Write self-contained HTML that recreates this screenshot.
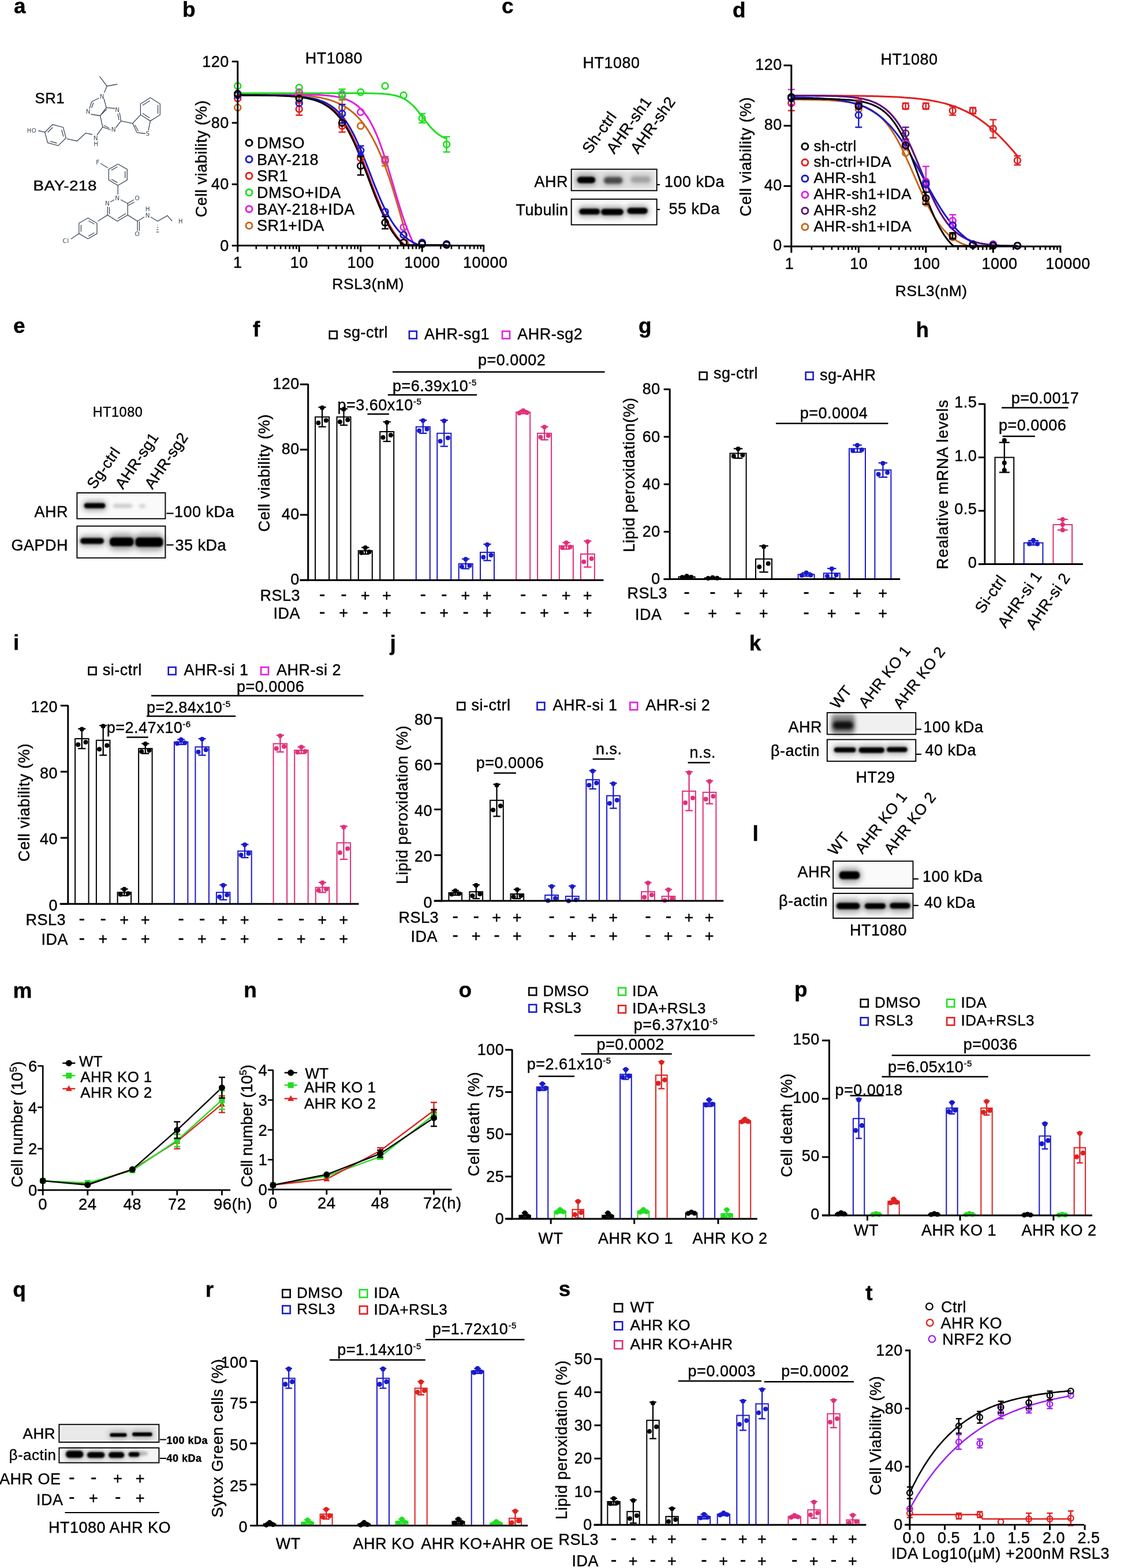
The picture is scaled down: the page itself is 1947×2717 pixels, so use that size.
<!DOCTYPE html><html><head><meta charset="utf-8"><title>Figure</title><style>html,body{margin:0;padding:0;background:#fff;width:1947px;height:2717px;overflow:hidden}svg{display:block;font-family:"Liberation Sans",Arial,sans-serif}svg text{stroke:#000;stroke-width:0.4px;letter-spacing:0.5px}svg text.at{stroke:none}</style></head><body><svg width="1947" height="2717" viewBox="0 0 1947 2717" font-family="Liberation Sans, Arial, sans-serif"><defs><filter id="b1" x="-50%" y="-80%" width="200%" height="260%"><feGaussianBlur stdDeviation="0.5"/></filter><filter id="b2" x="-50%" y="-80%" width="200%" height="260%"><feGaussianBlur stdDeviation="1"/></filter><filter id="b3" x="-50%" y="-80%" width="200%" height="260%"><feGaussianBlur stdDeviation="1.5"/></filter><filter id="b4" x="-50%" y="-80%" width="200%" height="260%"><feGaussianBlur stdDeviation="2"/></filter><filter id="b5" x="-50%" y="-80%" width="200%" height="260%"><feGaussianBlur stdDeviation="2.5"/></filter><filter id="b6" x="-50%" y="-80%" width="200%" height="260%"><feGaussianBlur stdDeviation="3"/></filter><filter id="b7" x="-50%" y="-80%" width="200%" height="260%"><feGaussianBlur stdDeviation="3.5"/></filter><filter id="b8" x="-50%" y="-80%" width="200%" height="260%"><feGaussianBlur stdDeviation="4"/></filter><filter id="b9" x="-50%" y="-80%" width="200%" height="260%"><feGaussianBlur stdDeviation="4.5"/></filter><filter id="b10" x="-50%" y="-80%" width="200%" height="260%"><feGaussianBlur stdDeviation="5"/></filter><filter id="b11" x="-50%" y="-80%" width="200%" height="260%"><feGaussianBlur stdDeviation="5.5"/></filter><filter id="b12" x="-50%" y="-80%" width="200%" height="260%"><feGaussianBlur stdDeviation="6"/></filter><filter id="b13" x="-50%" y="-80%" width="200%" height="260%"><feGaussianBlur stdDeviation="6.5"/></filter><filter id="b14" x="-50%" y="-80%" width="200%" height="260%"><feGaussianBlur stdDeviation="7"/></filter><filter id="b15" x="-50%" y="-80%" width="200%" height="260%"><feGaussianBlur stdDeviation="7.5"/></filter><filter id="b16" x="-50%" y="-80%" width="200%" height="260%"><feGaussianBlur stdDeviation="8"/></filter><filter id="b17" x="-50%" y="-80%" width="200%" height="260%"><feGaussianBlur stdDeviation="8.5"/></filter><filter id="b18" x="-50%" y="-80%" width="200%" height="260%"><feGaussianBlur stdDeviation="9"/></filter><filter id="b19" x="-50%" y="-80%" width="200%" height="260%"><feGaussianBlur stdDeviation="9.5"/></filter><filter id="b20" x="-50%" y="-80%" width="200%" height="260%"><feGaussianBlur stdDeviation="10"/></filter></defs><rect x="0" y="0" width="1947" height="2717" fill="#fff"/><text x="24" y="23.3" font-size="37" font-weight="bold" letter-spacing="0">a</text>
<text transform="translate(60.5 179) scale(1.01 1)" font-size="25.5" letter-spacing="0">SR1</text>
<text transform="translate(57.5 330) scale(1.135 1)" font-size="24.5" letter-spacing="0">BAY-218</text>
<path d="M172.5,132.3 L185.2,149.2 L203.2,146" stroke="#3c4a5a" stroke-width="1.3" fill="none"/>
<path d="M185.2,149.2 L180.5,160.5" stroke="#3c4a5a" stroke-width="1.3" fill="none"/>
<text class="at" x="177" y="171.3" font-size="10.5" fill="#3c4a5a" text-anchor="middle" font-family="DejaVu Sans, sans-serif">N</text>
<path d="M171.5,170 L159,176" stroke="#3c4a5a" stroke-width="1.3" fill="none"/>
<path d="M159,176 L155,188" stroke="#3c4a5a" stroke-width="1.3" fill="none"/>
<path d="M162,178 L158.5,187" stroke="#3c4a5a" stroke-width="1.3" fill="none"/>
<text class="at" x="153" y="196.8" font-size="10.5" fill="#3c4a5a" text-anchor="middle" font-family="DejaVu Sans, sans-serif">N</text>
<path d="M157.5,198 L173.6,200.5" stroke="#3c4a5a" stroke-width="1.3" fill="none"/>
<path d="M173.6,200.5 L184.2,186.3 L180,171" stroke="#3c4a5a" stroke-width="1.3" fill="none"/>
<path d="M176,198 L185,189" stroke="#3c4a5a" stroke-width="1.3" fill="none"/>
<path d="M184.2,186.3 L199,188" stroke="#3c4a5a" stroke-width="1.3" fill="none"/>
<text class="at" x="203.5" y="194.3" font-size="10.5" fill="#3c4a5a" text-anchor="middle" font-family="DejaVu Sans, sans-serif">N</text>
<path d="M207,195 L209.6,209.6 L201,221" stroke="#3c4a5a" stroke-width="1.3" fill="none"/>
<path d="M204,197 L206,208" stroke="#3c4a5a" stroke-width="1.3" fill="none"/>
<text class="at" x="197" y="228.3" font-size="10.5" fill="#3c4a5a" text-anchor="middle" font-family="DejaVu Sans, sans-serif">N</text>
<path d="M192,225 L177.8,220.2 L173.6,200.5" stroke="#3c4a5a" stroke-width="1.3" fill="none"/>
<path d="M189,222 L179.5,217" stroke="#3c4a5a" stroke-width="1.3" fill="none"/>
<path d="M177.8,220.2 L168,234" stroke="#3c4a5a" stroke-width="1.3" fill="none"/>
<text class="at" x="166" y="243.3" font-size="10.5" fill="#3c4a5a" text-anchor="middle" font-family="DejaVu Sans, sans-serif">N</text>
<text class="at" x="166.5" y="252.8" font-size="10.5" fill="#3c4a5a" text-anchor="middle" font-family="DejaVu Sans, sans-serif">H</text>
<path d="M160,233 L148.2,230.7 L133.4,244.5 L115.4,240.3" stroke="#3c4a5a" stroke-width="1.3" fill="none"/>
<path d="M114.3,239 L109.4,220.7 L91.1,215.8 L77.7,229.2 L82.6,247.5 L100.9,252.4 L114.3,239" stroke="#3c4a5a" stroke-width="1.3" fill="none"/>
<path d="M109.9,236.6 L106.8,225" stroke="#3c4a5a" stroke-width="1.3" fill="none"/>
<path d="M91.2,220.8 L82.7,229.3" stroke="#3c4a5a" stroke-width="1.3" fill="none"/>
<path d="M86.9,244.9 L98.5,248" stroke="#3c4a5a" stroke-width="1.3" fill="none"/>
<path d="M78.2,229.2 L66.5,226.5" stroke="#3c4a5a" stroke-width="1.3" fill="none"/>
<text class="at" x="55" y="229.6" font-size="10" fill="#3c4a5a" text-anchor="middle" font-family="DejaVu Sans, sans-serif">HO</text>
<path d="M209.6,209.6 L229.7,213.8" stroke="#3c4a5a" stroke-width="1.3" fill="none"/>
<path d="M229.7,213.8 L243.4,199 L260.4,209.6 L257,226" stroke="#3c4a5a" stroke-width="1.3" fill="none"/>
<path d="M252,231.5 L237.2,229.7 L229.7,213.8" stroke="#3c4a5a" stroke-width="1.3" fill="none"/>
<path d="M233.5,216.5 L239.5,227" stroke="#3c4a5a" stroke-width="1.3" fill="none"/>
<text class="at" x="256" y="235.3" font-size="10.5" fill="#3c4a5a" text-anchor="middle" font-family="DejaVu Sans, sans-serif">S</text>
<path d="M243.4,199 L243.4,180 L260.4,169.3 L277.3,180 L277.3,199 L260.4,209.6" stroke="#3c4a5a" stroke-width="1.3" fill="none"/>
<path d="M247,182.5 L259.5,174.5" stroke="#3c4a5a" stroke-width="1.3" fill="none"/>
<path d="M273.5,182 L273.5,197" stroke="#3c4a5a" stroke-width="1.3" fill="none"/>
<path d="M247,196.5 L259.5,204.5" stroke="#3c4a5a" stroke-width="1.3" fill="none"/>
<text class="at" x="169.5" y="284.8" font-size="10.5" fill="#3c4a5a" text-anchor="middle" font-family="DejaVu Sans, sans-serif">F</text>
<path d="M174,283 L187,291" stroke="#3c4a5a" stroke-width="1.3" fill="none"/>
<path d="M204.3,284.2 L188.3,293.4 L188.3,311.9 L204.3,321.2 L220.3,311.9 L220.3,293.4 L204.3,284.2" stroke="#3c4a5a" stroke-width="1.3" fill="none"/>
<path d="M203.2,289 L193,294.9" stroke="#3c4a5a" stroke-width="1.3" fill="none"/>
<path d="M193,310.5 L203.2,316.4" stroke="#3c4a5a" stroke-width="1.3" fill="none"/>
<path d="M216.7,308.6 L216.7,296.8" stroke="#3c4a5a" stroke-width="1.3" fill="none"/>
<path d="M204.3,321.2 L204.3,337" stroke="#3c4a5a" stroke-width="1.3" fill="none"/>
<text class="at" x="203.5" y="347.3" font-size="10.5" fill="#3c4a5a" text-anchor="middle" font-family="DejaVu Sans, sans-serif">N</text>
<path d="M209,346 L221.2,352.5 L232,346" stroke="#3c4a5a" stroke-width="1.3" fill="none"/>
<path d="M222,356 L233,350" stroke="#3c4a5a" stroke-width="1.3" fill="none"/>
<text class="at" x="238" y="347.3" font-size="10.5" fill="#3c4a5a" text-anchor="middle" font-family="DejaVu Sans, sans-serif">O</text>
<path d="M221.2,352.5 L221.2,372.6 L203.2,383.2 L186.3,372.6 L186.3,358" stroke="#3c4a5a" stroke-width="1.3" fill="none"/>
<path d="M218,370 L204,378.5" stroke="#3c4a5a" stroke-width="1.3" fill="none"/>
<path d="M189.5,371 L189.5,359" stroke="#3c4a5a" stroke-width="1.3" fill="none"/>
<text class="at" x="186.3" y="355.8" font-size="10.5" fill="#3c4a5a" text-anchor="middle" font-family="DejaVu Sans, sans-serif">N</text>
<path d="M191,350 L198,346" stroke="#3c4a5a" stroke-width="1.3" fill="none"/>
<path d="M221.2,372.6 L238.1,383.2 L250,376" stroke="#3c4a5a" stroke-width="1.3" fill="none"/>
<text class="at" x="256" y="376.8" font-size="10.5" fill="#3c4a5a" text-anchor="middle" font-family="DejaVu Sans, sans-serif">N</text>
<text class="at" x="256" y="366.3" font-size="10.5" fill="#3c4a5a" text-anchor="middle" font-family="DejaVu Sans, sans-serif">H</text>
<path d="M238.1,383.2 L238.1,400" stroke="#3c4a5a" stroke-width="1.3" fill="none"/>
<path d="M241.5,384 L241.5,400" stroke="#3c4a5a" stroke-width="1.3" fill="none"/>
<text class="at" x="238" y="409.3" font-size="10.5" fill="#3c4a5a" text-anchor="middle" font-family="DejaVu Sans, sans-serif">O</text>
<path d="M261,376 L273,383.2 L290,373.6 L298,383" stroke="#3c4a5a" stroke-width="1.3" fill="none"/>
<text class="at" x="313" y="387.1" font-size="10" fill="#3c4a5a" text-anchor="middle" font-family="DejaVu Sans, sans-serif">H</text>
<line x1="273" y1="386" x2="273" y2="386" stroke="#3c4a5a" stroke-width="1.2"/>
<line x1="272.4" y1="390" x2="273.6" y2="390" stroke="#3c4a5a" stroke-width="1.2"/>
<line x1="271.8" y1="394" x2="274.2" y2="394" stroke="#3c4a5a" stroke-width="1.2"/>
<line x1="271.2" y1="398" x2="274.8" y2="398" stroke="#3c4a5a" stroke-width="1.2"/>
<line x1="270.6" y1="402" x2="275.4" y2="402" stroke="#3c4a5a" stroke-width="1.2"/>
<path d="M186.3,372.6 L169.3,383.2" stroke="#3c4a5a" stroke-width="1.3" fill="none"/>
<path d="M168,386.8 L152.4,377.8 L136.8,386.8 L136.8,404.8 L152.4,413.8 L168,404.8 L168,386.8" stroke="#3c4a5a" stroke-width="1.3" fill="none"/>
<path d="M163.4,388.3 L153.4,382.5" stroke="#3c4a5a" stroke-width="1.3" fill="none"/>
<path d="M140.4,390 L140.4,401.6" stroke="#3c4a5a" stroke-width="1.3" fill="none"/>
<path d="M153.4,409.1 L163.4,403.3" stroke="#3c4a5a" stroke-width="1.3" fill="none"/>
<path d="M136.8,404.8 L123,414" stroke="#3c4a5a" stroke-width="1.3" fill="none"/>
<text class="at" x="114" y="420.8" font-size="10.5" fill="#3c4a5a" text-anchor="middle" font-family="DejaVu Sans, sans-serif">Cl</text>
<text x="315.9" y="29.2" font-size="37" font-weight="bold" letter-spacing="0">b</text>
<text x="578.4" y="109.5" font-size="27" text-anchor="middle" letter-spacing="0.95">HT1080</text>
<path d="M411.7,162.2L414.7,162.2L417.7,162.2L420.7,162.2L423.8,162.2L426.8,162.2L429.8,162.3L432.8,162.3L435.8,162.3L438.8,162.3L441.9,162.4L444.9,162.4L447.9,162.4L450.9,162.4L453.9,162.5L456.9,162.5L460,162.6L463,162.6L466,162.7L469,162.7L472,162.8L475,162.8L478,162.9L481.1,163L484.1,163.1L487.1,163.2L490.1,163.3L493.1,163.4L496.1,163.5L499.2,163.6L502.2,163.7L505.2,163.9L508.2,164L511.2,164.2L514.2,164.4L517.2,164.6L520.3,164.8L523.3,165.1L526.3,165.3L529.3,165.6L532.3,165.9L535.3,166.3L538.4,166.6L541.4,167L544.4,167.5L547.4,167.9L550.4,168.4L553.4,169L556.5,169.6L559.5,170.2L562.5,170.9L565.5,171.7L568.5,172.5L571.5,173.4L574.5,174.4L577.6,175.4L580.6,176.6L583.6,177.8L586.6,179.1L589.6,180.6L592.6,182.1L595.7,183.8L598.7,185.6L601.7,187.6L604.7,189.7L607.7,192L610.7,194.4L613.8,197.1L616.8,199.9L619.8,203L622.8,206.3L625.8,209.8L628.8,213.5L631.8,217.6L634.9,221.9L637.9,226.5L640.9,231.4L643.9,236.6L646.9,242.1L649.9,248L653,254.2L656,260.8L659,267.8L662,275.1L665,282.7L668,290.8L671,299.2L674.1,307.9L677.1,317L680.1,326.4L683.1,336.2L686.1,346.2L689.1,356.5L692.2,367.1L695.2,377.9L698.2,388.9L701.2,400L704.2,411.3L707.2,422.6L710.3,424.8L713.3,424.8L716.3,424.8L719.3,424.8L722.3,424.8L725.3,424.8L728.3,424.8L731.4,424.8L734.4,424.8L737.4,424.8L740.4,424.8L743.4,424.8L746.4,424.8L749.5,424.8L752.5,424.8L755.5,424.8L758.5,424.8L761.5,424.8L764.5,424.8L767.5,424.8L770.6,424.8L773.6,424.8" stroke="#c8661a" stroke-width="3" fill="none"/>
<path d="M411.7,163.4L414.7,163.4L417.7,163.4L420.7,163.4L423.8,163.4L426.8,163.4L429.8,163.4L432.8,163.4L435.8,163.4L438.8,163.4L441.9,163.4L444.9,163.4L447.9,163.4L450.9,163.4L453.9,163.4L456.9,163.4L460,163.4L463,163.4L466,163.4L469,163.4L472,163.4L475,163.4L478,163.4L481.1,163.4L484.1,163.4L487.1,163.4L490.1,163.4L493.1,163.4L496.1,163.5L499.2,163.5L502.2,163.5L505.2,163.5L508.2,163.5L511.2,163.6L514.2,163.6L517.2,163.6L520.3,163.6L523.3,163.7L526.3,163.7L529.3,163.8L532.3,163.8L535.3,163.9L538.4,164L541.4,164.1L544.4,164.2L547.4,164.3L550.4,164.4L553.4,164.6L556.5,164.8L559.5,164.9L562.5,165.2L565.5,165.4L568.5,165.7L571.5,166L574.5,166.4L577.6,166.8L580.6,167.3L583.6,167.9L586.6,168.5L589.6,169.2L592.6,170L595.7,170.9L598.7,171.9L601.7,173.1L604.7,174.4L607.7,175.9L610.7,177.5L613.8,179.4L616.8,181.5L619.8,183.9L622.8,186.6L625.8,189.5L628.8,192.8L631.8,196.5L634.9,200.6L637.9,205.1L640.9,210.1L643.9,215.6L646.9,221.5L649.9,228L653,235L656,242.5L659,250.5L662,258.9L665,267.9L668,277.2L671,286.9L674.1,296.8L677.1,306.9L680.1,317.2L683.1,327.5L686.1,337.7L689.1,347.8L692.2,357.6L695.2,367.2L698.2,376.4L701.2,385.2L704.2,393.5L707.2,401.3L710.3,408.6L713.3,415.4L716.3,421.7L719.3,424.8L722.3,424.8L725.3,424.8L728.3,424.8L731.4,424.8L734.4,424.8L737.4,424.8L740.4,424.8L743.4,424.8L746.4,424.8L749.5,424.8L752.5,424.8L755.5,424.8L758.5,424.8L761.5,424.8L764.5,424.8L767.5,424.8L770.6,424.8L773.6,424.8" stroke="#e020e0" stroke-width="3" fill="none"/>
<path d="M411.7,161.4L414.7,161.4L417.7,161.4L420.7,161.4L423.8,161.4L426.8,161.4L429.8,161.4L432.8,161.4L435.8,161.4L438.8,161.4L441.9,161.4L444.9,161.4L447.9,161.4L450.9,161.4L453.9,161.4L456.9,161.4L460,161.4L463,161.4L466,161.4L469,161.4L472,161.4L475,161.4L478,161.4L481.1,161.4L484.1,161.4L487.1,161.4L490.1,161.4L493.1,161.4L496.1,161.4L499.2,161.4L502.2,161.4L505.2,161.4L508.2,161.4L511.2,161.4L514.2,161.4L517.2,161.4L520.3,161.4L523.3,161.4L526.3,161.4L529.3,161.4L532.3,161.4L535.3,161.4L538.4,161.4L541.4,161.4L544.4,161.4L547.4,161.4L550.4,161.4L553.4,161.4L556.5,161.4L559.5,161.4L562.5,161.4L565.5,161.4L568.5,161.4L571.5,161.4L574.5,161.4L577.6,161.4L580.6,161.4L583.6,161.4L586.6,161.4L589.6,161.4L592.6,161.4L595.7,161.4L598.7,161.4L601.7,161.4L604.7,161.4L607.7,161.5L610.7,161.5L613.8,161.5L616.8,161.5L619.8,161.5L622.8,161.5L625.8,161.5L628.8,161.6L631.8,161.6L634.9,161.6L637.9,161.7L640.9,161.7L643.9,161.8L646.9,161.8L649.9,161.9L653,162L656,162.1L659,162.3L662,162.5L665,162.7L668,162.9L671,163.2L674.1,163.6L677.1,164L680.1,164.6L683.1,165.2L686.1,165.9L689.1,166.8L692.2,167.8L695.2,169L698.2,170.3L701.2,172L704.2,173.8L707.2,175.9L710.3,178.3L713.3,181L716.3,183.9L719.3,187.1L722.3,190.6L725.3,194.3L728.3,198.1L731.4,202.1L734.4,206L737.4,210L740.4,213.8L743.4,217.5L746.4,220.9L749.5,224.2L752.5,227.1L755.5,229.8L758.5,232.2L761.5,234.3L764.5,236.1L767.5,237.7L770.6,239.1L773.6,240.3" stroke="#22dd22" stroke-width="3" fill="none"/>
<path d="M411.7,165L414.7,165L417.7,165L420.7,165L423.8,165L426.8,165L429.8,165L432.8,165L435.8,165L438.8,165.1L441.9,165.1L444.9,165.1L447.9,165.1L450.9,165.1L453.9,165.2L456.9,165.2L460,165.2L463,165.3L466,165.3L469,165.4L472,165.4L475,165.5L478,165.6L481.1,165.7L484.1,165.7L487.1,165.8L490.1,166L493.1,166.1L496.1,166.2L499.2,166.4L502.2,166.6L505.2,166.8L508.2,167L511.2,167.2L514.2,167.5L517.2,167.8L520.3,168.1L523.3,168.5L526.3,169L529.3,169.4L532.3,170L535.3,170.6L538.4,171.2L541.4,172L544.4,172.8L547.4,173.7L550.4,174.7L553.4,175.8L556.5,177.1L559.5,178.5L562.5,180L565.5,181.7L568.5,183.6L571.5,185.6L574.5,187.9L577.6,190.4L580.6,193.2L583.6,196.2L586.6,199.5L589.6,203L592.6,206.9L595.7,211.1L598.7,215.7L601.7,220.5L604.7,225.8L607.7,231.4L610.7,237.3L613.8,243.6L616.8,250.2L619.8,257.1L622.8,264.2L625.8,271.7L628.8,279.3L631.8,287.1L634.9,295.1L637.9,303.1L640.9,311.2L643.9,319.2L646.9,327.2L649.9,335L653,342.7L656,350.1L659,357.4L662,364.3L665,370.9L668,377.2L671,383.2L674.1,388.9L677.1,394.1L680.1,399.1L683.1,403.7L686.1,407.9L689.1,411.8L692.2,415.5L695.2,418.8L698.2,421.8L701.2,424.6L704.2,424.8L707.2,424.8L710.3,424.8L713.3,424.8L716.3,424.8L719.3,424.8L722.3,424.8L725.3,424.8L728.3,424.8L731.4,424.8L734.4,424.8L737.4,424.8L740.4,424.8L743.4,424.8L746.4,424.8L749.5,424.8L752.5,424.8L755.5,424.8L758.5,424.8L761.5,424.8L764.5,424.8L767.5,424.8L770.6,424.8L773.6,424.8" stroke="#e02020" stroke-width="3" fill="none"/>
<path d="M411.7,164.9L414.7,164.9L417.7,164.9L420.7,164.9L423.8,164.9L426.8,164.9L429.8,164.9L432.8,164.9L435.8,164.9L438.8,165L441.9,165L444.9,165L447.9,165L450.9,165L453.9,165L456.9,165.1L460,165.1L463,165.1L466,165.2L469,165.2L472,165.2L475,165.3L478,165.3L481.1,165.4L484.1,165.5L487.1,165.6L490.1,165.6L493.1,165.7L496.1,165.9L499.2,166L502.2,166.1L505.2,166.3L508.2,166.4L511.2,166.6L514.2,166.9L517.2,167.1L520.3,167.4L523.3,167.7L526.3,168L529.3,168.4L532.3,168.9L535.3,169.4L538.4,169.9L541.4,170.5L544.4,171.2L547.4,172L550.4,172.8L553.4,173.8L556.5,174.9L559.5,176L562.5,177.4L565.5,178.8L568.5,180.5L571.5,182.3L574.5,184.3L577.6,186.5L580.6,188.9L583.6,191.6L586.6,194.5L589.6,197.7L592.6,201.3L595.7,205.1L598.7,209.3L601.7,213.7L604.7,218.6L607.7,223.8L610.7,229.3L613.8,235.2L616.8,241.4L619.8,248L622.8,254.8L625.8,261.9L628.8,269.3L631.8,276.8L634.9,284.5L637.9,292.3L640.9,300.1L643.9,308L646.9,315.8L649.9,323.4L653,330.9L656,338.2L659,345.3L662,352.1L665,358.6L668,364.8L671,370.6L674.1,376.1L677.1,381.2L680.1,386L683.1,390.4L686.1,394.5L689.1,398.3L692.2,401.7L695.2,404.9L698.2,407.8L701.2,410.4L704.2,412.8L707.2,415L710.3,417L713.3,418.7L716.3,420.3L719.3,421.8L722.3,423.1L725.3,424.2L728.3,424.8L731.4,424.8L734.4,424.8L737.4,424.8L740.4,424.8L743.4,424.8L746.4,424.8L749.5,424.8L752.5,424.8L755.5,424.8L758.5,424.8L761.5,424.8L764.5,424.8L767.5,424.8L770.6,424.8L773.6,424.8" stroke="#1a1acc" stroke-width="3" fill="none"/>
<path d="M411.7,165L414.7,165L417.7,165L420.7,165L423.8,165L426.8,165L429.8,165L432.8,165L435.8,165L438.8,165.1L441.9,165.1L444.9,165.1L447.9,165.1L450.9,165.2L453.9,165.2L456.9,165.2L460,165.3L463,165.3L466,165.4L469,165.4L472,165.5L475,165.5L478,165.6L481.1,165.7L484.1,165.8L487.1,165.9L490.1,166L493.1,166.2L496.1,166.3L499.2,166.5L502.2,166.7L505.2,166.9L508.2,167.1L511.2,167.4L514.2,167.7L517.2,168L520.3,168.4L523.3,168.8L526.3,169.3L529.3,169.8L532.3,170.3L535.3,171L538.4,171.7L541.4,172.5L544.4,173.3L547.4,174.3L550.4,175.4L553.4,176.6L556.5,178L559.5,179.4L562.5,181.1L565.5,182.9L568.5,184.9L571.5,187.1L574.5,189.5L577.6,192.2L580.6,195.1L583.6,198.3L586.6,201.7L589.6,205.5L592.6,209.6L595.7,214L598.7,218.8L601.7,223.9L604.7,229.4L607.7,235.2L610.7,241.3L613.8,247.8L616.8,254.6L619.8,261.7L622.8,269L625.8,276.6L628.8,284.4L631.8,292.3L634.9,300.3L637.9,308.3L640.9,316.4L643.9,324.4L646.9,332.2L649.9,340L653,347.5L656,354.8L659,361.9L662,368.6L665,375.1L668,381.2L671,386.9L674.1,392.3L677.1,397.4L680.1,402.1L683.1,406.4L686.1,410.5L689.1,414.2L692.2,417.6L695.2,420.8L698.2,423.7L701.2,424.8L704.2,424.8L707.2,424.8L710.3,424.8L713.3,424.8L716.3,424.8L719.3,424.8L722.3,424.8L725.3,424.8L728.3,424.8L731.4,424.8L734.4,424.8L737.4,424.8L740.4,424.8L743.4,424.8L746.4,424.8L749.5,424.8L752.5,424.8L755.5,424.8L758.5,424.8L761.5,424.8L764.5,424.8L767.5,424.8L770.6,424.8L773.6,424.8" stroke="#000" stroke-width="3" fill="none"/>
<circle cx="411.7" cy="186.4" r="5.4" stroke="#c8661a" stroke-width="2.7" fill="none"/>
<circle cx="518.2" cy="165.1" r="5.4" stroke="#c8661a" stroke-width="2.7" fill="none"/>
<line x1="592.6" y1="173.1" x2="592.6" y2="199.6" stroke="#c8661a" stroke-width="2.4"/>
<line x1="586.6" y1="173.1" x2="598.6" y2="173.1" stroke="#c8661a" stroke-width="2.4"/>
<line x1="586.6" y1="199.6" x2="598.6" y2="199.6" stroke="#c8661a" stroke-width="2.4"/>
<circle cx="592.6" cy="186.4" r="5.4" stroke="#c8661a" stroke-width="2.7" fill="none"/>
<circle cx="624.7" cy="218.3" r="5.4" stroke="#c8661a" stroke-width="2.7" fill="none"/>
<line x1="667.1" y1="271.4" x2="667.1" y2="287.4" stroke="#c8661a" stroke-width="2.4"/>
<line x1="661.1" y1="271.4" x2="673.1" y2="271.4" stroke="#c8661a" stroke-width="2.4"/>
<line x1="661.1" y1="287.4" x2="673.1" y2="287.4" stroke="#c8661a" stroke-width="2.4"/>
<circle cx="667.1" cy="279.4" r="5.4" stroke="#c8661a" stroke-width="2.7" fill="none"/>
<circle cx="699.1" cy="407" r="5.4" stroke="#c8661a" stroke-width="2.7" fill="none"/>
<circle cx="731.2" cy="421.6" r="5.4" stroke="#c8661a" stroke-width="2.7" fill="none"/>
<circle cx="773.6" cy="422.9" r="5.4" stroke="#c8661a" stroke-width="2.7" fill="none"/>
<circle cx="411.7" cy="162.4" r="5.4" stroke="#e020e0" stroke-width="2.7" fill="none"/>
<circle cx="518.2" cy="159.8" r="5.4" stroke="#e020e0" stroke-width="2.7" fill="none"/>
<circle cx="592.6" cy="165.1" r="5.4" stroke="#e020e0" stroke-width="2.7" fill="none"/>
<circle cx="624.7" cy="194.3" r="5.4" stroke="#e020e0" stroke-width="2.7" fill="none"/>
<circle cx="667.1" cy="276.7" r="5.4" stroke="#e020e0" stroke-width="2.7" fill="none"/>
<circle cx="699.1" cy="393.7" r="5.4" stroke="#e020e0" stroke-width="2.7" fill="none"/>
<circle cx="731.2" cy="422.9" r="5.4" stroke="#e020e0" stroke-width="2.7" fill="none"/>
<circle cx="773.6" cy="422.9" r="5.4" stroke="#e020e0" stroke-width="2.7" fill="none"/>
<circle cx="411.7" cy="149.1" r="5.4" stroke="#22dd22" stroke-width="2.7" fill="none"/>
<circle cx="518.2" cy="151.8" r="5.4" stroke="#22dd22" stroke-width="2.7" fill="none"/>
<line x1="592.6" y1="154.5" x2="592.6" y2="170.4" stroke="#22dd22" stroke-width="2.4"/>
<line x1="586.6" y1="154.5" x2="598.6" y2="154.5" stroke="#22dd22" stroke-width="2.4"/>
<line x1="586.6" y1="170.4" x2="598.6" y2="170.4" stroke="#22dd22" stroke-width="2.4"/>
<circle cx="592.6" cy="162.4" r="5.4" stroke="#22dd22" stroke-width="2.7" fill="none"/>
<circle cx="624.7" cy="159.8" r="5.4" stroke="#22dd22" stroke-width="2.7" fill="none"/>
<circle cx="667.1" cy="149.1" r="5.4" stroke="#22dd22" stroke-width="2.7" fill="none"/>
<circle cx="699.1" cy="165.1" r="5.4" stroke="#22dd22" stroke-width="2.7" fill="none"/>
<line x1="731.2" y1="197" x2="731.2" y2="212.9" stroke="#22dd22" stroke-width="2.4"/>
<line x1="725.2" y1="197" x2="737.2" y2="197" stroke="#22dd22" stroke-width="2.4"/>
<line x1="725.2" y1="212.9" x2="737.2" y2="212.9" stroke="#22dd22" stroke-width="2.4"/>
<circle cx="731.2" cy="205" r="5.4" stroke="#22dd22" stroke-width="2.7" fill="none"/>
<line x1="773.6" y1="236.9" x2="773.6" y2="263.4" stroke="#22dd22" stroke-width="2.4"/>
<line x1="767.6" y1="236.9" x2="779.6" y2="236.9" stroke="#22dd22" stroke-width="2.4"/>
<line x1="767.6" y1="263.4" x2="779.6" y2="263.4" stroke="#22dd22" stroke-width="2.4"/>
<circle cx="773.6" cy="250.2" r="5.4" stroke="#22dd22" stroke-width="2.7" fill="none"/>
<circle cx="411.7" cy="170.4" r="5.4" stroke="#e02020" stroke-width="2.7" fill="none"/>
<line x1="518.2" y1="178.4" x2="518.2" y2="199.6" stroke="#e02020" stroke-width="2.4"/>
<line x1="512.2" y1="178.4" x2="524.2" y2="178.4" stroke="#e02020" stroke-width="2.4"/>
<line x1="512.2" y1="199.6" x2="524.2" y2="199.6" stroke="#e02020" stroke-width="2.4"/>
<circle cx="518.2" cy="189" r="5.4" stroke="#e02020" stroke-width="2.7" fill="none"/>
<line x1="592.6" y1="207.6" x2="592.6" y2="228.9" stroke="#e02020" stroke-width="2.4"/>
<line x1="586.6" y1="207.6" x2="598.6" y2="207.6" stroke="#e02020" stroke-width="2.4"/>
<line x1="586.6" y1="228.9" x2="598.6" y2="228.9" stroke="#e02020" stroke-width="2.4"/>
<circle cx="592.6" cy="218.3" r="5.4" stroke="#e02020" stroke-width="2.7" fill="none"/>
<circle cx="624.7" cy="274.1" r="5.4" stroke="#e02020" stroke-width="2.7" fill="none"/>
<circle cx="667.1" cy="385.7" r="5.4" stroke="#e02020" stroke-width="2.7" fill="none"/>
<circle cx="699.1" cy="420.3" r="5.4" stroke="#e02020" stroke-width="2.7" fill="none"/>
<circle cx="731.2" cy="422.9" r="5.4" stroke="#e02020" stroke-width="2.7" fill="none"/>
<circle cx="773.6" cy="424.3" r="5.4" stroke="#e02020" stroke-width="2.7" fill="none"/>
<circle cx="411.7" cy="165.1" r="5.4" stroke="#1a1acc" stroke-width="2.7" fill="none"/>
<circle cx="518.2" cy="178.4" r="5.4" stroke="#1a1acc" stroke-width="2.7" fill="none"/>
<line x1="592.6" y1="181" x2="592.6" y2="212.9" stroke="#1a1acc" stroke-width="2.4"/>
<line x1="586.6" y1="181" x2="598.6" y2="181" stroke="#1a1acc" stroke-width="2.4"/>
<line x1="586.6" y1="212.9" x2="598.6" y2="212.9" stroke="#1a1acc" stroke-width="2.4"/>
<circle cx="592.6" cy="197" r="5.4" stroke="#1a1acc" stroke-width="2.7" fill="none"/>
<line x1="624.7" y1="252.8" x2="624.7" y2="268.8" stroke="#1a1acc" stroke-width="2.4"/>
<line x1="618.7" y1="252.8" x2="630.7" y2="252.8" stroke="#1a1acc" stroke-width="2.4"/>
<line x1="618.7" y1="268.8" x2="630.7" y2="268.8" stroke="#1a1acc" stroke-width="2.4"/>
<circle cx="624.7" cy="260.8" r="5.4" stroke="#1a1acc" stroke-width="2.7" fill="none"/>
<circle cx="667.1" cy="367.1" r="5.4" stroke="#1a1acc" stroke-width="2.7" fill="none"/>
<circle cx="699.1" cy="407" r="5.4" stroke="#1a1acc" stroke-width="2.7" fill="none"/>
<circle cx="731.2" cy="420.3" r="5.4" stroke="#1a1acc" stroke-width="2.7" fill="none"/>
<circle cx="773.6" cy="422.9" r="5.4" stroke="#1a1acc" stroke-width="2.7" fill="none"/>
<circle cx="411.7" cy="162.4" r="5.4" stroke="#000" stroke-width="2.7" fill="none"/>
<circle cx="518.2" cy="170.4" r="5.4" stroke="#000" stroke-width="2.7" fill="none"/>
<circle cx="592.6" cy="212.9" r="5.4" stroke="#000" stroke-width="2.7" fill="none"/>
<line x1="624.7" y1="271.4" x2="624.7" y2="303.3" stroke="#000" stroke-width="2.4"/>
<line x1="618.7" y1="271.4" x2="630.7" y2="271.4" stroke="#000" stroke-width="2.4"/>
<line x1="618.7" y1="303.3" x2="630.7" y2="303.3" stroke="#000" stroke-width="2.4"/>
<circle cx="624.7" cy="287.4" r="5.4" stroke="#000" stroke-width="2.7" fill="none"/>
<line x1="667.1" y1="375.1" x2="667.1" y2="396.4" stroke="#000" stroke-width="2.4"/>
<line x1="661.1" y1="375.1" x2="673.1" y2="375.1" stroke="#000" stroke-width="2.4"/>
<line x1="661.1" y1="396.4" x2="673.1" y2="396.4" stroke="#000" stroke-width="2.4"/>
<circle cx="667.1" cy="385.7" r="5.4" stroke="#000" stroke-width="2.7" fill="none"/>
<circle cx="699.1" cy="420.3" r="5.4" stroke="#000" stroke-width="2.7" fill="none"/>
<circle cx="731.2" cy="422.9" r="5.4" stroke="#000" stroke-width="2.7" fill="none"/>
<circle cx="773.6" cy="424.3" r="5.4" stroke="#000" stroke-width="2.7" fill="none"/>
<line x1="411.7" y1="105.6" x2="411.7" y2="427.1" stroke="#000" stroke-width="3"/>
<line x1="401.7" y1="425.6" x2="411.7" y2="425.6" stroke="#000" stroke-width="3"/>
<text x="396.9" y="434.7" font-size="27" text-anchor="end" letter-spacing="0.1">0</text>
<line x1="401.7" y1="319.3" x2="411.7" y2="319.3" stroke="#000" stroke-width="3"/>
<text x="396.9" y="328.4" font-size="27" text-anchor="end" letter-spacing="0.1">40</text>
<line x1="401.7" y1="212.9" x2="411.7" y2="212.9" stroke="#000" stroke-width="3"/>
<text x="396.9" y="222" font-size="27" text-anchor="end" letter-spacing="0.1">80</text>
<line x1="401.7" y1="106.6" x2="411.7" y2="106.6" stroke="#000" stroke-width="3"/>
<text x="396.9" y="115.7" font-size="27" text-anchor="end" letter-spacing="0.1">120</text>
<line x1="410.2" y1="425.6" x2="839.2" y2="425.6" stroke="#000" stroke-width="3"/>
<line x1="411.7" y1="425.6" x2="411.7" y2="436.6" stroke="#000" stroke-width="3"/>
<line x1="443.8" y1="425.6" x2="443.8" y2="431.6" stroke="#000" stroke-width="2.6"/>
<line x1="462.5" y1="425.6" x2="462.5" y2="431.6" stroke="#000" stroke-width="2.6"/>
<line x1="475.8" y1="425.6" x2="475.8" y2="431.6" stroke="#000" stroke-width="2.6"/>
<line x1="486.1" y1="425.6" x2="486.1" y2="431.6" stroke="#000" stroke-width="2.6"/>
<line x1="494.6" y1="425.6" x2="494.6" y2="431.6" stroke="#000" stroke-width="2.6"/>
<line x1="501.7" y1="425.6" x2="501.7" y2="431.6" stroke="#000" stroke-width="2.6"/>
<line x1="507.9" y1="425.6" x2="507.9" y2="431.6" stroke="#000" stroke-width="2.6"/>
<line x1="513.3" y1="425.6" x2="513.3" y2="431.6" stroke="#000" stroke-width="2.6"/>
<line x1="518.2" y1="425.6" x2="518.2" y2="436.6" stroke="#000" stroke-width="3"/>
<line x1="550.3" y1="425.6" x2="550.3" y2="431.6" stroke="#000" stroke-width="2.6"/>
<line x1="569" y1="425.6" x2="569" y2="431.6" stroke="#000" stroke-width="2.6"/>
<line x1="582.3" y1="425.6" x2="582.3" y2="431.6" stroke="#000" stroke-width="2.6"/>
<line x1="592.6" y1="425.6" x2="592.6" y2="431.6" stroke="#000" stroke-width="2.6"/>
<line x1="601.1" y1="425.6" x2="601.1" y2="431.6" stroke="#000" stroke-width="2.6"/>
<line x1="608.2" y1="425.6" x2="608.2" y2="431.6" stroke="#000" stroke-width="2.6"/>
<line x1="614.4" y1="425.6" x2="614.4" y2="431.6" stroke="#000" stroke-width="2.6"/>
<line x1="619.8" y1="425.6" x2="619.8" y2="431.6" stroke="#000" stroke-width="2.6"/>
<line x1="624.7" y1="425.6" x2="624.7" y2="436.6" stroke="#000" stroke-width="3"/>
<line x1="656.8" y1="425.6" x2="656.8" y2="431.6" stroke="#000" stroke-width="2.6"/>
<line x1="675.5" y1="425.6" x2="675.5" y2="431.6" stroke="#000" stroke-width="2.6"/>
<line x1="688.8" y1="425.6" x2="688.8" y2="431.6" stroke="#000" stroke-width="2.6"/>
<line x1="699.1" y1="425.6" x2="699.1" y2="431.6" stroke="#000" stroke-width="2.6"/>
<line x1="707.6" y1="425.6" x2="707.6" y2="431.6" stroke="#000" stroke-width="2.6"/>
<line x1="714.7" y1="425.6" x2="714.7" y2="431.6" stroke="#000" stroke-width="2.6"/>
<line x1="720.9" y1="425.6" x2="720.9" y2="431.6" stroke="#000" stroke-width="2.6"/>
<line x1="726.3" y1="425.6" x2="726.3" y2="431.6" stroke="#000" stroke-width="2.6"/>
<line x1="731.2" y1="425.6" x2="731.2" y2="436.6" stroke="#000" stroke-width="3"/>
<line x1="763.3" y1="425.6" x2="763.3" y2="431.6" stroke="#000" stroke-width="2.6"/>
<line x1="782" y1="425.6" x2="782" y2="431.6" stroke="#000" stroke-width="2.6"/>
<line x1="795.3" y1="425.6" x2="795.3" y2="431.6" stroke="#000" stroke-width="2.6"/>
<line x1="805.6" y1="425.6" x2="805.6" y2="431.6" stroke="#000" stroke-width="2.6"/>
<line x1="814.1" y1="425.6" x2="814.1" y2="431.6" stroke="#000" stroke-width="2.6"/>
<line x1="821.2" y1="425.6" x2="821.2" y2="431.6" stroke="#000" stroke-width="2.6"/>
<line x1="827.4" y1="425.6" x2="827.4" y2="431.6" stroke="#000" stroke-width="2.6"/>
<line x1="832.8" y1="425.6" x2="832.8" y2="431.6" stroke="#000" stroke-width="2.6"/>
<line x1="837.7" y1="425.6" x2="837.7" y2="436.6" stroke="#000" stroke-width="3"/>
<text x="411.7" y="464.2" font-size="27" text-anchor="middle" letter-spacing="0.2">1</text>
<text x="518.2" y="464.2" font-size="27" text-anchor="middle" letter-spacing="0.2">10</text>
<text x="624.7" y="464.2" font-size="27" text-anchor="middle" letter-spacing="0.2">100</text>
<text x="731.2" y="464.2" font-size="27" text-anchor="middle" letter-spacing="0.2">1000</text>
<text x="840.7" y="464.2" font-size="27" text-anchor="middle" letter-spacing="0.2">10000</text>
<text x="637.7" y="500.5" font-size="26.5" text-anchor="middle" letter-spacing="0.65">RSL3(nM)</text>
<text x="357.5" y="275" font-size="27" text-anchor="middle" textLength="203" transform="rotate(-90 357.5 275)">Cell viability (%)</text>
<circle cx="431.5" cy="247.4" r="5.5" stroke="#000" stroke-width="3" fill="none"/>
<text x="445" y="256.9" font-size="27" letter-spacing="0">DMSO</text>
<circle cx="431.5" cy="276.1" r="5.5" stroke="#1a1acc" stroke-width="3" fill="none"/>
<text x="445" y="285.6" font-size="27" letter-spacing="0">BAY-218</text>
<circle cx="431.5" cy="304.8" r="5.5" stroke="#e02020" stroke-width="3" fill="none"/>
<text x="445" y="314.3" font-size="27" letter-spacing="0">SR1</text>
<circle cx="431.5" cy="333.5" r="5.5" stroke="#22dd22" stroke-width="3" fill="none"/>
<text x="445" y="343" font-size="27" letter-spacing="0">DMSO+IDA</text>
<circle cx="431.5" cy="362.2" r="5.5" stroke="#e020e0" stroke-width="3" fill="none"/>
<text x="445" y="371.7" font-size="27" letter-spacing="0">BAY-218+IDA</text>
<circle cx="431.5" cy="390.9" r="5.5" stroke="#c8661a" stroke-width="3" fill="none"/>
<text x="445" y="400.4" font-size="27" letter-spacing="0">SR1+IDA</text>
<text x="869" y="23.4" font-size="37" font-weight="bold" letter-spacing="0">c</text>
<text x="1059" y="118.2" font-size="27" text-anchor="middle" letter-spacing="0.9">HT1080</text>
<text x="1022" y="268" font-size="27" transform="rotate(-54.5 1022 268)">Sh-ctrl</text>
<text x="1064" y="268" font-size="27" transform="rotate(-54.5 1064 268)">AHR-sh1</text>
<text x="1105.5" y="268" font-size="27" transform="rotate(-54.5 1105.5 268)">AHR-sh2</text>
<rect x="988.7" y="292.4" width="149.9" height="38.9" fill="#fbfbfb"/>
<rect x="992.7" y="296.4" width="141.9" height="30.9" fill="#e0e0e0" filter="url(#b4)"/>
<rect x="996.8" y="301.2" width="37.5" height="21.3" rx="10.7" fill="#000" fill-opacity="0.25" filter="url(#b8)"/>
<rect x="999.8" y="306.2" width="31.5" height="11.3" rx="5.7" fill="#000" fill-opacity="1.00" filter="url(#b3)"/>
<rect x="1043" y="301.7" width="38.5" height="21.8" rx="10.9" fill="#000" fill-opacity="0.15" filter="url(#b8)"/>
<rect x="1046" y="306.7" width="32.5" height="11.8" rx="5.9" fill="#000" fill-opacity="0.62" filter="url(#b4)"/>
<rect x="1089.8" y="300.7" width="40" height="20.8" rx="10.4" fill="#000" fill-opacity="0.08" filter="url(#b8)"/>
<rect x="1092.8" y="305.7" width="34" height="10.8" rx="5.4" fill="#000" fill-opacity="0.22" filter="url(#b5)"/>
<rect x="989.7" y="293.3" width="148" height="37" stroke="#000" stroke-width="1.9" fill="none"/>
<rect x="988.7" y="344.1" width="149.9" height="46.3" fill="#fbfbfb"/>
<rect x="1000.2" y="356.4" width="42" height="20.3" rx="10.2" fill="#000" fill-opacity="0.30" filter="url(#b8)"/>
<rect x="1003.2" y="361.4" width="36" height="10.3" rx="5.2" fill="#000" fill-opacity="1.00" filter="url(#b3)"/>
<rect x="1038.1" y="356.8" width="44.9" height="20.9" rx="10.4" fill="#000" fill-opacity="0.30" filter="url(#b8)"/>
<rect x="1041.1" y="361.8" width="38.9" height="10.9" rx="5.4" fill="#000" fill-opacity="1.00" filter="url(#b3)"/>
<rect x="1083.4" y="354.9" width="41.5" height="20.8" rx="10.4" fill="#000" fill-opacity="0.30" filter="url(#b8)"/>
<rect x="1086.4" y="359.9" width="35.5" height="10.8" rx="5.4" fill="#000" fill-opacity="1.00" filter="url(#b3)"/>
<rect x="989.7" y="345.1" width="148" height="44.4" stroke="#000" stroke-width="1.9" fill="none"/>
<text x="984" y="323.7" font-size="27" text-anchor="end">AHR</text>
<text x="984.5" y="373" font-size="27" text-anchor="end">Tubulin</text>
<line x1="1138.3" y1="320" x2="1143" y2="320" stroke="#000" stroke-width="2.2"/>
<line x1="1138.3" y1="363" x2="1143" y2="363" stroke="#000" stroke-width="2.2"/>
<text x="1151" y="323.7" font-size="27">100 kDa</text>
<text x="1158.5" y="370.5" font-size="27">55 kDa</text>
<text x="1269.1" y="29.6" font-size="37" font-weight="bold" letter-spacing="0">d</text>
<text x="1575" y="112" font-size="27" text-anchor="middle" letter-spacing="0.95">HT1080</text>
<path d="M1370.8,165.5L1374.1,165.5L1377.3,165.5L1380.6,165.5L1383.9,165.5L1387.1,165.5L1390.4,165.6L1393.6,165.6L1396.9,165.6L1400.2,165.6L1403.4,165.6L1406.7,165.6L1410,165.6L1413.2,165.6L1416.5,165.6L1419.8,165.6L1423,165.6L1426.3,165.7L1429.5,165.7L1432.8,165.7L1436.1,165.7L1439.3,165.7L1442.6,165.7L1445.9,165.8L1449.1,165.8L1452.4,165.8L1455.7,165.8L1458.9,165.8L1462.2,165.9L1465.4,165.9L1468.7,165.9L1472,166L1475.2,166L1478.5,166L1481.8,166.1L1485,166.1L1488.3,166.2L1491.6,166.2L1494.8,166.3L1498.1,166.3L1501.3,166.4L1504.6,166.5L1507.9,166.5L1511.1,166.6L1514.4,166.7L1517.7,166.8L1520.9,166.8L1524.2,166.9L1527.5,167L1530.7,167.2L1534,167.3L1537.2,167.4L1540.5,167.5L1543.8,167.7L1547,167.8L1550.3,168L1553.6,168.1L1556.8,168.3L1560.1,168.5L1563.4,168.7L1566.6,169L1569.9,169.2L1573.1,169.4L1576.4,169.7L1579.7,170L1582.9,170.3L1586.2,170.6L1589.5,171L1592.7,171.3L1596,171.7L1599.3,172.2L1602.5,172.6L1605.8,173.1L1609,173.6L1612.3,174.1L1615.6,174.7L1618.8,175.3L1622.1,175.9L1625.4,176.6L1628.6,177.4L1631.9,178.1L1635.2,178.9L1638.4,179.8L1641.7,180.7L1644.9,181.7L1648.2,182.7L1651.5,183.8L1654.7,185L1658,186.2L1661.3,187.5L1664.5,188.9L1667.8,190.3L1671.1,191.8L1674.3,193.4L1677.6,195.1L1680.8,196.8L1684.1,198.7L1687.4,200.6L1690.6,202.6L1693.9,204.8L1697.2,207L1700.4,209.3L1703.7,211.7L1707,214.2L1710.2,216.8L1713.5,219.5L1716.7,222.3L1720,225.2L1723.3,228.2L1726.5,231.3L1729.8,234.5L1733.1,237.7L1736.3,241.1L1739.6,244.5L1742.9,248L1746.1,251.6L1749.4,255.2L1752.7,258.9L1755.9,262.6L1759.2,266.4L1762.4,270.2" stroke="#e02020" stroke-width="3" fill="none"/>
<path d="M1370.8,172.5L1374.1,172.5L1377.3,172.5L1380.6,172.6L1383.9,172.6L1387.1,172.6L1390.4,172.7L1393.6,172.7L1396.9,172.7L1400.2,172.8L1403.4,172.8L1406.7,172.9L1410,173L1413.2,173L1416.5,173.1L1419.8,173.2L1423,173.3L1426.3,173.4L1429.5,173.5L1432.8,173.7L1436.1,173.8L1439.3,174L1442.6,174.2L1445.9,174.5L1449.1,174.7L1452.4,175L1455.7,175.3L1458.9,175.7L1462.2,176.1L1465.4,176.5L1468.7,177L1472,177.5L1475.2,178.1L1478.5,178.8L1481.8,179.6L1485,180.5L1488.3,181.4L1491.6,182.5L1494.8,183.6L1498.1,184.9L1501.3,186.4L1504.6,188L1507.9,189.7L1511.1,191.7L1514.4,193.9L1517.7,196.2L1520.9,198.8L1524.2,201.7L1527.5,204.8L1530.7,208.2L1534,211.9L1537.2,215.9L1540.5,220.2L1543.8,224.9L1547,229.9L1550.3,235.2L1553.6,240.8L1556.8,246.8L1560.1,253L1563.4,259.6L1566.6,266.4L1569.9,273.4L1573.1,280.6L1576.4,288L1579.7,295.5L1582.9,303L1586.2,310.5L1589.5,318L1592.7,325.4L1596,332.7L1599.3,339.8L1602.5,346.6L1605.8,353.3L1609,359.6L1612.3,365.6L1615.6,371.4L1618.8,376.8L1622.1,381.8L1625.4,386.6L1628.6,391L1631.9,395.1L1635.2,398.9L1638.4,402.3L1641.7,405.5L1644.9,408.5L1648.2,411.1L1651.5,413.6L1654.7,415.8L1658,417.8L1661.3,419.6L1664.5,421.3L1667.8,422.7L1671.1,424.1L1674.3,425.3L1677.6,426.2L1680.8,426.2L1684.1,426.2L1687.4,426.2L1690.6,426.2L1693.9,426.2L1697.2,426.2L1700.4,426.2L1703.7,426.2L1707,426.2L1710.2,426.2L1713.5,426.2L1716.7,426.2L1720,426.2L1723.3,426.2L1726.5,426.2L1729.8,426.2L1733.1,426.2L1736.3,426.2L1739.6,426.2L1742.9,426.2L1746.1,426.2L1749.4,426.2L1752.7,426.2L1755.9,426.2L1759.2,426.2L1762.4,426.2" stroke="#c8661a" stroke-width="3" fill="none"/>
<path d="M1370.8,165.6L1374.1,165.6L1377.3,165.7L1380.6,165.7L1383.9,165.7L1387.1,165.7L1390.4,165.7L1393.6,165.7L1396.9,165.7L1400.2,165.8L1403.4,165.8L1406.7,165.8L1410,165.8L1413.2,165.9L1416.5,165.9L1419.8,165.9L1423,166L1426.3,166L1429.5,166.1L1432.8,166.2L1436.1,166.2L1439.3,166.3L1442.6,166.4L1445.9,166.5L1449.1,166.6L1452.4,166.8L1455.7,166.9L1458.9,167.1L1462.2,167.3L1465.4,167.5L1468.7,167.8L1472,168.1L1475.2,168.4L1478.5,168.8L1481.8,169.2L1485,169.6L1488.3,170.2L1491.6,170.7L1494.8,171.4L1498.1,172.1L1501.3,173L1504.6,173.9L1507.9,174.9L1511.1,176.1L1514.4,177.4L1517.7,178.9L1520.9,180.5L1524.2,182.3L1527.5,184.4L1530.7,186.6L1534,189.1L1537.2,191.9L1540.5,194.9L1543.8,198.3L1547,201.9L1550.3,206L1553.6,210.3L1556.8,215L1560.1,220.2L1563.4,225.6L1566.6,231.5L1569.9,237.7L1573.1,244.3L1576.4,251.2L1579.7,258.4L1582.9,265.8L1586.2,273.5L1589.5,281.4L1592.7,289.3L1596,297.3L1599.3,305.3L1602.5,313.2L1605.8,321L1609,328.7L1612.3,336.1L1615.6,343.2L1618.8,350L1622.1,356.5L1625.4,362.6L1628.6,368.4L1631.9,373.8L1635.2,378.8L1638.4,383.4L1641.7,387.7L1644.9,391.6L1648.2,395.2L1651.5,398.5L1654.7,401.4L1658,404.1L1661.3,406.6L1664.5,408.7L1667.8,410.7L1671.1,412.5L1674.3,414.1L1677.6,415.5L1680.8,416.8L1684.1,417.9L1687.4,418.9L1690.6,419.8L1693.9,420.6L1697.2,421.4L1700.4,422L1703.7,422.6L1707,423.1L1710.2,423.5L1713.5,423.9L1716.7,424.3L1720,424.6L1723.3,424.9L1726.5,425.1L1729.8,425.3L1733.1,425.5L1736.3,425.7L1739.6,425.8L1742.9,426L1746.1,426.1L1749.4,426.2L1752.7,426.2L1755.9,426.2L1759.2,426.2L1762.4,426.2" stroke="#e020e0" stroke-width="3" fill="none"/>
<path d="M1370.8,165.6L1374.1,165.6L1377.3,165.7L1380.6,165.7L1383.9,165.7L1387.1,165.7L1390.4,165.7L1393.6,165.7L1396.9,165.7L1400.2,165.8L1403.4,165.8L1406.7,165.8L1410,165.8L1413.2,165.9L1416.5,165.9L1419.8,165.9L1423,166L1426.3,166L1429.5,166.1L1432.8,166.2L1436.1,166.2L1439.3,166.3L1442.6,166.4L1445.9,166.5L1449.1,166.6L1452.4,166.8L1455.7,166.9L1458.9,167.1L1462.2,167.3L1465.4,167.5L1468.7,167.8L1472,168.1L1475.2,168.4L1478.5,168.8L1481.8,169.2L1485,169.6L1488.3,170.2L1491.6,170.7L1494.8,171.4L1498.1,172.1L1501.3,173L1504.6,173.9L1507.9,174.9L1511.1,176.1L1514.4,177.4L1517.7,178.9L1520.9,180.5L1524.2,182.3L1527.5,184.4L1530.7,186.6L1534,189.1L1537.2,191.9L1540.5,194.9L1543.8,198.3L1547,201.9L1550.3,206L1553.6,210.3L1556.8,215L1560.1,220.2L1563.4,225.6L1566.6,231.5L1569.9,237.7L1573.1,244.3L1576.4,251.2L1579.7,258.4L1582.9,265.8L1586.2,273.5L1589.5,281.4L1592.7,289.3L1596,297.3L1599.3,305.3L1602.5,313.2L1605.8,321L1609,328.7L1612.3,336.1L1615.6,343.2L1618.8,350L1622.1,356.5L1625.4,362.6L1628.6,368.4L1631.9,373.8L1635.2,378.8L1638.4,383.4L1641.7,387.7L1644.9,391.6L1648.2,395.2L1651.5,398.5L1654.7,401.4L1658,404.1L1661.3,406.6L1664.5,408.7L1667.8,410.7L1671.1,412.5L1674.3,414.1L1677.6,415.5L1680.8,416.8L1684.1,417.9L1687.4,418.9L1690.6,419.8L1693.9,420.6L1697.2,421.4L1700.4,422L1703.7,422.6L1707,423.1L1710.2,423.5L1713.5,423.9L1716.7,424.3L1720,424.6L1723.3,424.9L1726.5,425.1L1729.8,425.3L1733.1,425.5L1736.3,425.7L1739.6,425.8L1742.9,426L1746.1,426.1L1749.4,426.2L1752.7,426.2L1755.9,426.2L1759.2,426.2L1762.4,426.2" stroke="#5a1a78" stroke-width="3" fill="none"/>
<path d="M1370.8,168.6L1374.1,168.7L1377.3,168.7L1380.6,168.8L1383.9,168.9L1387.1,168.9L1390.4,169L1393.6,169.1L1396.9,169.2L1400.2,169.3L1403.4,169.5L1406.7,169.6L1410,169.8L1413.2,169.9L1416.5,170.1L1419.8,170.3L1423,170.5L1426.3,170.7L1429.5,171L1432.8,171.2L1436.1,171.5L1439.3,171.9L1442.6,172.2L1445.9,172.6L1449.1,173L1452.4,173.5L1455.7,173.9L1458.9,174.5L1462.2,175.1L1465.4,175.7L1468.7,176.4L1472,177.1L1475.2,177.9L1478.5,178.8L1481.8,179.7L1485,180.7L1488.3,181.8L1491.6,183L1494.8,184.3L1498.1,185.7L1501.3,187.2L1504.6,188.9L1507.9,190.6L1511.1,192.5L1514.4,194.5L1517.7,196.7L1520.9,199L1524.2,201.5L1527.5,204.1L1530.7,206.9L1534,210L1537.2,213.2L1540.5,216.6L1543.8,220.1L1547,223.9L1550.3,227.9L1553.6,232.1L1556.8,236.5L1560.1,241.1L1563.4,245.9L1566.6,250.9L1569.9,256L1573.1,261.4L1576.4,266.8L1579.7,272.5L1582.9,278.2L1586.2,284L1589.5,290L1592.7,296L1596,302L1599.3,308L1602.5,314.1L1605.8,320.1L1609,326.1L1612.3,332L1615.6,337.8L1618.8,343.5L1622.1,349.1L1625.4,354.5L1628.6,359.8L1631.9,364.8L1635.2,369.8L1638.4,374.5L1641.7,379L1644.9,383.3L1648.2,387.5L1651.5,391.4L1654.7,395.1L1658,398.6L1661.3,402L1664.5,405.1L1667.8,408L1671.1,410.8L1674.3,413.4L1677.6,415.8L1680.8,418.1L1684.1,420.2L1687.4,422.2L1690.6,424L1693.9,425.7L1697.2,426.2L1700.4,426.2L1703.7,426.2L1707,426.2L1710.2,426.2L1713.5,426.2L1716.7,426.2L1720,426.2L1723.3,426.2L1726.5,426.2L1729.8,426.2L1733.1,426.2L1736.3,426.2L1739.6,426.2L1742.9,426.2L1746.1,426.2L1749.4,426.2L1752.7,426.2L1755.9,426.2L1759.2,426.2L1762.4,426.2" stroke="#1a1acc" stroke-width="3" fill="none"/>
<path d="M1370.8,171L1374.1,171L1377.3,171L1380.6,171.1L1383.9,171.1L1387.1,171.1L1390.4,171.1L1393.6,171.1L1396.9,171.1L1400.2,171.1L1403.4,171.1L1406.7,171.2L1410,171.2L1413.2,171.2L1416.5,171.2L1419.8,171.3L1423,171.3L1426.3,171.4L1429.5,171.4L1432.8,171.5L1436.1,171.5L1439.3,171.6L1442.6,171.7L1445.9,171.8L1449.1,171.9L1452.4,172L1455.7,172.2L1458.9,172.4L1462.2,172.5L1465.4,172.8L1468.7,173L1472,173.3L1475.2,173.6L1478.5,173.9L1481.8,174.3L1485,174.8L1488.3,175.3L1491.6,175.9L1494.8,176.5L1498.1,177.3L1501.3,178.1L1504.6,179.1L1507.9,180.2L1511.1,181.4L1514.4,182.8L1517.7,184.3L1520.9,186.1L1524.2,188L1527.5,190.2L1530.7,192.7L1534,195.4L1537.2,198.4L1540.5,201.8L1543.8,205.5L1547,209.6L1550.3,214.1L1553.6,219.1L1556.8,224.4L1560.1,230.3L1563.4,236.5L1566.6,243.2L1569.9,250.4L1573.1,258L1576.4,265.9L1579.7,274.2L1582.9,282.8L1586.2,291.6L1589.5,300.5L1592.7,309.6L1596,318.7L1599.3,327.7L1602.5,336.5L1605.8,345.2L1609,353.6L1612.3,361.7L1615.6,369.4L1618.8,376.8L1622.1,383.6L1625.4,390.1L1628.6,396.1L1631.9,401.6L1635.2,406.8L1638.4,411.4L1641.7,415.7L1644.9,419.6L1648.2,423.1L1651.5,426.2L1654.7,426.2L1658,426.2L1661.3,426.2L1664.5,426.2L1667.8,426.2L1671.1,426.2L1674.3,426.2L1677.6,426.2L1680.8,426.2L1684.1,426.2L1687.4,426.2L1690.6,426.2L1693.9,426.2L1697.2,426.2L1700.4,426.2L1703.7,426.2L1707,426.2L1710.2,426.2L1713.5,426.2L1716.7,426.2L1720,426.2L1723.3,426.2L1726.5,426.2L1729.8,426.2L1733.1,426.2L1736.3,426.2L1739.6,426.2L1742.9,426.2L1746.1,426.2L1749.4,426.2L1752.7,426.2L1755.9,426.2L1759.2,426.2L1762.4,426.2" stroke="#000" stroke-width="3" fill="none"/>
<line x1="1370.8" y1="165.6" x2="1370.8" y2="191.7" stroke="#e02020" stroke-width="2.4"/>
<line x1="1364.8" y1="165.6" x2="1376.8" y2="165.6" stroke="#e02020" stroke-width="2.4"/>
<line x1="1364.8" y1="191.7" x2="1376.8" y2="191.7" stroke="#e02020" stroke-width="2.4"/>
<circle cx="1370.8" cy="178.7" r="5.4" stroke="#e02020" stroke-width="2.7" fill="none"/>
<line x1="1487.3" y1="173.4" x2="1487.3" y2="189.1" stroke="#e02020" stroke-width="2.4"/>
<line x1="1481.3" y1="173.4" x2="1493.3" y2="173.4" stroke="#e02020" stroke-width="2.4"/>
<line x1="1481.3" y1="189.1" x2="1493.3" y2="189.1" stroke="#e02020" stroke-width="2.4"/>
<circle cx="1487.3" cy="181.3" r="5.4" stroke="#e02020" stroke-width="2.7" fill="none"/>
<line x1="1568.7" y1="178.7" x2="1568.7" y2="189.1" stroke="#e02020" stroke-width="2.4"/>
<line x1="1562.7" y1="178.7" x2="1574.7" y2="178.7" stroke="#e02020" stroke-width="2.4"/>
<line x1="1562.7" y1="189.1" x2="1574.7" y2="189.1" stroke="#e02020" stroke-width="2.4"/>
<circle cx="1568.7" cy="183.9" r="5.4" stroke="#e02020" stroke-width="2.7" fill="none"/>
<line x1="1603.8" y1="178.7" x2="1603.8" y2="189.1" stroke="#e02020" stroke-width="2.4"/>
<line x1="1597.8" y1="178.7" x2="1609.8" y2="178.7" stroke="#e02020" stroke-width="2.4"/>
<line x1="1597.8" y1="189.1" x2="1609.8" y2="189.1" stroke="#e02020" stroke-width="2.4"/>
<circle cx="1603.8" cy="183.9" r="5.4" stroke="#e02020" stroke-width="2.7" fill="none"/>
<line x1="1650.2" y1="183.9" x2="1650.2" y2="199.6" stroke="#e02020" stroke-width="2.4"/>
<line x1="1644.2" y1="183.9" x2="1656.2" y2="183.9" stroke="#e02020" stroke-width="2.4"/>
<line x1="1644.2" y1="199.6" x2="1656.2" y2="199.6" stroke="#e02020" stroke-width="2.4"/>
<circle cx="1650.2" cy="191.7" r="5.4" stroke="#e02020" stroke-width="2.7" fill="none"/>
<line x1="1685.2" y1="186.5" x2="1685.2" y2="197" stroke="#e02020" stroke-width="2.4"/>
<line x1="1679.2" y1="186.5" x2="1691.2" y2="186.5" stroke="#e02020" stroke-width="2.4"/>
<line x1="1679.2" y1="197" x2="1691.2" y2="197" stroke="#e02020" stroke-width="2.4"/>
<circle cx="1685.2" cy="191.7" r="5.4" stroke="#e02020" stroke-width="2.7" fill="none"/>
<line x1="1720.3" y1="207.4" x2="1720.3" y2="238.8" stroke="#e02020" stroke-width="2.4"/>
<line x1="1714.3" y1="207.4" x2="1726.3" y2="207.4" stroke="#e02020" stroke-width="2.4"/>
<line x1="1714.3" y1="238.8" x2="1726.3" y2="238.8" stroke="#e02020" stroke-width="2.4"/>
<circle cx="1720.3" cy="223.1" r="5.4" stroke="#e02020" stroke-width="2.7" fill="none"/>
<line x1="1762.4" y1="270.1" x2="1762.4" y2="285.8" stroke="#e02020" stroke-width="2.4"/>
<line x1="1756.4" y1="270.1" x2="1768.4" y2="270.1" stroke="#e02020" stroke-width="2.4"/>
<line x1="1756.4" y1="285.8" x2="1768.4" y2="285.8" stroke="#e02020" stroke-width="2.4"/>
<circle cx="1762.4" cy="278" r="5.4" stroke="#e02020" stroke-width="2.7" fill="none"/>
<circle cx="1370.8" cy="168.2" r="5.4" stroke="#c8661a" stroke-width="2.7" fill="none"/>
<circle cx="1487.3" cy="189.1" r="5.4" stroke="#c8661a" stroke-width="2.7" fill="none"/>
<circle cx="1568.7" cy="264.9" r="5.4" stroke="#c8661a" stroke-width="2.7" fill="none"/>
<circle cx="1603.8" cy="351.2" r="5.4" stroke="#c8661a" stroke-width="2.7" fill="none"/>
<circle cx="1650.2" cy="411.3" r="5.4" stroke="#c8661a" stroke-width="2.7" fill="none"/>
<circle cx="1685.2" cy="424.4" r="5.4" stroke="#c8661a" stroke-width="2.7" fill="none"/>
<circle cx="1720.3" cy="425.7" r="5.4" stroke="#c8661a" stroke-width="2.7" fill="none"/>
<circle cx="1762.4" cy="425.7" r="5.4" stroke="#c8661a" stroke-width="2.7" fill="none"/>
<line x1="1370.8" y1="155.1" x2="1370.8" y2="181.3" stroke="#e020e0" stroke-width="2.4"/>
<line x1="1364.8" y1="155.1" x2="1376.8" y2="155.1" stroke="#e020e0" stroke-width="2.4"/>
<line x1="1364.8" y1="181.3" x2="1376.8" y2="181.3" stroke="#e020e0" stroke-width="2.4"/>
<circle cx="1370.8" cy="168.2" r="5.4" stroke="#e020e0" stroke-width="2.7" fill="none"/>
<circle cx="1487.3" cy="183.9" r="5.4" stroke="#e020e0" stroke-width="2.7" fill="none"/>
<circle cx="1568.7" cy="249.2" r="5.4" stroke="#e020e0" stroke-width="2.7" fill="none"/>
<line x1="1603.8" y1="288.4" x2="1603.8" y2="340.7" stroke="#e020e0" stroke-width="2.4"/>
<line x1="1597.8" y1="288.4" x2="1609.8" y2="288.4" stroke="#e020e0" stroke-width="2.4"/>
<line x1="1597.8" y1="340.7" x2="1609.8" y2="340.7" stroke="#e020e0" stroke-width="2.4"/>
<circle cx="1603.8" cy="314.6" r="5.4" stroke="#e020e0" stroke-width="2.7" fill="none"/>
<line x1="1650.2" y1="372.1" x2="1650.2" y2="393" stroke="#e020e0" stroke-width="2.4"/>
<line x1="1644.2" y1="372.1" x2="1656.2" y2="372.1" stroke="#e020e0" stroke-width="2.4"/>
<line x1="1644.2" y1="393" x2="1656.2" y2="393" stroke="#e020e0" stroke-width="2.4"/>
<circle cx="1650.2" cy="382.6" r="5.4" stroke="#e020e0" stroke-width="2.7" fill="none"/>
<circle cx="1685.2" cy="423.1" r="5.4" stroke="#e020e0" stroke-width="2.7" fill="none"/>
<circle cx="1720.3" cy="423.1" r="5.4" stroke="#e020e0" stroke-width="2.7" fill="none"/>
<circle cx="1762.4" cy="425.7" r="5.4" stroke="#e020e0" stroke-width="2.7" fill="none"/>
<circle cx="1370.8" cy="168.2" r="5.4" stroke="#5a1a78" stroke-width="2.7" fill="none"/>
<circle cx="1487.3" cy="181.3" r="5.4" stroke="#5a1a78" stroke-width="2.7" fill="none"/>
<line x1="1568.7" y1="220.5" x2="1568.7" y2="241.4" stroke="#5a1a78" stroke-width="2.4"/>
<line x1="1562.7" y1="220.5" x2="1574.7" y2="220.5" stroke="#5a1a78" stroke-width="2.4"/>
<line x1="1562.7" y1="241.4" x2="1574.7" y2="241.4" stroke="#5a1a78" stroke-width="2.4"/>
<circle cx="1568.7" cy="230.9" r="5.4" stroke="#5a1a78" stroke-width="2.7" fill="none"/>
<circle cx="1603.8" cy="317.2" r="5.4" stroke="#5a1a78" stroke-width="2.7" fill="none"/>
<circle cx="1650.2" cy="390.4" r="5.4" stroke="#5a1a78" stroke-width="2.7" fill="none"/>
<circle cx="1685.2" cy="424.4" r="5.4" stroke="#5a1a78" stroke-width="2.7" fill="none"/>
<circle cx="1720.3" cy="425.7" r="5.4" stroke="#5a1a78" stroke-width="2.7" fill="none"/>
<circle cx="1762.4" cy="425.7" r="5.4" stroke="#5a1a78" stroke-width="2.7" fill="none"/>
<circle cx="1370.8" cy="170.8" r="5.4" stroke="#1a1acc" stroke-width="2.7" fill="none"/>
<line x1="1487.3" y1="178.7" x2="1487.3" y2="220.5" stroke="#1a1acc" stroke-width="2.4"/>
<line x1="1481.3" y1="178.7" x2="1493.3" y2="178.7" stroke="#1a1acc" stroke-width="2.4"/>
<line x1="1481.3" y1="220.5" x2="1493.3" y2="220.5" stroke="#1a1acc" stroke-width="2.4"/>
<circle cx="1487.3" cy="199.6" r="5.4" stroke="#1a1acc" stroke-width="2.7" fill="none"/>
<circle cx="1568.7" cy="251.9" r="5.4" stroke="#1a1acc" stroke-width="2.7" fill="none"/>
<circle cx="1603.8" cy="319.8" r="5.4" stroke="#1a1acc" stroke-width="2.7" fill="none"/>
<circle cx="1650.2" cy="390.4" r="5.4" stroke="#1a1acc" stroke-width="2.7" fill="none"/>
<circle cx="1685.2" cy="423.1" r="5.4" stroke="#1a1acc" stroke-width="2.7" fill="none"/>
<circle cx="1720.3" cy="424.4" r="5.4" stroke="#1a1acc" stroke-width="2.7" fill="none"/>
<circle cx="1762.4" cy="425.7" r="5.4" stroke="#1a1acc" stroke-width="2.7" fill="none"/>
<circle cx="1370.8" cy="168.2" r="5.4" stroke="#000" stroke-width="2.7" fill="none"/>
<circle cx="1487.3" cy="183.9" r="5.4" stroke="#000" stroke-width="2.7" fill="none"/>
<circle cx="1568.7" cy="251.9" r="5.4" stroke="#000" stroke-width="2.7" fill="none"/>
<line x1="1603.8" y1="332.9" x2="1603.8" y2="353.8" stroke="#000" stroke-width="2.4"/>
<line x1="1597.8" y1="332.9" x2="1609.8" y2="332.9" stroke="#000" stroke-width="2.4"/>
<line x1="1597.8" y1="353.8" x2="1609.8" y2="353.8" stroke="#000" stroke-width="2.4"/>
<circle cx="1603.8" cy="343.3" r="5.4" stroke="#000" stroke-width="2.7" fill="none"/>
<line x1="1650.2" y1="403.5" x2="1650.2" y2="413.9" stroke="#000" stroke-width="2.4"/>
<line x1="1644.2" y1="403.5" x2="1656.2" y2="403.5" stroke="#000" stroke-width="2.4"/>
<line x1="1644.2" y1="413.9" x2="1656.2" y2="413.9" stroke="#000" stroke-width="2.4"/>
<circle cx="1650.2" cy="408.7" r="5.4" stroke="#000" stroke-width="2.7" fill="none"/>
<circle cx="1685.2" cy="424.4" r="5.4" stroke="#000" stroke-width="2.7" fill="none"/>
<circle cx="1720.3" cy="425.7" r="5.4" stroke="#000" stroke-width="2.7" fill="none"/>
<circle cx="1762.4" cy="425.7" r="5.4" stroke="#000" stroke-width="2.7" fill="none"/>
<line x1="1370.8" y1="112.3" x2="1370.8" y2="428.5" stroke="#000" stroke-width="3"/>
<line x1="1357.5" y1="427" x2="1370.8" y2="427" stroke="#000" stroke-width="3"/>
<text x="1354.8" y="434.3" font-size="27" text-anchor="end" letter-spacing="0.1">0</text>
<line x1="1357.5" y1="322.4" x2="1370.8" y2="322.4" stroke="#000" stroke-width="3"/>
<text x="1354.8" y="329.7" font-size="27" text-anchor="end" letter-spacing="0.1">40</text>
<line x1="1357.5" y1="217.9" x2="1370.8" y2="217.9" stroke="#000" stroke-width="3"/>
<text x="1354.8" y="225.2" font-size="27" text-anchor="end" letter-spacing="0.1">80</text>
<line x1="1357.5" y1="113.3" x2="1370.8" y2="113.3" stroke="#000" stroke-width="3"/>
<text x="1354.8" y="120.6" font-size="27" text-anchor="end" letter-spacing="0.1">120</text>
<line x1="1369.3" y1="427" x2="1838.3" y2="427" stroke="#000" stroke-width="3"/>
<line x1="1370.8" y1="427" x2="1370.8" y2="438" stroke="#000" stroke-width="3"/>
<line x1="1405.9" y1="427" x2="1405.9" y2="433" stroke="#000" stroke-width="2.6"/>
<line x1="1426.4" y1="427" x2="1426.4" y2="433" stroke="#000" stroke-width="2.6"/>
<line x1="1440.9" y1="427" x2="1440.9" y2="433" stroke="#000" stroke-width="2.6"/>
<line x1="1452.2" y1="427" x2="1452.2" y2="433" stroke="#000" stroke-width="2.6"/>
<line x1="1461.5" y1="427" x2="1461.5" y2="433" stroke="#000" stroke-width="2.6"/>
<line x1="1469.3" y1="427" x2="1469.3" y2="433" stroke="#000" stroke-width="2.6"/>
<line x1="1476" y1="427" x2="1476" y2="433" stroke="#000" stroke-width="2.6"/>
<line x1="1482" y1="427" x2="1482" y2="433" stroke="#000" stroke-width="2.6"/>
<line x1="1487.3" y1="427" x2="1487.3" y2="438" stroke="#000" stroke-width="3"/>
<line x1="1522.4" y1="427" x2="1522.4" y2="433" stroke="#000" stroke-width="2.6"/>
<line x1="1542.9" y1="427" x2="1542.9" y2="433" stroke="#000" stroke-width="2.6"/>
<line x1="1557.4" y1="427" x2="1557.4" y2="433" stroke="#000" stroke-width="2.6"/>
<line x1="1568.7" y1="427" x2="1568.7" y2="433" stroke="#000" stroke-width="2.6"/>
<line x1="1578" y1="427" x2="1578" y2="433" stroke="#000" stroke-width="2.6"/>
<line x1="1585.8" y1="427" x2="1585.8" y2="433" stroke="#000" stroke-width="2.6"/>
<line x1="1592.5" y1="427" x2="1592.5" y2="433" stroke="#000" stroke-width="2.6"/>
<line x1="1598.5" y1="427" x2="1598.5" y2="433" stroke="#000" stroke-width="2.6"/>
<line x1="1603.8" y1="427" x2="1603.8" y2="438" stroke="#000" stroke-width="3"/>
<line x1="1638.9" y1="427" x2="1638.9" y2="433" stroke="#000" stroke-width="2.6"/>
<line x1="1659.4" y1="427" x2="1659.4" y2="433" stroke="#000" stroke-width="2.6"/>
<line x1="1673.9" y1="427" x2="1673.9" y2="433" stroke="#000" stroke-width="2.6"/>
<line x1="1685.2" y1="427" x2="1685.2" y2="433" stroke="#000" stroke-width="2.6"/>
<line x1="1694.5" y1="427" x2="1694.5" y2="433" stroke="#000" stroke-width="2.6"/>
<line x1="1702.3" y1="427" x2="1702.3" y2="433" stroke="#000" stroke-width="2.6"/>
<line x1="1709" y1="427" x2="1709" y2="433" stroke="#000" stroke-width="2.6"/>
<line x1="1715" y1="427" x2="1715" y2="433" stroke="#000" stroke-width="2.6"/>
<line x1="1720.3" y1="427" x2="1720.3" y2="438" stroke="#000" stroke-width="3"/>
<line x1="1755.4" y1="427" x2="1755.4" y2="433" stroke="#000" stroke-width="2.6"/>
<line x1="1775.9" y1="427" x2="1775.9" y2="433" stroke="#000" stroke-width="2.6"/>
<line x1="1790.4" y1="427" x2="1790.4" y2="433" stroke="#000" stroke-width="2.6"/>
<line x1="1801.7" y1="427" x2="1801.7" y2="433" stroke="#000" stroke-width="2.6"/>
<line x1="1811" y1="427" x2="1811" y2="433" stroke="#000" stroke-width="2.6"/>
<line x1="1818.8" y1="427" x2="1818.8" y2="433" stroke="#000" stroke-width="2.6"/>
<line x1="1825.5" y1="427" x2="1825.5" y2="433" stroke="#000" stroke-width="2.6"/>
<line x1="1831.5" y1="427" x2="1831.5" y2="433" stroke="#000" stroke-width="2.6"/>
<line x1="1836.8" y1="427" x2="1836.8" y2="438" stroke="#000" stroke-width="3"/>
<text x="1367.4" y="465.5" font-size="27" text-anchor="middle" letter-spacing="0.2">1</text>
<text x="1487.8" y="465.5" font-size="27" text-anchor="middle" letter-spacing="0.2">10</text>
<text x="1605.3" y="465.5" font-size="27" text-anchor="middle" letter-spacing="0.2">100</text>
<text x="1731.5" y="465.5" font-size="27" text-anchor="middle" letter-spacing="0.2">1000</text>
<text x="1850" y="465.5" font-size="27" text-anchor="middle" letter-spacing="0.2">10000</text>
<text x="1613.2" y="512.9" font-size="26.5" text-anchor="middle" letter-spacing="0.7">RSL3(nM)</text>
<text x="1300.5" y="271.5" font-size="27" text-anchor="middle" textLength="207" transform="rotate(-90 1300.5 271.5)">Cell viability (%)</text>
<circle cx="1394.4" cy="253.7" r="5.5" stroke="#000" stroke-width="3" fill="none"/>
<text x="1409.5" y="261.5" font-size="26" letter-spacing="0">sh-ctrl</text>
<circle cx="1394.4" cy="281.6" r="5.5" stroke="#e02020" stroke-width="3" fill="none"/>
<text x="1409.5" y="289.4" font-size="26" letter-spacing="0">sh-ctrl+IDA</text>
<circle cx="1394.4" cy="309.5" r="5.5" stroke="#1a1acc" stroke-width="3" fill="none"/>
<text x="1409.5" y="317.3" font-size="26" letter-spacing="0">AHR-sh1</text>
<circle cx="1394.4" cy="337.4" r="5.5" stroke="#e020e0" stroke-width="3" fill="none"/>
<text x="1409.5" y="345.2" font-size="26" letter-spacing="0">AHR-sh1+IDA</text>
<circle cx="1394.4" cy="365.3" r="5.5" stroke="#5a1a78" stroke-width="3" fill="none"/>
<text x="1409.5" y="373.1" font-size="26" letter-spacing="0">AHR-sh2</text>
<circle cx="1394.4" cy="393.2" r="5.5" stroke="#c8661a" stroke-width="3" fill="none"/>
<text x="1409.5" y="401" font-size="26" letter-spacing="0">AHR-sh1+IDA</text>
<text x="22.9" y="577.4" font-size="37" font-weight="bold" letter-spacing="0">e</text>
<text x="204" y="722" font-size="23.5" text-anchor="middle">HT1080</text>
<text x="164" y="849" font-size="26.5" transform="rotate(-55.5 164 849)">Sg-ctrl</text>
<text x="213" y="849" font-size="26.5" transform="rotate(-55.5 213 849)">AHR-sg1</text>
<text x="264" y="849" font-size="26.5" transform="rotate(-55.5 264 849)">AHR-sg2</text>
<rect x="132.5" y="853" width="154.9" height="46.7" fill="#fafafa"/>
<rect x="142.7" y="866.7" width="42.8" height="19.1" rx="9.5" fill="#000" fill-opacity="0.30" filter="url(#b8)"/>
<rect x="145.7" y="871.7" width="36.8" height="9.1" rx="4.5" fill="#000" fill-opacity="1.00" filter="url(#b3)"/>
<rect x="196" y="873.5" width="33" height="6" rx="3" fill="#000" fill-opacity="0.22" filter="url(#b5)"/>
<rect x="241" y="874" width="11" height="6" rx="3" fill="#000" fill-opacity="0.18" filter="url(#b5)"/>
<rect x="133.4" y="854" width="153" height="44.8" stroke="#000" stroke-width="1.9" fill="none"/>
<rect x="132.5" y="910.6" width="154.9" height="57" fill="#fafafa"/>
<rect x="136.1" y="927.3" width="46.9" height="20.1" rx="10.1" fill="#000" fill-opacity="0.30" filter="url(#b8)"/>
<rect x="139.1" y="932.3" width="40.9" height="10.1" rx="5.1" fill="#000" fill-opacity="1.00" filter="url(#b3)"/>
<rect x="186" y="924.3" width="49.4" height="29.1" rx="14.6" fill="#000" fill-opacity="0.35" filter="url(#b10)"/>
<rect x="190" y="931.3" width="41.4" height="15.1" rx="6" fill="#000" fill-opacity="1.00" filter="url(#b3)"/>
<rect x="230.5" y="924.3" width="55.9" height="30.1" rx="15.1" fill="#000" fill-opacity="0.35" filter="url(#b10)"/>
<rect x="234.5" y="931.3" width="47.9" height="16.1" rx="6" fill="#000" fill-opacity="1.00" filter="url(#b3)"/>
<rect x="133.4" y="911.6" width="153" height="55.1" stroke="#000" stroke-width="1.9" fill="none"/>
<text x="118" y="895.6" font-size="27" text-anchor="end">AHR</text>
<text x="118" y="953.8" font-size="27" text-anchor="end" letter-spacing="1.0">GAPDH</text>
<line x1="288.4" y1="889.6" x2="300.6" y2="889.6" stroke="#000" stroke-width="2.2"/>
<line x1="288.4" y1="944.3" x2="300.6" y2="944.3" stroke="#000" stroke-width="2.2"/>
<text x="302" y="895.6" font-size="27">100 kDa</text>
<text x="303.5" y="953.8" font-size="27">35 kDa</text>
<text x="438" y="582.8" font-size="37" font-weight="bold" letter-spacing="0">f</text>
<rect x="546.1" y="722.5" width="24" height="282.7" stroke="#000" stroke-width="2" fill="none"/>
<rect x="583.5" y="722.5" width="24" height="282.7" stroke="#000" stroke-width="2" fill="none"/>
<rect x="620.8" y="954.3" width="24" height="50.9" stroke="#000" stroke-width="2" fill="none"/>
<rect x="658.2" y="748" width="24" height="257.2" stroke="#000" stroke-width="2" fill="none"/>
<rect x="720.8" y="739.5" width="24" height="265.7" stroke="#1a1acc" stroke-width="2" fill="none"/>
<rect x="757.3" y="750.8" width="24" height="254.4" stroke="#1a1acc" stroke-width="2" fill="none"/>
<rect x="794.7" y="976.9" width="24" height="28.3" stroke="#1a1acc" stroke-width="2" fill="none"/>
<rect x="832" y="957.1" width="24" height="48.1" stroke="#1a1acc" stroke-width="2" fill="none"/>
<rect x="894.2" y="714.1" width="24" height="291.1" stroke="#e0307a" stroke-width="2" fill="none"/>
<rect x="931.1" y="750.8" width="24" height="254.4" stroke="#e0307a" stroke-width="2" fill="none"/>
<rect x="968.9" y="945.8" width="24" height="59.4" stroke="#e0307a" stroke-width="2" fill="none"/>
<rect x="1005.9" y="960" width="24" height="45.2" stroke="#e0307a" stroke-width="2" fill="none"/>
<circle cx="551.4" cy="732.7" r="4" fill="#000"/>
<circle cx="558.1" cy="706.4" r="4" fill="#000"/>
<circle cx="564.8" cy="728.5" r="4" fill="#000"/>
<line x1="558.1" y1="705.6" x2="558.1" y2="739.5" stroke="#000" stroke-width="2.3"/>
<line x1="551.5" y1="705.6" x2="564.7" y2="705.6" stroke="#000" stroke-width="2.3"/>
<line x1="551.5" y1="739.5" x2="564.7" y2="739.5" stroke="#000" stroke-width="2.3"/>
<circle cx="588.8" cy="731" r="4" fill="#000"/>
<circle cx="595.5" cy="709.1" r="4" fill="#000"/>
<circle cx="602.2" cy="727.5" r="4" fill="#000"/>
<line x1="595.5" y1="708.4" x2="595.5" y2="736.7" stroke="#000" stroke-width="2.3"/>
<line x1="588.9" y1="708.4" x2="602.1" y2="708.4" stroke="#000" stroke-width="2.3"/>
<line x1="588.9" y1="736.7" x2="602.1" y2="736.7" stroke="#000" stroke-width="2.3"/>
<circle cx="626.1" cy="957.7" r="4" fill="#000"/>
<circle cx="632.8" cy="948.9" r="4" fill="#000"/>
<circle cx="639.5" cy="956.3" r="4" fill="#000"/>
<line x1="632.8" y1="948.7" x2="632.8" y2="960" stroke="#000" stroke-width="2.3"/>
<line x1="626.2" y1="948.7" x2="639.4" y2="948.7" stroke="#000" stroke-width="2.3"/>
<line x1="626.2" y1="960" x2="639.4" y2="960" stroke="#000" stroke-width="2.3"/>
<circle cx="663.5" cy="758.1" r="4" fill="#000"/>
<circle cx="670.2" cy="731.9" r="4" fill="#000"/>
<circle cx="676.9" cy="753.9" r="4" fill="#000"/>
<line x1="670.2" y1="731" x2="670.2" y2="764.9" stroke="#000" stroke-width="2.3"/>
<line x1="663.6" y1="731" x2="676.8" y2="731" stroke="#000" stroke-width="2.3"/>
<line x1="663.6" y1="764.9" x2="676.8" y2="764.9" stroke="#000" stroke-width="2.3"/>
<circle cx="726.1" cy="746.3" r="4" fill="#1a1acc"/>
<circle cx="732.8" cy="728.8" r="4" fill="#1a1acc"/>
<circle cx="739.5" cy="743.5" r="4" fill="#1a1acc"/>
<line x1="732.8" y1="728.2" x2="732.8" y2="750.8" stroke="#1a1acc" stroke-width="2.3"/>
<line x1="726.2" y1="728.2" x2="739.4" y2="728.2" stroke="#1a1acc" stroke-width="2.3"/>
<line x1="726.2" y1="750.8" x2="739.4" y2="750.8" stroke="#1a1acc" stroke-width="2.3"/>
<circle cx="762.6" cy="764.4" r="4" fill="#1a1acc"/>
<circle cx="769.3" cy="729.3" r="4" fill="#1a1acc"/>
<circle cx="776" cy="758.7" r="4" fill="#1a1acc"/>
<line x1="769.3" y1="728.2" x2="769.3" y2="773.4" stroke="#1a1acc" stroke-width="2.3"/>
<line x1="762.7" y1="728.2" x2="775.9" y2="728.2" stroke="#1a1acc" stroke-width="2.3"/>
<line x1="762.7" y1="773.4" x2="775.9" y2="773.4" stroke="#1a1acc" stroke-width="2.3"/>
<circle cx="800" cy="982" r="4" fill="#1a1acc"/>
<circle cx="806.7" cy="968.9" r="4" fill="#1a1acc"/>
<circle cx="813.4" cy="979.9" r="4" fill="#1a1acc"/>
<line x1="806.7" y1="968.5" x2="806.7" y2="985.4" stroke="#1a1acc" stroke-width="2.3"/>
<line x1="800.1" y1="968.5" x2="813.3" y2="968.5" stroke="#1a1acc" stroke-width="2.3"/>
<line x1="800.1" y1="985.4" x2="813.3" y2="985.4" stroke="#1a1acc" stroke-width="2.3"/>
<circle cx="837.3" cy="965.6" r="4" fill="#1a1acc"/>
<circle cx="844" cy="943.7" r="4" fill="#1a1acc"/>
<circle cx="850.7" cy="962.1" r="4" fill="#1a1acc"/>
<line x1="844" y1="943" x2="844" y2="971.3" stroke="#1a1acc" stroke-width="2.3"/>
<line x1="837.4" y1="943" x2="850.6" y2="943" stroke="#1a1acc" stroke-width="2.3"/>
<line x1="837.4" y1="971.3" x2="850.6" y2="971.3" stroke="#1a1acc" stroke-width="2.3"/>
<circle cx="899.5" cy="715.7" r="4" fill="#e0307a"/>
<circle cx="906.2" cy="711.4" r="4" fill="#e0307a"/>
<circle cx="912.9" cy="715" r="4" fill="#e0307a"/>
<line x1="906.2" y1="711.2" x2="906.2" y2="716.9" stroke="#e0307a" stroke-width="2.3"/>
<line x1="899.6" y1="711.2" x2="912.8" y2="711.2" stroke="#e0307a" stroke-width="2.3"/>
<line x1="899.6" y1="716.9" x2="912.8" y2="716.9" stroke="#e0307a" stroke-width="2.3"/>
<circle cx="936.4" cy="757.6" r="4" fill="#e0307a"/>
<circle cx="943.1" cy="740.1" r="4" fill="#e0307a"/>
<circle cx="949.8" cy="754.8" r="4" fill="#e0307a"/>
<line x1="943.1" y1="739.5" x2="943.1" y2="762.1" stroke="#e0307a" stroke-width="2.3"/>
<line x1="936.5" y1="739.5" x2="949.7" y2="739.5" stroke="#e0307a" stroke-width="2.3"/>
<line x1="936.5" y1="762.1" x2="949.7" y2="762.1" stroke="#e0307a" stroke-width="2.3"/>
<circle cx="974.2" cy="949.2" r="4" fill="#e0307a"/>
<circle cx="980.9" cy="940.5" r="4" fill="#e0307a"/>
<circle cx="987.6" cy="947.8" r="4" fill="#e0307a"/>
<line x1="980.9" y1="940.2" x2="980.9" y2="951.5" stroke="#e0307a" stroke-width="2.3"/>
<line x1="974.3" y1="940.2" x2="987.5" y2="940.2" stroke="#e0307a" stroke-width="2.3"/>
<line x1="974.3" y1="951.5" x2="987.5" y2="951.5" stroke="#e0307a" stroke-width="2.3"/>
<circle cx="1011.2" cy="973.5" r="4" fill="#e0307a"/>
<circle cx="1017.9" cy="938.5" r="4" fill="#e0307a"/>
<circle cx="1024.6" cy="967.9" r="4" fill="#e0307a"/>
<line x1="1017.9" y1="937.4" x2="1017.9" y2="982.6" stroke="#e0307a" stroke-width="2.3"/>
<line x1="1011.3" y1="937.4" x2="1024.5" y2="937.4" stroke="#e0307a" stroke-width="2.3"/>
<line x1="1011.3" y1="982.6" x2="1024.5" y2="982.6" stroke="#e0307a" stroke-width="2.3"/>
<line x1="533.7" y1="665" x2="533.7" y2="1006.7" stroke="#000" stroke-width="3"/>
<line x1="519.7" y1="1005.2" x2="533.7" y2="1005.2" stroke="#000" stroke-width="3"/>
<text x="518.9" y="1013.4" font-size="27" text-anchor="end" letter-spacing="0.1">0</text>
<line x1="519.7" y1="892.1" x2="533.7" y2="892.1" stroke="#000" stroke-width="3"/>
<text x="518.9" y="900.3" font-size="27" text-anchor="end" letter-spacing="0.1">40</text>
<line x1="519.7" y1="779.1" x2="533.7" y2="779.1" stroke="#000" stroke-width="3"/>
<text x="518.9" y="787.3" font-size="27" text-anchor="end" letter-spacing="0.1">80</text>
<line x1="519.7" y1="666" x2="533.7" y2="666" stroke="#000" stroke-width="3"/>
<text x="518.9" y="674.2" font-size="27" text-anchor="end" letter-spacing="0.1">120</text>
<line x1="519.5" y1="1005.2" x2="1045.5" y2="1005.2" stroke="#000" stroke-width="3"/>
<text x="466.6" y="819.5" font-size="27" text-anchor="middle" textLength="204" transform="rotate(-90 466.6 819.5)">Cell viability (%)</text>
<rect x="570.8" y="573.9" width="12.9" height="12.9" stroke="#000" stroke-width="2.6" fill="none"/>
<text x="595" y="584.9" font-size="27">sg-ctrl</text>
<rect x="708.9" y="573.9" width="12.9" height="12.9" stroke="#1a1acc" stroke-width="2.6" fill="none"/>
<text x="735.1" y="587.9" font-size="27">AHR-sg1</text>
<rect x="870.1" y="573.9" width="12.9" height="12.9" stroke="#e020e0" stroke-width="2.6" fill="none"/>
<text x="896.3" y="587.9" font-size="27">AHR-sg2</text>
<line x1="680" y1="644.5" x2="1047.6" y2="644.5" stroke="#000" stroke-width="2.5"/>
<text x="828" y="633" font-size="27">p=0.0002</text>
<line x1="671.8" y1="684.3" x2="826" y2="684.3" stroke="#000" stroke-width="2.5"/>
<text x="680" y="678" font-size="27">p=6.39x10<tspan font-size="15.1" dy="-10">-5</tspan></text>
<line x1="636.5" y1="717.6" x2="673.9" y2="717.6" stroke="#000" stroke-width="2.5"/>
<text x="584.5" y="710.7" font-size="27">p=3.60x10<tspan font-size="15.1" dy="-10">-5</tspan></text>
<text x="520" y="1041.3" font-size="27" text-anchor="end">RSL3</text>
<text x="520" y="1071.7" font-size="27" text-anchor="end">IDA</text>
<line x1="554.1" y1="1031.6" x2="562.1" y2="1031.6" stroke="#000" stroke-width="3"/>
<line x1="591.5" y1="1031.6" x2="599.5" y2="1031.6" stroke="#000" stroke-width="3"/>
<text x="632.8" y="1040.8" font-size="27" text-anchor="middle">+</text>
<text x="670.2" y="1040.8" font-size="27" text-anchor="middle">+</text>
<line x1="728.8" y1="1031.6" x2="736.8" y2="1031.6" stroke="#000" stroke-width="3"/>
<line x1="765.3" y1="1031.6" x2="773.3" y2="1031.6" stroke="#000" stroke-width="3"/>
<text x="806.7" y="1040.8" font-size="27" text-anchor="middle">+</text>
<text x="844" y="1040.8" font-size="27" text-anchor="middle">+</text>
<line x1="902.2" y1="1031.6" x2="910.2" y2="1031.6" stroke="#000" stroke-width="3"/>
<line x1="939.1" y1="1031.6" x2="947.1" y2="1031.6" stroke="#000" stroke-width="3"/>
<text x="980.9" y="1040.8" font-size="27" text-anchor="middle">+</text>
<text x="1017.9" y="1040.8" font-size="27" text-anchor="middle">+</text>
<line x1="554.1" y1="1062" x2="562.1" y2="1062" stroke="#000" stroke-width="3"/>
<text x="595.5" y="1071.2" font-size="27" text-anchor="middle">+</text>
<line x1="628.8" y1="1062" x2="636.8" y2="1062" stroke="#000" stroke-width="3"/>
<text x="670.2" y="1071.2" font-size="27" text-anchor="middle">+</text>
<line x1="728.8" y1="1062" x2="736.8" y2="1062" stroke="#000" stroke-width="3"/>
<text x="769.3" y="1071.2" font-size="27" text-anchor="middle">+</text>
<line x1="802.7" y1="1062" x2="810.7" y2="1062" stroke="#000" stroke-width="3"/>
<text x="844" y="1071.2" font-size="27" text-anchor="middle">+</text>
<line x1="902.2" y1="1062" x2="910.2" y2="1062" stroke="#000" stroke-width="3"/>
<text x="943.1" y="1071.2" font-size="27" text-anchor="middle">+</text>
<line x1="976.9" y1="1062" x2="984.9" y2="1062" stroke="#000" stroke-width="3"/>
<text x="1017.9" y="1071.2" font-size="27" text-anchor="middle">+</text>
<text x="1105.9" y="577" font-size="37" font-weight="bold" letter-spacing="0">g</text>
<rect x="1175.6" y="999.5" width="28" height="4.1" stroke="#000" stroke-width="2" fill="none"/>
<rect x="1220.4" y="1001.5" width="28" height="2.1" stroke="#000" stroke-width="2" fill="none"/>
<rect x="1264.6" y="785.6" width="28" height="218" stroke="#000" stroke-width="2" fill="none"/>
<rect x="1309" y="968.6" width="28" height="35" stroke="#000" stroke-width="2" fill="none"/>
<rect x="1382.6" y="995.4" width="28" height="8.2" stroke="#1a1acc" stroke-width="2" fill="none"/>
<rect x="1426.8" y="993.3" width="28" height="10.3" stroke="#1a1acc" stroke-width="2" fill="none"/>
<rect x="1471" y="777.4" width="28" height="226.2" stroke="#1a1acc" stroke-width="2" fill="none"/>
<rect x="1515.4" y="814.4" width="28" height="189.2" stroke="#1a1acc" stroke-width="2" fill="none"/>
<circle cx="1181.8" cy="1000.2" r="4" fill="#000"/>
<circle cx="1189.6" cy="998.3" r="4" fill="#000"/>
<circle cx="1197.4" cy="999.9" r="4" fill="#000"/>
<line x1="1189.6" y1="998.3" x2="1189.6" y2="1000.7" stroke="#000" stroke-width="2.3"/>
<line x1="1181.9" y1="998.3" x2="1197.3" y2="998.3" stroke="#000" stroke-width="2.3"/>
<line x1="1181.9" y1="1000.7" x2="1197.3" y2="1000.7" stroke="#000" stroke-width="2.3"/>
<circle cx="1226.6" cy="1002" r="4" fill="#000"/>
<circle cx="1234.4" cy="1000.8" r="4" fill="#000"/>
<circle cx="1242.2" cy="1001.8" r="4" fill="#000"/>
<line x1="1234.4" y1="1000.7" x2="1234.4" y2="1002.4" stroke="#000" stroke-width="2.3"/>
<line x1="1226.7" y1="1000.7" x2="1242.1" y2="1000.7" stroke="#000" stroke-width="2.3"/>
<line x1="1226.7" y1="1002.4" x2="1242.1" y2="1002.4" stroke="#000" stroke-width="2.3"/>
<circle cx="1270.8" cy="790.6" r="4" fill="#000"/>
<circle cx="1278.6" cy="777.8" r="4" fill="#000"/>
<circle cx="1286.4" cy="788.5" r="4" fill="#000"/>
<line x1="1278.6" y1="777.4" x2="1278.6" y2="793.9" stroke="#000" stroke-width="2.3"/>
<line x1="1270.9" y1="777.4" x2="1286.3" y2="777.4" stroke="#000" stroke-width="2.3"/>
<line x1="1270.9" y1="793.9" x2="1286.3" y2="793.9" stroke="#000" stroke-width="2.3"/>
<circle cx="1315.2" cy="982.2" r="4" fill="#000"/>
<circle cx="1323" cy="947.2" r="4" fill="#000"/>
<circle cx="1330.8" cy="976.6" r="4" fill="#000"/>
<line x1="1323" y1="946" x2="1323" y2="991.3" stroke="#000" stroke-width="2.3"/>
<line x1="1315.3" y1="946" x2="1330.7" y2="946" stroke="#000" stroke-width="2.3"/>
<line x1="1315.3" y1="991.3" x2="1330.7" y2="991.3" stroke="#000" stroke-width="2.3"/>
<circle cx="1388.8" cy="997.1" r="4" fill="#1a1acc"/>
<circle cx="1396.6" cy="992.6" r="4" fill="#1a1acc"/>
<circle cx="1404.4" cy="996.4" r="4" fill="#1a1acc"/>
<line x1="1396.6" y1="992.5" x2="1396.6" y2="998.3" stroke="#1a1acc" stroke-width="2.3"/>
<line x1="1388.9" y1="992.5" x2="1404.3" y2="992.5" stroke="#1a1acc" stroke-width="2.3"/>
<line x1="1388.9" y1="998.3" x2="1404.3" y2="998.3" stroke="#1a1acc" stroke-width="2.3"/>
<circle cx="1433" cy="998.3" r="4" fill="#1a1acc"/>
<circle cx="1440.8" cy="985.5" r="4" fill="#1a1acc"/>
<circle cx="1448.6" cy="996.2" r="4" fill="#1a1acc"/>
<line x1="1440.8" y1="985.1" x2="1440.8" y2="1001.5" stroke="#1a1acc" stroke-width="2.3"/>
<line x1="1433.1" y1="985.1" x2="1448.5" y2="985.1" stroke="#1a1acc" stroke-width="2.3"/>
<line x1="1433.1" y1="1001.5" x2="1448.5" y2="1001.5" stroke="#1a1acc" stroke-width="2.3"/>
<circle cx="1477.2" cy="781.1" r="4" fill="#1a1acc"/>
<circle cx="1485" cy="771.6" r="4" fill="#1a1acc"/>
<circle cx="1492.8" cy="779.6" r="4" fill="#1a1acc"/>
<line x1="1485" y1="771.2" x2="1485" y2="783.6" stroke="#1a1acc" stroke-width="2.3"/>
<line x1="1477.3" y1="771.2" x2="1492.7" y2="771.2" stroke="#1a1acc" stroke-width="2.3"/>
<line x1="1477.3" y1="783.6" x2="1492.7" y2="783.6" stroke="#1a1acc" stroke-width="2.3"/>
<circle cx="1521.6" cy="821.8" r="4" fill="#1a1acc"/>
<circle cx="1529.4" cy="802.7" r="4" fill="#1a1acc"/>
<circle cx="1537.2" cy="818.7" r="4" fill="#1a1acc"/>
<line x1="1529.4" y1="802.1" x2="1529.4" y2="826.8" stroke="#1a1acc" stroke-width="2.3"/>
<line x1="1521.7" y1="802.1" x2="1537.1" y2="802.1" stroke="#1a1acc" stroke-width="2.3"/>
<line x1="1521.7" y1="826.8" x2="1537.1" y2="826.8" stroke="#1a1acc" stroke-width="2.3"/>
<line x1="1160.2" y1="673.6" x2="1160.2" y2="1005.1" stroke="#000" stroke-width="3"/>
<line x1="1149.7" y1="1003.6" x2="1160.2" y2="1003.6" stroke="#000" stroke-width="3"/>
<text x="1143.7" y="1012.3" font-size="27" text-anchor="end" letter-spacing="0.1">0</text>
<line x1="1149.7" y1="921.4" x2="1160.2" y2="921.4" stroke="#000" stroke-width="3"/>
<text x="1143.7" y="930.1" font-size="27" text-anchor="end" letter-spacing="0.1">20</text>
<line x1="1149.7" y1="839.1" x2="1160.2" y2="839.1" stroke="#000" stroke-width="3"/>
<text x="1143.7" y="847.8" font-size="27" text-anchor="end" letter-spacing="0.1">40</text>
<line x1="1149.7" y1="756.9" x2="1160.2" y2="756.9" stroke="#000" stroke-width="3"/>
<text x="1143.7" y="765.6" font-size="27" text-anchor="end" letter-spacing="0.1">60</text>
<line x1="1149.7" y1="674.6" x2="1160.2" y2="674.6" stroke="#000" stroke-width="3"/>
<text x="1143.7" y="683.3" font-size="27" text-anchor="end" letter-spacing="0.1">80</text>
<line x1="1149.6" y1="1003.6" x2="1559.2" y2="1003.6" stroke="#000" stroke-width="3"/>
<text x="1098.7" y="822.8" font-size="27" text-anchor="middle" textLength="268" transform="rotate(-90 1098.7 822.8)">Lipid peroxidation(%)</text>
<rect x="1211.7" y="644.9" width="12.9" height="12.9" stroke="#000" stroke-width="2.6" fill="none"/>
<text x="1235.9" y="656.4" font-size="27">sg-ctrl</text>
<rect x="1395.7" y="644.9" width="12.9" height="12.9" stroke="#1a1acc" stroke-width="2.6" fill="none"/>
<text x="1419.9" y="658.9" font-size="27">sg-AHR</text>
<line x1="1344" y1="733.8" x2="1538.4" y2="733.8" stroke="#000" stroke-width="2.5"/>
<text x="1385.8" y="725" font-size="27">p=0.0004</text>
<text x="1156" y="1037.3" font-size="27" text-anchor="end">RSL3</text>
<text x="1146.5" y="1073.5" font-size="27" text-anchor="end">IDA</text>
<line x1="1185.6" y1="1027.6" x2="1193.6" y2="1027.6" stroke="#000" stroke-width="3"/>
<line x1="1230.4" y1="1027.6" x2="1238.4" y2="1027.6" stroke="#000" stroke-width="3"/>
<text x="1278.6" y="1036.8" font-size="27" text-anchor="middle">+</text>
<text x="1323" y="1036.8" font-size="27" text-anchor="middle">+</text>
<line x1="1392.6" y1="1027.6" x2="1400.6" y2="1027.6" stroke="#000" stroke-width="3"/>
<line x1="1436.8" y1="1027.6" x2="1444.8" y2="1027.6" stroke="#000" stroke-width="3"/>
<text x="1485" y="1036.8" font-size="27" text-anchor="middle">+</text>
<text x="1529.4" y="1036.8" font-size="27" text-anchor="middle">+</text>
<line x1="1185.6" y1="1062.8" x2="1193.6" y2="1062.8" stroke="#000" stroke-width="3"/>
<text x="1234.4" y="1072" font-size="27" text-anchor="middle">+</text>
<line x1="1274.6" y1="1062.8" x2="1282.6" y2="1062.8" stroke="#000" stroke-width="3"/>
<text x="1323" y="1072" font-size="27" text-anchor="middle">+</text>
<line x1="1392.6" y1="1062.8" x2="1400.6" y2="1062.8" stroke="#000" stroke-width="3"/>
<text x="1440.8" y="1072" font-size="27" text-anchor="middle">+</text>
<line x1="1481" y1="1062.8" x2="1489" y2="1062.8" stroke="#000" stroke-width="3"/>
<text x="1529.4" y="1072" font-size="27" text-anchor="middle">+</text>
<text x="1586.5" y="584.2" font-size="37" font-weight="bold" letter-spacing="0">h</text>
<rect x="1723.5" y="792.6" width="32.7" height="185" stroke="#000" stroke-width="2" fill="none"/>
<rect x="1773.7" y="940.6" width="32.7" height="37" stroke="#1a1acc" stroke-width="2" fill="none"/>
<rect x="1824.4" y="909.1" width="32.7" height="68.5" stroke="#e0307a" stroke-width="2" fill="none"/>
<circle cx="1739.8" cy="763" r="4" fill="#000"/>
<circle cx="1739.8" cy="801.9" r="4" fill="#000"/>
<circle cx="1739.8" cy="814.8" r="4" fill="#000"/>
<line x1="1739.8" y1="766.7" x2="1739.8" y2="818.5" stroke="#000" stroke-width="2.3"/>
<line x1="1730.8" y1="766.7" x2="1748.8" y2="766.7" stroke="#000" stroke-width="2.3"/>
<line x1="1730.8" y1="818.5" x2="1748.8" y2="818.5" stroke="#000" stroke-width="2.3"/>
<circle cx="1783" cy="942.5" r="4" fill="#1a1acc"/>
<circle cx="1790" cy="936" r="4" fill="#1a1acc"/>
<circle cx="1797" cy="942.5" r="4" fill="#1a1acc"/>
<line x1="1790" y1="936.9" x2="1790" y2="944.3" stroke="#1a1acc" stroke-width="2.3"/>
<line x1="1781" y1="936.9" x2="1799" y2="936.9" stroke="#1a1acc" stroke-width="2.3"/>
<line x1="1781" y1="944.3" x2="1799" y2="944.3" stroke="#1a1acc" stroke-width="2.3"/>
<circle cx="1840.7" cy="899.9" r="4" fill="#e0307a"/>
<circle cx="1840.7" cy="909.1" r="4" fill="#e0307a"/>
<circle cx="1840.7" cy="918.4" r="4" fill="#e0307a"/>
<line x1="1840.7" y1="899.9" x2="1840.7" y2="918.4" stroke="#e0307a" stroke-width="2.3"/>
<line x1="1831.7" y1="899.9" x2="1849.7" y2="899.9" stroke="#e0307a" stroke-width="2.3"/>
<line x1="1831.7" y1="918.4" x2="1849.7" y2="918.4" stroke="#e0307a" stroke-width="2.3"/>
<line x1="1705.8" y1="699.1" x2="1705.8" y2="979.1" stroke="#000" stroke-width="3"/>
<line x1="1694.8" y1="977.6" x2="1705.8" y2="977.6" stroke="#000" stroke-width="3"/>
<text x="1692.4" y="983.8" font-size="27" text-anchor="end" letter-spacing="0.1">0</text>
<line x1="1694.8" y1="885.1" x2="1705.8" y2="885.1" stroke="#000" stroke-width="3"/>
<text x="1692.4" y="891.3" font-size="27" text-anchor="end" letter-spacing="0.1">0.5</text>
<line x1="1694.8" y1="792.6" x2="1705.8" y2="792.6" stroke="#000" stroke-width="3"/>
<text x="1692.4" y="798.8" font-size="27" text-anchor="end" letter-spacing="0.1">1.0</text>
<line x1="1694.8" y1="700.1" x2="1705.8" y2="700.1" stroke="#000" stroke-width="3"/>
<text x="1692.4" y="706.3" font-size="27" text-anchor="end" letter-spacing="0.1">1.5</text>
<line x1="1695.6" y1="977.6" x2="1875.9" y2="977.6" stroke="#000" stroke-width="3"/>
<text x="1642.4" y="839.5" font-size="27" text-anchor="middle" textLength="294" transform="rotate(-90 1642.4 839.5)">Realative mRNA levels</text>
<line x1="1735" y1="706.5" x2="1850.3" y2="706.5" stroke="#000" stroke-width="2.5"/>
<text x="1751.8" y="699" font-size="27">p=0.0017</text>
<line x1="1736.5" y1="755.9" x2="1792.8" y2="755.9" stroke="#000" stroke-width="2.5"/>
<text x="1730" y="746" font-size="27">p=0.0006</text>
<text x="1744" y="1005" font-size="27" text-anchor="end" transform="rotate(-55 1744 1005)">Si-ctrl</text>
<text x="1806" y="998" font-size="27" text-anchor="end" transform="rotate(-55 1806 998)">AHR-si 1</text>
<text x="1855" y="1001" font-size="27" text-anchor="end" transform="rotate(-55 1855 1001)">AHR-si 2</text>
<text x="22.9" y="1126.4" font-size="37" font-weight="bold" letter-spacing="0">i</text>
<rect x="130.1" y="1280" width="23.5" height="286.3" stroke="#000" stroke-width="2" fill="none"/>
<rect x="166.9" y="1282.8" width="23.5" height="283.5" stroke="#000" stroke-width="2" fill="none"/>
<rect x="203.6" y="1546.3" width="23.5" height="20" stroke="#000" stroke-width="2" fill="none"/>
<rect x="240.1" y="1297.1" width="23.5" height="269.2" stroke="#000" stroke-width="2" fill="none"/>
<rect x="301.9" y="1285.7" width="23.5" height="280.6" stroke="#1a1acc" stroke-width="2" fill="none"/>
<rect x="338.4" y="1294.3" width="23.5" height="272" stroke="#1a1acc" stroke-width="2" fill="none"/>
<rect x="374.9" y="1546.3" width="23.5" height="20" stroke="#1a1acc" stroke-width="2" fill="none"/>
<rect x="412.2" y="1474.7" width="23.5" height="91.6" stroke="#1a1acc" stroke-width="2" fill="none"/>
<rect x="473.6" y="1288.6" width="23.5" height="277.7" stroke="#e0307a" stroke-width="2" fill="none"/>
<rect x="510.2" y="1300" width="23.5" height="266.3" stroke="#e0307a" stroke-width="2" fill="none"/>
<rect x="546.8" y="1537.7" width="23.5" height="28.6" stroke="#e0307a" stroke-width="2" fill="none"/>
<rect x="583.6" y="1460.4" width="23.5" height="105.9" stroke="#e0307a" stroke-width="2" fill="none"/>
<circle cx="135.2" cy="1290.3" r="4" fill="#000"/>
<circle cx="141.8" cy="1263.6" r="4" fill="#000"/>
<circle cx="148.4" cy="1286" r="4" fill="#000"/>
<line x1="141.8" y1="1262.8" x2="141.8" y2="1297.1" stroke="#000" stroke-width="2.3"/>
<line x1="135.3" y1="1262.8" x2="148.3" y2="1262.8" stroke="#000" stroke-width="2.3"/>
<line x1="135.3" y1="1297.1" x2="148.3" y2="1297.1" stroke="#000" stroke-width="2.3"/>
<circle cx="172.1" cy="1298.3" r="4" fill="#000"/>
<circle cx="178.7" cy="1258.3" r="4" fill="#000"/>
<circle cx="185.3" cy="1291.8" r="4" fill="#000"/>
<line x1="178.7" y1="1257.1" x2="178.7" y2="1308.6" stroke="#000" stroke-width="2.3"/>
<line x1="172.2" y1="1257.1" x2="185.2" y2="1257.1" stroke="#000" stroke-width="2.3"/>
<line x1="172.2" y1="1308.6" x2="185.2" y2="1308.6" stroke="#000" stroke-width="2.3"/>
<circle cx="208.7" cy="1549.7" r="4" fill="#000"/>
<circle cx="215.3" cy="1540.8" r="4" fill="#000"/>
<circle cx="221.9" cy="1548.3" r="4" fill="#000"/>
<line x1="215.3" y1="1540.5" x2="215.3" y2="1552" stroke="#000" stroke-width="2.3"/>
<line x1="208.8" y1="1540.5" x2="221.8" y2="1540.5" stroke="#000" stroke-width="2.3"/>
<line x1="208.8" y1="1552" x2="221.8" y2="1552" stroke="#000" stroke-width="2.3"/>
<circle cx="245.2" cy="1302.3" r="4" fill="#000"/>
<circle cx="251.8" cy="1289" r="4" fill="#000"/>
<circle cx="258.4" cy="1300.2" r="4" fill="#000"/>
<line x1="251.8" y1="1288.6" x2="251.8" y2="1305.7" stroke="#000" stroke-width="2.3"/>
<line x1="245.3" y1="1288.6" x2="258.3" y2="1288.6" stroke="#000" stroke-width="2.3"/>
<line x1="245.3" y1="1305.7" x2="258.3" y2="1305.7" stroke="#000" stroke-width="2.3"/>
<circle cx="307" cy="1288.3" r="4" fill="#1a1acc"/>
<circle cx="313.6" cy="1281.6" r="4" fill="#1a1acc"/>
<circle cx="320.2" cy="1287.2" r="4" fill="#1a1acc"/>
<line x1="313.6" y1="1281.4" x2="313.6" y2="1290" stroke="#1a1acc" stroke-width="2.3"/>
<line x1="307.1" y1="1281.4" x2="320.1" y2="1281.4" stroke="#1a1acc" stroke-width="2.3"/>
<line x1="307.1" y1="1290" x2="320.1" y2="1290" stroke="#1a1acc" stroke-width="2.3"/>
<circle cx="343.5" cy="1302.9" r="4" fill="#1a1acc"/>
<circle cx="350.1" cy="1280.7" r="4" fill="#1a1acc"/>
<circle cx="356.7" cy="1299.3" r="4" fill="#1a1acc"/>
<line x1="350.1" y1="1280" x2="350.1" y2="1308.6" stroke="#1a1acc" stroke-width="2.3"/>
<line x1="343.6" y1="1280" x2="356.6" y2="1280" stroke="#1a1acc" stroke-width="2.3"/>
<line x1="343.6" y1="1308.6" x2="356.6" y2="1308.6" stroke="#1a1acc" stroke-width="2.3"/>
<circle cx="380.1" cy="1554" r="4" fill="#1a1acc"/>
<circle cx="386.7" cy="1534" r="4" fill="#1a1acc"/>
<circle cx="393.3" cy="1550.8" r="4" fill="#1a1acc"/>
<line x1="386.7" y1="1533.4" x2="386.7" y2="1559.1" stroke="#1a1acc" stroke-width="2.3"/>
<line x1="380.2" y1="1533.4" x2="393.2" y2="1533.4" stroke="#1a1acc" stroke-width="2.3"/>
<line x1="380.2" y1="1559.1" x2="393.2" y2="1559.1" stroke="#1a1acc" stroke-width="2.3"/>
<circle cx="417.4" cy="1481.5" r="4" fill="#1a1acc"/>
<circle cx="424" cy="1463.8" r="4" fill="#1a1acc"/>
<circle cx="430.6" cy="1478.7" r="4" fill="#1a1acc"/>
<line x1="424" y1="1463.2" x2="424" y2="1486.1" stroke="#1a1acc" stroke-width="2.3"/>
<line x1="417.5" y1="1463.2" x2="430.5" y2="1463.2" stroke="#1a1acc" stroke-width="2.3"/>
<line x1="417.5" y1="1486.1" x2="430.5" y2="1486.1" stroke="#1a1acc" stroke-width="2.3"/>
<circle cx="478.8" cy="1297.1" r="4" fill="#e0307a"/>
<circle cx="485.4" cy="1275" r="4" fill="#e0307a"/>
<circle cx="492" cy="1293.6" r="4" fill="#e0307a"/>
<line x1="485.4" y1="1274.2" x2="485.4" y2="1302.9" stroke="#e0307a" stroke-width="2.3"/>
<line x1="478.9" y1="1274.2" x2="491.9" y2="1274.2" stroke="#e0307a" stroke-width="2.3"/>
<line x1="478.9" y1="1302.9" x2="491.9" y2="1302.9" stroke="#e0307a" stroke-width="2.3"/>
<circle cx="515.4" cy="1303.4" r="4" fill="#e0307a"/>
<circle cx="522" cy="1294.6" r="4" fill="#e0307a"/>
<circle cx="528.6" cy="1302" r="4" fill="#e0307a"/>
<line x1="522" y1="1294.3" x2="522" y2="1305.7" stroke="#e0307a" stroke-width="2.3"/>
<line x1="515.5" y1="1294.3" x2="528.5" y2="1294.3" stroke="#e0307a" stroke-width="2.3"/>
<line x1="515.5" y1="1305.7" x2="528.5" y2="1305.7" stroke="#e0307a" stroke-width="2.3"/>
<circle cx="551.9" cy="1542.8" r="4" fill="#e0307a"/>
<circle cx="558.5" cy="1529.5" r="4" fill="#e0307a"/>
<circle cx="565.1" cy="1540.7" r="4" fill="#e0307a"/>
<line x1="558.5" y1="1529.1" x2="558.5" y2="1546.3" stroke="#e0307a" stroke-width="2.3"/>
<line x1="552" y1="1529.1" x2="565" y2="1529.1" stroke="#e0307a" stroke-width="2.3"/>
<line x1="552" y1="1546.3" x2="565" y2="1546.3" stroke="#e0307a" stroke-width="2.3"/>
<circle cx="588.8" cy="1477.5" r="4" fill="#e0307a"/>
<circle cx="595.4" cy="1433.2" r="4" fill="#e0307a"/>
<circle cx="602" cy="1470.4" r="4" fill="#e0307a"/>
<line x1="595.4" y1="1431.7" x2="595.4" y2="1489" stroke="#e0307a" stroke-width="2.3"/>
<line x1="588.9" y1="1431.7" x2="601.9" y2="1431.7" stroke="#e0307a" stroke-width="2.3"/>
<line x1="588.9" y1="1489" x2="601.9" y2="1489" stroke="#e0307a" stroke-width="2.3"/>
<line x1="117.8" y1="1221.7" x2="117.8" y2="1567.8" stroke="#000" stroke-width="3"/>
<line x1="104.8" y1="1566.3" x2="117.8" y2="1566.3" stroke="#000" stroke-width="3"/>
<text x="100" y="1577.8" font-size="27" text-anchor="end" letter-spacing="0.1">0</text>
<line x1="104.8" y1="1451.8" x2="117.8" y2="1451.8" stroke="#000" stroke-width="3"/>
<text x="100" y="1463.3" font-size="27" text-anchor="end" letter-spacing="0.1">40</text>
<line x1="104.8" y1="1337.2" x2="117.8" y2="1337.2" stroke="#000" stroke-width="3"/>
<text x="100" y="1348.7" font-size="27" text-anchor="end" letter-spacing="0.1">80</text>
<line x1="104.8" y1="1222.7" x2="117.8" y2="1222.7" stroke="#000" stroke-width="3"/>
<text x="100" y="1234.2" font-size="27" text-anchor="end" letter-spacing="0.1">120</text>
<line x1="103.6" y1="1566.3" x2="621.5" y2="1566.3" stroke="#000" stroke-width="3"/>
<text x="50.5" y="1390.5" font-size="27" text-anchor="middle" textLength="205" transform="rotate(-90 50.5 1390.5)">Cell viability (%)</text>
<rect x="153.6" y="1156.1" width="12.9" height="12.9" stroke="#000" stroke-width="2.6" fill="none"/>
<text x="177.8" y="1170" font-size="27">si-ctrl</text>
<rect x="291.7" y="1156.1" width="12.9" height="12.9" stroke="#1a1acc" stroke-width="2.6" fill="none"/>
<text x="318.6" y="1170" font-size="27">AHR-si 1</text>
<rect x="452.1" y="1156.1" width="12.9" height="12.9" stroke="#e020e0" stroke-width="2.6" fill="none"/>
<text x="479" y="1170" font-size="27">AHR-si 2</text>
<line x1="262" y1="1205.6" x2="629.6" y2="1205.6" stroke="#000" stroke-width="2.5"/>
<text x="410" y="1198.5" font-size="27">p=0.0006</text>
<line x1="253.9" y1="1241" x2="408.2" y2="1241" stroke="#000" stroke-width="2.5"/>
<text x="253.9" y="1235" font-size="27">p=2.84x10<tspan font-size="15.1" dy="-10">-5</tspan></text>
<line x1="219.3" y1="1277.5" x2="256.7" y2="1277.5" stroke="#000" stroke-width="2.5"/>
<text x="184.8" y="1269.6" font-size="27">p=2.47x10<tspan font-size="15.1" dy="-10">-6</tspan></text>
<text x="114" y="1603.2" font-size="27" text-anchor="end">RSL3</text>
<text x="118" y="1636.9" font-size="27" text-anchor="end">IDA</text>
<line x1="137.8" y1="1593.5" x2="145.8" y2="1593.5" stroke="#000" stroke-width="3"/>
<line x1="174.7" y1="1593.5" x2="182.7" y2="1593.5" stroke="#000" stroke-width="3"/>
<text x="215.3" y="1602.7" font-size="27" text-anchor="middle">+</text>
<text x="251.8" y="1602.7" font-size="27" text-anchor="middle">+</text>
<line x1="309.6" y1="1593.5" x2="317.6" y2="1593.5" stroke="#000" stroke-width="3"/>
<line x1="346.1" y1="1593.5" x2="354.1" y2="1593.5" stroke="#000" stroke-width="3"/>
<text x="386.7" y="1602.7" font-size="27" text-anchor="middle">+</text>
<text x="424" y="1602.7" font-size="27" text-anchor="middle">+</text>
<line x1="481.4" y1="1593.5" x2="489.4" y2="1593.5" stroke="#000" stroke-width="3"/>
<line x1="518" y1="1593.5" x2="526" y2="1593.5" stroke="#000" stroke-width="3"/>
<text x="558.5" y="1602.7" font-size="27" text-anchor="middle">+</text>
<text x="595.4" y="1602.7" font-size="27" text-anchor="middle">+</text>
<line x1="137.8" y1="1627.2" x2="145.8" y2="1627.2" stroke="#000" stroke-width="3"/>
<text x="178.7" y="1636.4" font-size="27" text-anchor="middle">+</text>
<line x1="211.3" y1="1627.2" x2="219.3" y2="1627.2" stroke="#000" stroke-width="3"/>
<text x="251.8" y="1636.4" font-size="27" text-anchor="middle">+</text>
<line x1="309.6" y1="1627.2" x2="317.6" y2="1627.2" stroke="#000" stroke-width="3"/>
<text x="350.1" y="1636.4" font-size="27" text-anchor="middle">+</text>
<line x1="382.7" y1="1627.2" x2="390.7" y2="1627.2" stroke="#000" stroke-width="3"/>
<text x="424" y="1636.4" font-size="27" text-anchor="middle">+</text>
<line x1="481.4" y1="1627.2" x2="489.4" y2="1627.2" stroke="#000" stroke-width="3"/>
<text x="522" y="1636.4" font-size="27" text-anchor="middle">+</text>
<line x1="554.5" y1="1627.2" x2="562.5" y2="1627.2" stroke="#000" stroke-width="3"/>
<text x="595.4" y="1636.4" font-size="27" text-anchor="middle">+</text>
<text x="675.5" y="1127" font-size="37" font-weight="bold" letter-spacing="0">j</text>
<rect x="777.4" y="1547.1" width="22.7" height="13.9" stroke="#000" stroke-width="2" fill="none"/>
<rect x="813.4" y="1545.2" width="22.7" height="15.8" stroke="#000" stroke-width="2" fill="none"/>
<rect x="849.1" y="1386.8" width="22.7" height="174.2" stroke="#000" stroke-width="2" fill="none"/>
<rect x="884.5" y="1549.1" width="22.7" height="11.9" stroke="#000" stroke-width="2" fill="none"/>
<rect x="944.2" y="1551.1" width="22.7" height="9.9" stroke="#1a1acc" stroke-width="2" fill="none"/>
<rect x="979.9" y="1553.1" width="22.7" height="7.9" stroke="#1a1acc" stroke-width="2" fill="none"/>
<rect x="1015.4" y="1351.1" width="22.7" height="209.9" stroke="#1a1acc" stroke-width="2" fill="none"/>
<rect x="1051.1" y="1378.8" width="22.7" height="182.2" stroke="#1a1acc" stroke-width="2" fill="none"/>
<rect x="1111.2" y="1545.2" width="22.7" height="15.8" stroke="#e0307a" stroke-width="2" fill="none"/>
<rect x="1146.6" y="1553.1" width="22.7" height="7.9" stroke="#e0307a" stroke-width="2" fill="none"/>
<rect x="1182.2" y="1370.9" width="22.7" height="190.1" stroke="#e0307a" stroke-width="2" fill="none"/>
<rect x="1217.7" y="1372.9" width="22.7" height="188.1" stroke="#e0307a" stroke-width="2" fill="none"/>
<circle cx="782.3" cy="1549.5" r="4" fill="#000"/>
<circle cx="788.7" cy="1543.4" r="4" fill="#000"/>
<circle cx="795.1" cy="1548.5" r="4" fill="#000"/>
<line x1="788.7" y1="1543.2" x2="788.7" y2="1551.1" stroke="#000" stroke-width="2.3"/>
<line x1="782.5" y1="1543.2" x2="794.9" y2="1543.2" stroke="#000" stroke-width="2.3"/>
<line x1="782.5" y1="1551.1" x2="794.9" y2="1551.1" stroke="#000" stroke-width="2.3"/>
<circle cx="818.4" cy="1552.3" r="4" fill="#000"/>
<circle cx="824.8" cy="1533.9" r="4" fill="#000"/>
<circle cx="831.2" cy="1549.3" r="4" fill="#000"/>
<line x1="824.8" y1="1533.3" x2="824.8" y2="1557" stroke="#000" stroke-width="2.3"/>
<line x1="818.6" y1="1533.3" x2="831" y2="1533.3" stroke="#000" stroke-width="2.3"/>
<line x1="818.6" y1="1557" x2="831" y2="1557" stroke="#000" stroke-width="2.3"/>
<circle cx="854.1" cy="1403.4" r="4" fill="#000"/>
<circle cx="860.5" cy="1360.4" r="4" fill="#000"/>
<circle cx="866.9" cy="1396.5" r="4" fill="#000"/>
<line x1="860.5" y1="1359" x2="860.5" y2="1414.5" stroke="#000" stroke-width="2.3"/>
<line x1="854.3" y1="1359" x2="866.7" y2="1359" stroke="#000" stroke-width="2.3"/>
<line x1="854.3" y1="1414.5" x2="866.7" y2="1414.5" stroke="#000" stroke-width="2.3"/>
<circle cx="889.5" cy="1553.9" r="4" fill="#000"/>
<circle cx="895.9" cy="1541.6" r="4" fill="#000"/>
<circle cx="902.3" cy="1551.9" r="4" fill="#000"/>
<line x1="895.9" y1="1541.2" x2="895.9" y2="1557" stroke="#000" stroke-width="2.3"/>
<line x1="889.7" y1="1541.2" x2="902.1" y2="1541.2" stroke="#000" stroke-width="2.3"/>
<line x1="889.7" y1="1557" x2="902.1" y2="1557" stroke="#000" stroke-width="2.3"/>
<circle cx="949.2" cy="1560.6" r="4" fill="#1a1acc"/>
<circle cx="955.6" cy="1536.1" r="4" fill="#1a1acc"/>
<circle cx="962" cy="1556.6" r="4" fill="#1a1acc"/>
<line x1="955.6" y1="1535.3" x2="955.6" y2="1561" stroke="#1a1acc" stroke-width="2.3"/>
<line x1="949.4" y1="1535.3" x2="961.8" y2="1535.3" stroke="#1a1acc" stroke-width="2.3"/>
<line x1="949.4" y1="1561" x2="961.8" y2="1561" stroke="#1a1acc" stroke-width="2.3"/>
<circle cx="984.9" cy="1561" r="4" fill="#1a1acc"/>
<circle cx="991.3" cy="1536.2" r="4" fill="#1a1acc"/>
<circle cx="997.7" cy="1559.3" r="4" fill="#1a1acc"/>
<line x1="991.3" y1="1535.3" x2="991.3" y2="1561" stroke="#1a1acc" stroke-width="2.3"/>
<line x1="985.1" y1="1535.3" x2="997.5" y2="1535.3" stroke="#1a1acc" stroke-width="2.3"/>
<line x1="985.1" y1="1561" x2="997.5" y2="1561" stroke="#1a1acc" stroke-width="2.3"/>
<circle cx="1020.3" cy="1360.6" r="4" fill="#1a1acc"/>
<circle cx="1026.7" cy="1336.1" r="4" fill="#1a1acc"/>
<circle cx="1033.1" cy="1356.7" r="4" fill="#1a1acc"/>
<line x1="1026.7" y1="1335.3" x2="1026.7" y2="1367" stroke="#1a1acc" stroke-width="2.3"/>
<line x1="1020.5" y1="1335.3" x2="1032.9" y2="1335.3" stroke="#1a1acc" stroke-width="2.3"/>
<line x1="1020.5" y1="1367" x2="1032.9" y2="1367" stroke="#1a1acc" stroke-width="2.3"/>
<circle cx="1056" cy="1391.9" r="4" fill="#1a1acc"/>
<circle cx="1062.4" cy="1358.1" r="4" fill="#1a1acc"/>
<circle cx="1068.8" cy="1386.5" r="4" fill="#1a1acc"/>
<line x1="1062.4" y1="1357.1" x2="1062.4" y2="1400.6" stroke="#1a1acc" stroke-width="2.3"/>
<line x1="1056.2" y1="1357.1" x2="1068.6" y2="1357.1" stroke="#1a1acc" stroke-width="2.3"/>
<line x1="1056.2" y1="1400.6" x2="1068.6" y2="1400.6" stroke="#1a1acc" stroke-width="2.3"/>
<circle cx="1116.1" cy="1554.7" r="4" fill="#e0307a"/>
<circle cx="1122.5" cy="1530.1" r="4" fill="#e0307a"/>
<circle cx="1128.9" cy="1550.7" r="4" fill="#e0307a"/>
<line x1="1122.5" y1="1529.3" x2="1122.5" y2="1561" stroke="#e0307a" stroke-width="2.3"/>
<line x1="1116.3" y1="1529.3" x2="1128.7" y2="1529.3" stroke="#e0307a" stroke-width="2.3"/>
<line x1="1116.3" y1="1561" x2="1128.7" y2="1561" stroke="#e0307a" stroke-width="2.3"/>
<circle cx="1151.5" cy="1560.2" r="4" fill="#e0307a"/>
<circle cx="1157.9" cy="1541.8" r="4" fill="#e0307a"/>
<circle cx="1164.3" cy="1557.2" r="4" fill="#e0307a"/>
<line x1="1157.9" y1="1541.2" x2="1157.9" y2="1561" stroke="#e0307a" stroke-width="2.3"/>
<line x1="1151.7" y1="1541.2" x2="1164.1" y2="1541.2" stroke="#e0307a" stroke-width="2.3"/>
<line x1="1151.7" y1="1561" x2="1164.1" y2="1561" stroke="#e0307a" stroke-width="2.3"/>
<circle cx="1187.2" cy="1391.1" r="4" fill="#e0307a"/>
<circle cx="1193.6" cy="1338.9" r="4" fill="#e0307a"/>
<circle cx="1200" cy="1382.7" r="4" fill="#e0307a"/>
<line x1="1193.6" y1="1337.3" x2="1193.6" y2="1404.6" stroke="#e0307a" stroke-width="2.3"/>
<line x1="1187.4" y1="1337.3" x2="1199.8" y2="1337.3" stroke="#e0307a" stroke-width="2.3"/>
<line x1="1187.4" y1="1404.6" x2="1199.8" y2="1404.6" stroke="#e0307a" stroke-width="2.3"/>
<circle cx="1222.6" cy="1384.8" r="4" fill="#e0307a"/>
<circle cx="1229" cy="1354.1" r="4" fill="#e0307a"/>
<circle cx="1235.4" cy="1379.8" r="4" fill="#e0307a"/>
<line x1="1229" y1="1353.1" x2="1229" y2="1392.7" stroke="#e0307a" stroke-width="2.3"/>
<line x1="1222.8" y1="1353.1" x2="1235.2" y2="1353.1" stroke="#e0307a" stroke-width="2.3"/>
<line x1="1222.8" y1="1392.7" x2="1235.2" y2="1392.7" stroke="#e0307a" stroke-width="2.3"/>
<line x1="765.1" y1="1243.2" x2="765.1" y2="1562.5" stroke="#000" stroke-width="3"/>
<line x1="752.1" y1="1561" x2="765.1" y2="1561" stroke="#000" stroke-width="3"/>
<text x="749" y="1572.6" font-size="27" text-anchor="end" letter-spacing="0.1">0</text>
<line x1="752.1" y1="1481.8" x2="765.1" y2="1481.8" stroke="#000" stroke-width="3"/>
<text x="749" y="1493.4" font-size="27" text-anchor="end" letter-spacing="0.1">20</text>
<line x1="752.1" y1="1402.6" x2="765.1" y2="1402.6" stroke="#000" stroke-width="3"/>
<text x="749" y="1414.2" font-size="27" text-anchor="end" letter-spacing="0.1">40</text>
<line x1="752.1" y1="1323.4" x2="765.1" y2="1323.4" stroke="#000" stroke-width="3"/>
<text x="749" y="1335" font-size="27" text-anchor="end" letter-spacing="0.1">60</text>
<line x1="752.1" y1="1244.2" x2="765.1" y2="1244.2" stroke="#000" stroke-width="3"/>
<text x="749" y="1255.8" font-size="27" text-anchor="end" letter-spacing="0.1">80</text>
<line x1="751.7" y1="1561" x2="1253.3" y2="1561" stroke="#000" stroke-width="3"/>
<text x="706" y="1394.5" font-size="27" text-anchor="middle" textLength="275" transform="rotate(-90 706 1394.5)">Lipid peroxidation (%)</text>
<rect x="792.3" y="1217.1" width="12.9" height="12.9" stroke="#000" stroke-width="2.6" fill="none"/>
<text x="816.5" y="1231" font-size="27">si-ctrl</text>
<rect x="930.5" y="1217.1" width="12.9" height="12.9" stroke="#1a1acc" stroke-width="2.6" fill="none"/>
<text x="957.4" y="1231" font-size="27">AHR-si 1</text>
<rect x="1091.3" y="1217.1" width="12.9" height="12.9" stroke="#e020e0" stroke-width="2.6" fill="none"/>
<text x="1118.2" y="1231" font-size="27">AHR-si 2</text>
<line x1="855.3" y1="1339.6" x2="893.9" y2="1339.6" stroke="#000" stroke-width="2.5"/>
<text x="824.8" y="1330.5" font-size="27">p=0.0006</text>
<line x1="1026.7" y1="1315.3" x2="1064.5" y2="1315.3" stroke="#000" stroke-width="2.5"/>
<text x="1032" y="1307" font-size="27">n.s.</text>
<line x1="1191.6" y1="1321.4" x2="1229.8" y2="1321.4" stroke="#000" stroke-width="2.5"/>
<text x="1194.4" y="1313" font-size="27">n.s.</text>
<text x="760" y="1599.1" font-size="27" text-anchor="end">RSL3</text>
<text x="758" y="1631.7" font-size="27" text-anchor="end">IDA</text>
<line x1="784.7" y1="1589.4" x2="792.7" y2="1589.4" stroke="#000" stroke-width="3"/>
<line x1="820.8" y1="1589.4" x2="828.8" y2="1589.4" stroke="#000" stroke-width="3"/>
<text x="860.5" y="1598.6" font-size="27" text-anchor="middle">+</text>
<text x="895.9" y="1598.6" font-size="27" text-anchor="middle">+</text>
<line x1="951.6" y1="1589.4" x2="959.6" y2="1589.4" stroke="#000" stroke-width="3"/>
<line x1="987.3" y1="1589.4" x2="995.3" y2="1589.4" stroke="#000" stroke-width="3"/>
<text x="1026.7" y="1598.6" font-size="27" text-anchor="middle">+</text>
<text x="1062.4" y="1598.6" font-size="27" text-anchor="middle">+</text>
<line x1="1118.5" y1="1589.4" x2="1126.5" y2="1589.4" stroke="#000" stroke-width="3"/>
<line x1="1153.9" y1="1589.4" x2="1161.9" y2="1589.4" stroke="#000" stroke-width="3"/>
<text x="1193.6" y="1598.6" font-size="27" text-anchor="middle">+</text>
<text x="1229" y="1598.6" font-size="27" text-anchor="middle">+</text>
<line x1="784.7" y1="1622" x2="792.7" y2="1622" stroke="#000" stroke-width="3"/>
<text x="824.8" y="1631.2" font-size="27" text-anchor="middle">+</text>
<line x1="856.5" y1="1622" x2="864.5" y2="1622" stroke="#000" stroke-width="3"/>
<text x="895.9" y="1631.2" font-size="27" text-anchor="middle">+</text>
<line x1="951.6" y1="1622" x2="959.6" y2="1622" stroke="#000" stroke-width="3"/>
<text x="991.3" y="1631.2" font-size="27" text-anchor="middle">+</text>
<line x1="1022.7" y1="1622" x2="1030.7" y2="1622" stroke="#000" stroke-width="3"/>
<text x="1062.4" y="1631.2" font-size="27" text-anchor="middle">+</text>
<line x1="1118.5" y1="1622" x2="1126.5" y2="1622" stroke="#000" stroke-width="3"/>
<text x="1157.9" y="1631.2" font-size="27" text-anchor="middle">+</text>
<line x1="1189.6" y1="1622" x2="1197.6" y2="1622" stroke="#000" stroke-width="3"/>
<text x="1229" y="1631.2" font-size="27" text-anchor="middle">+</text>
<text x="1297.7" y="1127.3" font-size="37" font-weight="bold" letter-spacing="0">k</text>
<text x="1451" y="1230" font-size="26.5" transform="rotate(-52 1451 1230)">WT</text>
<text x="1500" y="1228" font-size="26.5" transform="rotate(-52 1500 1228)">AHR KO 1</text>
<text x="1560" y="1230" font-size="26.5" transform="rotate(-52 1560 1230)">AHR KO 2</text>
<rect x="1431.8" y="1233.9" width="155.4" height="39.5" fill="#f9f9f9"/>
<rect x="1436.8" y="1238.9" width="145.4" height="29.5" fill="#f0f0f0" filter="url(#b4)"/>
<rect x="1440" y="1237" width="41" height="35" rx="6" fill="#000" fill-opacity="0.40" filter="url(#b7)"/>
<rect x="1440.1" y="1245.2" width="40.4" height="23.1" rx="11.5" fill="#000" fill-opacity="0.25" filter="url(#b8)"/>
<rect x="1443.1" y="1250.2" width="34.4" height="13.1" rx="6" fill="#000" fill-opacity="0.85" filter="url(#b5)"/>
<rect x="1432.8" y="1234.9" width="153.5" height="37.6" stroke="#000" stroke-width="1.9" fill="none"/>
<rect x="1431.8" y="1280.5" width="155.4" height="39.5" fill="#fafafa"/>
<rect x="1441.7" y="1290.1" width="43.8" height="18.6" rx="9.3" fill="#000" fill-opacity="0.25" filter="url(#b8)"/>
<rect x="1444.7" y="1295.1" width="37.8" height="8.6" rx="4.3" fill="#000" fill-opacity="1.00" filter="url(#b3)"/>
<rect x="1484.5" y="1290.1" width="50.5" height="19.6" rx="9.8" fill="#000" fill-opacity="0.25" filter="url(#b8)"/>
<rect x="1487.5" y="1295.1" width="44.5" height="9.6" rx="4.8" fill="#000" fill-opacity="1.00" filter="url(#b3)"/>
<rect x="1533" y="1289.6" width="41.8" height="18.6" rx="9.3" fill="#000" fill-opacity="0.25" filter="url(#b8)"/>
<rect x="1536" y="1294.6" width="35.8" height="8.6" rx="4.3" fill="#000" fill-opacity="1.00" filter="url(#b3)"/>
<rect x="1432.8" y="1281.5" width="153.5" height="37.6" stroke="#000" stroke-width="1.9" fill="none"/>
<text x="1424" y="1269" font-size="27" text-anchor="end">AHR</text>
<text x="1420" y="1310" font-size="27" text-anchor="end">β-actin</text>
<line x1="1587.2" y1="1263.7" x2="1596" y2="1263.7" stroke="#000" stroke-width="2.2"/>
<line x1="1587.2" y1="1306.9" x2="1596" y2="1306.9" stroke="#000" stroke-width="2.2"/>
<text x="1599.5" y="1269" font-size="27">100 kDa</text>
<text x="1602.5" y="1309" font-size="27">40 kDa</text>
<text x="1516.6" y="1356.2" font-size="27" text-anchor="middle">HT29</text>
<text x="1303.5" y="1456.7" font-size="37" font-weight="bold" letter-spacing="0">l</text>
<text x="1447" y="1484" font-size="26.5" transform="rotate(-52 1447 1484)">WT</text>
<text x="1494" y="1481" font-size="26.5" transform="rotate(-52 1494 1481)">AHR KO 1</text>
<text x="1544" y="1482" font-size="26.5" transform="rotate(-52 1544 1482)">AHR KO 2</text>
<rect x="1442.3" y="1491.2" width="140.2" height="48.8" fill="#fafafa"/>
<rect x="1449.6" y="1502.7" width="43.6" height="27.7" rx="13.9" fill="#000" fill-opacity="0.30" filter="url(#b10)"/>
<rect x="1453.6" y="1509.7" width="35.6" height="13.7" rx="6" fill="#000" fill-opacity="1.00" filter="url(#b3)"/>
<rect x="1443.2" y="1492.2" width="138.3" height="46.9" stroke="#000" stroke-width="1.9" fill="none"/>
<rect x="1442.3" y="1547.1" width="140.2" height="45" fill="#fafafa"/>
<rect x="1444.9" y="1557.2" width="48.7" height="25.4" rx="12.7" fill="#000" fill-opacity="0.30" filter="url(#b10)"/>
<rect x="1448.9" y="1564.2" width="40.7" height="11.4" rx="5.7" fill="#000" fill-opacity="1.00" filter="url(#b3)"/>
<rect x="1493.7" y="1558.1" width="44.5" height="23.9" rx="12" fill="#000" fill-opacity="0.30" filter="url(#b10)"/>
<rect x="1497.7" y="1565.1" width="36.5" height="9.9" rx="5" fill="#000" fill-opacity="1.00" filter="url(#b3)"/>
<rect x="1537.3" y="1557.2" width="43.5" height="24.4" rx="12.2" fill="#000" fill-opacity="0.30" filter="url(#b10)"/>
<rect x="1541.3" y="1564.2" width="35.5" height="10.4" rx="5.2" fill="#000" fill-opacity="1.00" filter="url(#b3)"/>
<rect x="1443.2" y="1548" width="138.3" height="43.1" stroke="#000" stroke-width="1.9" fill="none"/>
<text x="1440" y="1520" font-size="27" text-anchor="end">AHR</text>
<text x="1434" y="1570" font-size="27" text-anchor="end">β-actin</text>
<line x1="1582.2" y1="1523" x2="1591" y2="1523" stroke="#000" stroke-width="2.2"/>
<line x1="1582.2" y1="1569" x2="1591" y2="1569" stroke="#000" stroke-width="2.2"/>
<text x="1598" y="1527.6" font-size="27">100 kDa</text>
<text x="1601" y="1573" font-size="27">40 kDa</text>
<text x="1521.5" y="1620.6" font-size="27" text-anchor="middle">HT1080</text>
<text x="22.5" y="1728.7" font-size="37" font-weight="bold" letter-spacing="0">m</text>
<path d="M74.2,2046.1L151.8,2051.4L229.3,2026.3L306.8,1977.9L384.4,1913.4" stroke="#e02020" stroke-width="2.4" fill="none"/>
<path d="M74.2,2046.1L151.8,2049.6L229.3,2028.1L306.8,1976.1L384.4,1906.2" stroke="#22dd22" stroke-width="2.4" fill="none"/>
<path d="M74.2,2046.1L151.8,2053.2L229.3,2026.3L306.8,1958.2L384.4,1884.7" stroke="#000" stroke-width="2.4" fill="none"/>
<path d="M74.2,2040.1 L68.7,2050.1 L79.7,2050.1 Z" stroke="#e02020" stroke-width="0" fill="#e02020"/>
<path d="M151.8,2045.4 L146.2,2055.4 L157.2,2055.4 Z" stroke="#e02020" stroke-width="0" fill="#e02020"/>
<path d="M229.3,2020.3 L223.8,2030.3 L234.8,2030.3 Z" stroke="#e02020" stroke-width="0" fill="#e02020"/>
<line x1="306.8" y1="1965.4" x2="306.8" y2="1990.5" stroke="#e02020" stroke-width="2.4"/>
<line x1="301.3" y1="1965.4" x2="312.3" y2="1965.4" stroke="#e02020" stroke-width="2.4"/>
<line x1="301.3" y1="1990.5" x2="312.3" y2="1990.5" stroke="#e02020" stroke-width="2.4"/>
<path d="M306.8,1971.9 L301.3,1981.9 L312.3,1981.9 Z" stroke="#e02020" stroke-width="0" fill="#e02020"/>
<line x1="384.4" y1="1899" x2="384.4" y2="1927.7" stroke="#e02020" stroke-width="2.4"/>
<line x1="378.9" y1="1899" x2="389.9" y2="1899" stroke="#e02020" stroke-width="2.4"/>
<line x1="378.9" y1="1927.7" x2="389.9" y2="1927.7" stroke="#e02020" stroke-width="2.4"/>
<path d="M384.4,1907.4 L378.9,1917.4 L389.9,1917.4 Z" stroke="#e02020" stroke-width="0" fill="#e02020"/>
<rect x="69.2" y="2041.1" width="10" height="10" stroke="#22dd22" stroke-width="0" fill="#22dd22"/>
<rect x="146.8" y="2044.6" width="10" height="10" stroke="#22dd22" stroke-width="0" fill="#22dd22"/>
<rect x="224.3" y="2023.1" width="10" height="10" stroke="#22dd22" stroke-width="0" fill="#22dd22"/>
<line x1="306.8" y1="1965.4" x2="306.8" y2="1986.9" stroke="#22dd22" stroke-width="2.4"/>
<line x1="301.3" y1="1965.4" x2="312.3" y2="1965.4" stroke="#22dd22" stroke-width="2.4"/>
<line x1="301.3" y1="1986.9" x2="312.3" y2="1986.9" stroke="#22dd22" stroke-width="2.4"/>
<rect x="301.8" y="1971.1" width="10" height="10" stroke="#22dd22" stroke-width="0" fill="#22dd22"/>
<line x1="384.4" y1="1890" x2="384.4" y2="1922.3" stroke="#22dd22" stroke-width="2.4"/>
<line x1="378.9" y1="1890" x2="389.9" y2="1890" stroke="#22dd22" stroke-width="2.4"/>
<line x1="378.9" y1="1922.3" x2="389.9" y2="1922.3" stroke="#22dd22" stroke-width="2.4"/>
<rect x="379.4" y="1901.2" width="10" height="10" stroke="#22dd22" stroke-width="0" fill="#22dd22"/>
<circle cx="74.2" cy="2046.1" r="5.5" fill="#000"/>
<circle cx="151.8" cy="2053.2" r="5.5" fill="#000"/>
<circle cx="229.3" cy="2026.3" r="5.5" fill="#000"/>
<line x1="306.8" y1="1943.8" x2="306.8" y2="1972.5" stroke="#000" stroke-width="2.4"/>
<line x1="301.3" y1="1943.8" x2="312.3" y2="1943.8" stroke="#000" stroke-width="2.4"/>
<line x1="301.3" y1="1972.5" x2="312.3" y2="1972.5" stroke="#000" stroke-width="2.4"/>
<circle cx="306.8" cy="1958.2" r="5.5" fill="#000"/>
<line x1="384.4" y1="1866.7" x2="384.4" y2="1902.6" stroke="#000" stroke-width="2.4"/>
<line x1="378.9" y1="1866.7" x2="389.9" y2="1866.7" stroke="#000" stroke-width="2.4"/>
<line x1="378.9" y1="1902.6" x2="389.9" y2="1902.6" stroke="#000" stroke-width="2.4"/>
<circle cx="384.4" cy="1884.7" r="5.5" fill="#000"/>
<line x1="74.2" y1="1846" x2="74.2" y2="2063.5" stroke="#000" stroke-width="2.6"/>
<line x1="65.2" y1="2062.2" x2="74.2" y2="2062.2" stroke="#000" stroke-width="2.6"/>
<text x="64.7" y="2072.1" font-size="27.5" text-anchor="end" letter-spacing="0.1">0</text>
<line x1="65.2" y1="1990.5" x2="74.2" y2="1990.5" stroke="#000" stroke-width="2.6"/>
<text x="64.7" y="2000.4" font-size="27.5" text-anchor="end" letter-spacing="0.1">2</text>
<line x1="65.2" y1="1918.7" x2="74.2" y2="1918.7" stroke="#000" stroke-width="2.6"/>
<text x="64.7" y="1928.6" font-size="27.5" text-anchor="end" letter-spacing="0.1">4</text>
<line x1="65.2" y1="1847" x2="74.2" y2="1847" stroke="#000" stroke-width="2.6"/>
<text x="64.7" y="1856.9" font-size="27.5" text-anchor="end" letter-spacing="0.1">6</text>
<line x1="65" y1="2062.2" x2="399" y2="2062.2" stroke="#000" stroke-width="2.8"/>
<line x1="74.2" y1="2062.2" x2="74.2" y2="2071.2" stroke="#000" stroke-width="2.8"/>
<line x1="151.8" y1="2062.2" x2="151.8" y2="2071.2" stroke="#000" stroke-width="2.8"/>
<line x1="229.3" y1="2062.2" x2="229.3" y2="2071.2" stroke="#000" stroke-width="2.8"/>
<line x1="306.8" y1="2062.2" x2="306.8" y2="2071.2" stroke="#000" stroke-width="2.8"/>
<line x1="384.4" y1="2062.2" x2="384.4" y2="2071.2" stroke="#000" stroke-width="2.8"/>
<text x="74.2" y="2096" font-size="27.5" text-anchor="middle">0</text>
<text x="151.8" y="2096" font-size="27.5" text-anchor="middle">24</text>
<text x="229.3" y="2096" font-size="27.5" text-anchor="middle">48</text>
<text x="306.8" y="2096" font-size="27.5" text-anchor="middle">72</text>
<text x="370" y="2096" font-size="27.5">96(h)</text>
<text x="38.9" y="1948" font-size="28" text-anchor="middle" textLength="219" transform="rotate(-90 38.9 1948)">Cell number (10<tspan font-size="17" dy="-10">5</tspan><tspan dy="10">)</tspan></text>
<line x1="108.3" y1="1842.2" x2="130.3" y2="1842.2" stroke="#000" stroke-width="2.4"/>
<circle cx="119.3" cy="1842.2" r="5.5" fill="#000"/>
<text x="137" y="1848.3" font-size="25.8">WT</text>
<line x1="108.3" y1="1863.8" x2="130.3" y2="1863.8" stroke="#22dd22" stroke-width="2.4"/>
<rect x="114.3" y="1858.8" width="10" height="10" stroke="#22dd22" stroke-width="0" fill="#22dd22"/>
<text x="139.3" y="1875.4" font-size="25.8">AHR KO 1</text>
<line x1="108.3" y1="1886.5" x2="130.3" y2="1886.5" stroke="#e02020" stroke-width="2.4"/>
<path d="M119.3,1880.5 L113.8,1890.5 L124.8,1890.5 Z" stroke="#e02020" stroke-width="0" fill="#e02020"/>
<text x="139.3" y="1902" font-size="25.8">AHR KO 2</text>
<text x="422.3" y="1727.8" font-size="37" font-weight="bold" letter-spacing="0">n</text>
<path d="M472.9,2053.4L565.8,2037.9L658.6,2004.3L751.5,1931.9" stroke="#22dd22" stroke-width="2.4" fill="none"/>
<path d="M472.9,2053.4L565.8,2043.1L658.6,1994L751.5,1924.2" stroke="#e02020" stroke-width="2.4" fill="none"/>
<path d="M472.9,2053.4L565.8,2035.3L658.6,1999.2L751.5,1937.1" stroke="#000" stroke-width="2.4" fill="none"/>
<rect x="467.9" y="2048.4" width="10" height="10" stroke="#22dd22" stroke-width="0" fill="#22dd22"/>
<rect x="560.8" y="2032.9" width="10" height="10" stroke="#22dd22" stroke-width="0" fill="#22dd22"/>
<line x1="658.6" y1="2000.2" x2="658.6" y2="2008.5" stroke="#22dd22" stroke-width="2.4"/>
<line x1="653.1" y1="2000.2" x2="664.1" y2="2000.2" stroke="#22dd22" stroke-width="2.4"/>
<line x1="653.1" y1="2008.5" x2="664.1" y2="2008.5" stroke="#22dd22" stroke-width="2.4"/>
<rect x="653.6" y="1999.3" width="10" height="10" stroke="#22dd22" stroke-width="0" fill="#22dd22"/>
<line x1="751.5" y1="1924.2" x2="751.5" y2="1939.7" stroke="#22dd22" stroke-width="2.4"/>
<line x1="746" y1="1924.2" x2="757" y2="1924.2" stroke="#22dd22" stroke-width="2.4"/>
<line x1="746" y1="1939.7" x2="757" y2="1939.7" stroke="#22dd22" stroke-width="2.4"/>
<rect x="746.5" y="1926.9" width="10" height="10" stroke="#22dd22" stroke-width="0" fill="#22dd22"/>
<path d="M472.9,2047.4 L467.4,2057.4 L478.4,2057.4 Z" stroke="#e02020" stroke-width="0" fill="#e02020"/>
<path d="M565.8,2037.1 L560.3,2047.1 L571.3,2047.1 Z" stroke="#e02020" stroke-width="0" fill="#e02020"/>
<line x1="658.6" y1="1988.8" x2="658.6" y2="1999.2" stroke="#e02020" stroke-width="2.4"/>
<line x1="653.1" y1="1988.8" x2="664.1" y2="1988.8" stroke="#e02020" stroke-width="2.4"/>
<line x1="653.1" y1="1999.2" x2="664.1" y2="1999.2" stroke="#e02020" stroke-width="2.4"/>
<path d="M658.6,1988 L653.1,1998 L664.1,1998 Z" stroke="#e02020" stroke-width="0" fill="#e02020"/>
<line x1="751.5" y1="1910.2" x2="751.5" y2="1938.2" stroke="#e02020" stroke-width="2.4"/>
<line x1="746" y1="1910.2" x2="757" y2="1910.2" stroke="#e02020" stroke-width="2.4"/>
<line x1="746" y1="1938.2" x2="757" y2="1938.2" stroke="#e02020" stroke-width="2.4"/>
<path d="M751.5,1918.2 L746,1928.2 L757,1928.2 Z" stroke="#e02020" stroke-width="0" fill="#e02020"/>
<circle cx="472.9" cy="2053.4" r="5.5" fill="#000"/>
<circle cx="565.8" cy="2035.3" r="5.5" fill="#000"/>
<line x1="658.6" y1="1993" x2="658.6" y2="2005.4" stroke="#000" stroke-width="2.4"/>
<line x1="653.1" y1="1993" x2="664.1" y2="1993" stroke="#000" stroke-width="2.4"/>
<line x1="653.1" y1="2005.4" x2="664.1" y2="2005.4" stroke="#000" stroke-width="2.4"/>
<circle cx="658.6" cy="1999.2" r="5.5" fill="#000"/>
<line x1="751.5" y1="1922.6" x2="751.5" y2="1951.6" stroke="#000" stroke-width="2.4"/>
<line x1="746" y1="1922.6" x2="757" y2="1922.6" stroke="#000" stroke-width="2.4"/>
<line x1="746" y1="1951.6" x2="757" y2="1951.6" stroke="#000" stroke-width="2.4"/>
<circle cx="751.5" cy="1937.1" r="5.5" fill="#000"/>
<line x1="472.9" y1="1853.5" x2="472.9" y2="2062.5" stroke="#000" stroke-width="2.6"/>
<line x1="463.9" y1="2061.2" x2="472.9" y2="2061.2" stroke="#000" stroke-width="2.6"/>
<text x="463.4" y="2071.1" font-size="27.5" text-anchor="end" letter-spacing="0.1">0</text>
<line x1="463.9" y1="2009.5" x2="472.9" y2="2009.5" stroke="#000" stroke-width="2.6"/>
<text x="463.4" y="2019.4" font-size="27.5" text-anchor="end" letter-spacing="0.1">1</text>
<line x1="463.9" y1="1957.8" x2="472.9" y2="1957.8" stroke="#000" stroke-width="2.6"/>
<text x="463.4" y="1967.7" font-size="27.5" text-anchor="end" letter-spacing="0.1">2</text>
<line x1="463.9" y1="1906.1" x2="472.9" y2="1906.1" stroke="#000" stroke-width="2.6"/>
<text x="463.4" y="1916" font-size="27.5" text-anchor="end" letter-spacing="0.1">3</text>
<line x1="463.9" y1="1854.4" x2="472.9" y2="1854.4" stroke="#000" stroke-width="2.6"/>
<text x="463.4" y="1864.3" font-size="27.5" text-anchor="end" letter-spacing="0.1">4</text>
<line x1="464.6" y1="2061.2" x2="782.5" y2="2061.2" stroke="#000" stroke-width="2.8"/>
<line x1="472.9" y1="2061.2" x2="472.9" y2="2070.2" stroke="#000" stroke-width="2.8"/>
<line x1="565.8" y1="2061.2" x2="565.8" y2="2070.2" stroke="#000" stroke-width="2.8"/>
<line x1="658.6" y1="2061.2" x2="658.6" y2="2070.2" stroke="#000" stroke-width="2.8"/>
<line x1="751.5" y1="2061.2" x2="751.5" y2="2070.2" stroke="#000" stroke-width="2.8"/>
<text x="472.9" y="2093.5" font-size="27.5" text-anchor="middle">0</text>
<text x="565.8" y="2093.5" font-size="27.5" text-anchor="middle">24</text>
<text x="658.6" y="2093.5" font-size="27.5" text-anchor="middle">48</text>
<text x="733" y="2093.5" font-size="27.5">72(h)</text>
<text x="437" y="1950.7" font-size="28" text-anchor="middle" textLength="213" transform="rotate(-90 437 1950.7)">Cell number (10<tspan font-size="17" dy="-10">5</tspan><tspan dy="10">)</tspan></text>
<line x1="492.7" y1="1858.8" x2="514.7" y2="1858.8" stroke="#000" stroke-width="2.4"/>
<circle cx="503.7" cy="1858.8" r="5.5" fill="#000"/>
<text x="528.5" y="1869" font-size="25.8">WT</text>
<line x1="492.7" y1="1880.4" x2="514.7" y2="1880.4" stroke="#22dd22" stroke-width="2.4"/>
<rect x="498.7" y="1875.4" width="10" height="10" stroke="#22dd22" stroke-width="0" fill="#22dd22"/>
<text x="527" y="1892.6" font-size="25.8">AHR KO 1</text>
<line x1="492.7" y1="1903.7" x2="514.7" y2="1903.7" stroke="#e02020" stroke-width="2.4"/>
<path d="M503.7,1897.7 L498.2,1907.7 L509.2,1907.7 Z" stroke="#e02020" stroke-width="0" fill="#e02020"/>
<text x="527" y="1920.9" font-size="25.8">AHR KO 2</text>
<text x="794.5" y="1728.2" font-size="37" font-weight="bold" letter-spacing="0">o</text>
<rect x="899.4" y="2106" width="19.6" height="5.9" stroke="#000" stroke-width="2" fill="none"/>
<rect x="929.7" y="1883.5" width="19.6" height="228.4" stroke="#1a1acc" stroke-width="2" fill="none"/>
<rect x="960.4" y="2098.7" width="19.6" height="13.2" stroke="#22dd22" stroke-width="2" fill="none"/>
<rect x="991.5" y="2095.8" width="19.6" height="16.1" stroke="#e02020" stroke-width="2" fill="none"/>
<rect x="1043.2" y="2106" width="19.6" height="5.9" stroke="#000" stroke-width="2" fill="none"/>
<rect x="1074.2" y="1861.6" width="19.6" height="250.3" stroke="#1a1acc" stroke-width="2" fill="none"/>
<rect x="1104.6" y="2098.7" width="19.6" height="13.2" stroke="#22dd22" stroke-width="2" fill="none"/>
<rect x="1136" y="1863" width="19.6" height="248.9" stroke="#e02020" stroke-width="2" fill="none"/>
<rect x="1187.8" y="2101.7" width="19.6" height="10.2" stroke="#000" stroke-width="2" fill="none"/>
<rect x="1218.5" y="1911.3" width="19.6" height="200.6" stroke="#1a1acc" stroke-width="2" fill="none"/>
<rect x="1249.2" y="2103.1" width="19.6" height="8.8" stroke="#22dd22" stroke-width="2" fill="none"/>
<rect x="1280.6" y="1942.1" width="19.6" height="169.8" stroke="#e02020" stroke-width="2" fill="none"/>
<circle cx="903.7" cy="2108.7" r="4.3" fill="#000"/>
<circle cx="909.2" cy="2101.9" r="4.3" fill="#000"/>
<circle cx="914.7" cy="2107.6" r="4.3" fill="#000"/>
<line x1="909.2" y1="2101.7" x2="909.2" y2="2110.4" stroke="#000" stroke-width="2.3"/>
<line x1="903.8" y1="2101.7" x2="914.6" y2="2101.7" stroke="#000" stroke-width="2.3"/>
<line x1="903.8" y1="2110.4" x2="914.6" y2="2110.4" stroke="#000" stroke-width="2.3"/>
<circle cx="934" cy="1887" r="4.3" fill="#1a1acc"/>
<circle cx="939.5" cy="1878" r="4.3" fill="#1a1acc"/>
<circle cx="945" cy="1885.6" r="4.3" fill="#1a1acc"/>
<line x1="939.5" y1="1877.7" x2="939.5" y2="1889.4" stroke="#1a1acc" stroke-width="2.3"/>
<line x1="934.1" y1="1877.7" x2="944.9" y2="1877.7" stroke="#1a1acc" stroke-width="2.3"/>
<line x1="934.1" y1="1889.4" x2="944.9" y2="1889.4" stroke="#1a1acc" stroke-width="2.3"/>
<circle cx="964.7" cy="2100.5" r="4.3" fill="#22dd22"/>
<circle cx="970.2" cy="2095.9" r="4.3" fill="#22dd22"/>
<circle cx="975.7" cy="2099.7" r="4.3" fill="#22dd22"/>
<line x1="970.2" y1="2095.8" x2="970.2" y2="2101.7" stroke="#22dd22" stroke-width="2.3"/>
<line x1="964.8" y1="2095.8" x2="975.6" y2="2095.8" stroke="#22dd22" stroke-width="2.3"/>
<line x1="964.8" y1="2101.7" x2="975.6" y2="2101.7" stroke="#22dd22" stroke-width="2.3"/>
<circle cx="995.8" cy="2104.6" r="4.3" fill="#e02020"/>
<circle cx="1001.3" cy="2081.9" r="4.3" fill="#e02020"/>
<circle cx="1006.8" cy="2100.9" r="4.3" fill="#e02020"/>
<line x1="1001.3" y1="2081.2" x2="1001.3" y2="2110.4" stroke="#e02020" stroke-width="2.3"/>
<line x1="995.9" y1="2081.2" x2="1006.7" y2="2081.2" stroke="#e02020" stroke-width="2.3"/>
<line x1="995.9" y1="2110.4" x2="1006.7" y2="2110.4" stroke="#e02020" stroke-width="2.3"/>
<circle cx="1047.5" cy="2108.7" r="4.3" fill="#000"/>
<circle cx="1053" cy="2101.9" r="4.3" fill="#000"/>
<circle cx="1058.5" cy="2107.6" r="4.3" fill="#000"/>
<line x1="1053" y1="2101.7" x2="1053" y2="2110.4" stroke="#000" stroke-width="2.3"/>
<line x1="1047.6" y1="2101.7" x2="1058.4" y2="2101.7" stroke="#000" stroke-width="2.3"/>
<line x1="1047.6" y1="2110.4" x2="1058.4" y2="2110.4" stroke="#000" stroke-width="2.3"/>
<circle cx="1078.5" cy="1866.8" r="4.3" fill="#1a1acc"/>
<circle cx="1084" cy="1853.2" r="4.3" fill="#1a1acc"/>
<circle cx="1089.5" cy="1864.6" r="4.3" fill="#1a1acc"/>
<line x1="1084" y1="1852.8" x2="1084" y2="1870.3" stroke="#1a1acc" stroke-width="2.3"/>
<line x1="1078.6" y1="1852.8" x2="1089.4" y2="1852.8" stroke="#1a1acc" stroke-width="2.3"/>
<line x1="1078.6" y1="1870.3" x2="1089.4" y2="1870.3" stroke="#1a1acc" stroke-width="2.3"/>
<circle cx="1108.9" cy="2100.5" r="4.3" fill="#22dd22"/>
<circle cx="1114.4" cy="2095.9" r="4.3" fill="#22dd22"/>
<circle cx="1119.9" cy="2099.7" r="4.3" fill="#22dd22"/>
<line x1="1114.4" y1="2095.8" x2="1114.4" y2="2101.7" stroke="#22dd22" stroke-width="2.3"/>
<line x1="1109" y1="2095.8" x2="1119.8" y2="2095.8" stroke="#22dd22" stroke-width="2.3"/>
<line x1="1109" y1="2101.7" x2="1119.8" y2="2101.7" stroke="#22dd22" stroke-width="2.3"/>
<circle cx="1140.3" cy="1877.1" r="4.3" fill="#e02020"/>
<circle cx="1145.8" cy="1840.8" r="4.3" fill="#e02020"/>
<circle cx="1151.3" cy="1871.2" r="4.3" fill="#e02020"/>
<line x1="1145.8" y1="1839.6" x2="1145.8" y2="1886.4" stroke="#e02020" stroke-width="2.3"/>
<line x1="1140.4" y1="1839.6" x2="1151.2" y2="1839.6" stroke="#e02020" stroke-width="2.3"/>
<line x1="1140.4" y1="1886.4" x2="1151.2" y2="1886.4" stroke="#e02020" stroke-width="2.3"/>
<circle cx="1192.1" cy="2102.5" r="4.3" fill="#000"/>
<circle cx="1197.6" cy="2100.3" r="4.3" fill="#000"/>
<circle cx="1203.1" cy="2102.2" r="4.3" fill="#000"/>
<line x1="1197.6" y1="2100.2" x2="1197.6" y2="2103.1" stroke="#000" stroke-width="2.3"/>
<line x1="1192.2" y1="2100.2" x2="1203" y2="2100.2" stroke="#000" stroke-width="2.3"/>
<line x1="1192.2" y1="2103.1" x2="1203" y2="2103.1" stroke="#000" stroke-width="2.3"/>
<circle cx="1222.8" cy="1914.8" r="4.3" fill="#1a1acc"/>
<circle cx="1228.3" cy="1905.8" r="4.3" fill="#1a1acc"/>
<circle cx="1233.8" cy="1913.4" r="4.3" fill="#1a1acc"/>
<line x1="1228.3" y1="1905.5" x2="1228.3" y2="1917.2" stroke="#1a1acc" stroke-width="2.3"/>
<line x1="1222.9" y1="1905.5" x2="1233.7" y2="1905.5" stroke="#1a1acc" stroke-width="2.3"/>
<line x1="1222.9" y1="1917.2" x2="1233.7" y2="1917.2" stroke="#1a1acc" stroke-width="2.3"/>
<circle cx="1253.5" cy="2107.5" r="4.3" fill="#22dd22"/>
<circle cx="1259" cy="2096.2" r="4.3" fill="#22dd22"/>
<circle cx="1264.5" cy="2105.7" r="4.3" fill="#22dd22"/>
<line x1="1259" y1="2095.8" x2="1259" y2="2110.4" stroke="#22dd22" stroke-width="2.3"/>
<line x1="1253.6" y1="2095.8" x2="1264.4" y2="2095.8" stroke="#22dd22" stroke-width="2.3"/>
<line x1="1253.6" y1="2110.4" x2="1264.4" y2="2110.4" stroke="#22dd22" stroke-width="2.3"/>
<circle cx="1284.9" cy="1943.8" r="4.3" fill="#e02020"/>
<circle cx="1290.4" cy="1939.3" r="4.3" fill="#e02020"/>
<circle cx="1295.9" cy="1943.1" r="4.3" fill="#e02020"/>
<line x1="1290.4" y1="1939.1" x2="1290.4" y2="1945" stroke="#e02020" stroke-width="2.3"/>
<line x1="1285" y1="1939.1" x2="1295.8" y2="1939.1" stroke="#e02020" stroke-width="2.3"/>
<line x1="1285" y1="1945" x2="1295.8" y2="1945" stroke="#e02020" stroke-width="2.3"/>
<line x1="887.1" y1="1818.2" x2="887.1" y2="2113.4" stroke="#000" stroke-width="3"/>
<line x1="875.1" y1="2111.9" x2="887.1" y2="2111.9" stroke="#000" stroke-width="3"/>
<text x="873.3" y="2120.7" font-size="27" text-anchor="end" letter-spacing="0.1">0</text>
<line x1="875.1" y1="2038.7" x2="887.1" y2="2038.7" stroke="#000" stroke-width="3"/>
<text x="873.3" y="2047.5" font-size="27" text-anchor="end" letter-spacing="0.1">25</text>
<line x1="875.1" y1="1965.5" x2="887.1" y2="1965.5" stroke="#000" stroke-width="3"/>
<text x="873.3" y="1974.3" font-size="27" text-anchor="end" letter-spacing="0.1">50</text>
<line x1="875.1" y1="1892.3" x2="887.1" y2="1892.3" stroke="#000" stroke-width="3"/>
<text x="873.3" y="1901.1" font-size="27" text-anchor="end" letter-spacing="0.1">75</text>
<line x1="875.1" y1="1819.1" x2="887.1" y2="1819.1" stroke="#000" stroke-width="3"/>
<text x="873.3" y="1827.9" font-size="27" text-anchor="end" letter-spacing="0.1">100</text>
<line x1="875.7" y1="2111.9" x2="1311.8" y2="2111.9" stroke="#000" stroke-width="3"/>
<line x1="954.2" y1="2111.9" x2="954.2" y2="2120.9" stroke="#000" stroke-width="3"/>
<line x1="1098.7" y1="2111.9" x2="1098.7" y2="2120.9" stroke="#000" stroke-width="3"/>
<line x1="1244" y1="2111.9" x2="1244" y2="2120.9" stroke="#000" stroke-width="3"/>
<text x="954" y="2154.7" font-size="27" text-anchor="middle">WT</text>
<text x="1101" y="2154.7" font-size="27" text-anchor="middle">AHR KO 1</text>
<text x="1264.5" y="2154.7" font-size="27" text-anchor="middle">AHR KO 2</text>
<text x="830" y="1947.8" font-size="27" text-anchor="middle" textLength="181" transform="rotate(-90 830 1947.8)">Cell death (%)</text>
<rect x="916.3" y="1711.6" width="12.9" height="12.9" stroke="#000" stroke-width="2.6" fill="none"/>
<text x="940.5" y="1725.5" font-size="26">DMSO</text>
<rect x="916.3" y="1740.8" width="12.9" height="12.9" stroke="#1a1acc" stroke-width="2.6" fill="none"/>
<text x="940.5" y="1754.8" font-size="26">RSL3</text>
<rect x="1071.1" y="1711.6" width="12.9" height="12.9" stroke="#22dd22" stroke-width="2.6" fill="none"/>
<text x="1095.3" y="1725.5" font-size="26">IDA</text>
<rect x="1071.1" y="1742.3" width="12.9" height="12.9" stroke="#e02020" stroke-width="2.6" fill="none"/>
<text x="1095.3" y="1756.2" font-size="26">IDA+RSL3</text>
<line x1="994.9" y1="1794.2" x2="1307.2" y2="1794.2" stroke="#000" stroke-width="2.5"/>
<text x="1097.7" y="1785" font-size="27">p=6.37x10<tspan font-size="15.1" dy="-10">-5</tspan></text>
<line x1="1006.6" y1="1826.3" x2="1163.7" y2="1826.3" stroke="#000" stroke-width="2.5"/>
<text x="1033.4" y="1819" font-size="27">p=0.0002</text>
<line x1="932.8" y1="1864.9" x2="995.2" y2="1864.9" stroke="#000" stroke-width="2.5"/>
<text x="912.8" y="1853" font-size="27">p=2.61x10<tspan font-size="15.1" dy="-10">-5</tspan></text>
<text x="1375.9" y="1727" font-size="37" font-weight="bold" letter-spacing="0">p</text>
<rect x="1447.2" y="2102.9" width="19.4" height="3" stroke="#000" stroke-width="2" fill="none"/>
<rect x="1477.9" y="1938.2" width="19.4" height="167.7" stroke="#1a1acc" stroke-width="2" fill="none"/>
<rect x="1507.7" y="2103.9" width="19.4" height="2" stroke="#22dd22" stroke-width="2" fill="none"/>
<rect x="1538.3" y="2081.7" width="19.4" height="24.2" stroke="#e02020" stroke-width="2" fill="none"/>
<rect x="1608.6" y="2103.9" width="19.4" height="2" stroke="#000" stroke-width="2" fill="none"/>
<rect x="1639.3" y="1920.1" width="19.4" height="185.8" stroke="#1a1acc" stroke-width="2" fill="none"/>
<rect x="1669.5" y="2103.9" width="19.4" height="2" stroke="#22dd22" stroke-width="2" fill="none"/>
<rect x="1699.3" y="1920.1" width="19.4" height="185.8" stroke="#e02020" stroke-width="2" fill="none"/>
<rect x="1770" y="2104.9" width="19.4" height="1" stroke="#000" stroke-width="2" fill="none"/>
<rect x="1800.3" y="1968.5" width="19.4" height="137.4" stroke="#1a1acc" stroke-width="2" fill="none"/>
<rect x="1830.1" y="2104.9" width="19.4" height="1" stroke="#22dd22" stroke-width="2" fill="none"/>
<rect x="1860.7" y="1988.7" width="19.4" height="117.2" stroke="#e02020" stroke-width="2" fill="none"/>
<circle cx="1451.5" cy="2103.8" r="4.3" fill="#000"/>
<circle cx="1456.9" cy="2101.3" r="4.3" fill="#000"/>
<circle cx="1462.3" cy="2103.4" r="4.3" fill="#000"/>
<line x1="1456.9" y1="2101.3" x2="1456.9" y2="2104.5" stroke="#000" stroke-width="2.3"/>
<line x1="1451.6" y1="2101.3" x2="1462.2" y2="2101.3" stroke="#000" stroke-width="2.3"/>
<line x1="1451.6" y1="2104.5" x2="1462.2" y2="2104.5" stroke="#000" stroke-width="2.3"/>
<circle cx="1482.2" cy="1958.8" r="4.3" fill="#1a1acc"/>
<circle cx="1487.6" cy="1905.6" r="4.3" fill="#1a1acc"/>
<circle cx="1493" cy="1950.3" r="4.3" fill="#1a1acc"/>
<line x1="1487.6" y1="1903.9" x2="1487.6" y2="1972.6" stroke="#1a1acc" stroke-width="2.3"/>
<line x1="1482.3" y1="1903.9" x2="1492.9" y2="1903.9" stroke="#1a1acc" stroke-width="2.3"/>
<line x1="1482.3" y1="1972.6" x2="1492.9" y2="1972.6" stroke="#1a1acc" stroke-width="2.3"/>
<circle cx="1512" cy="2104.5" r="4.3" fill="#22dd22"/>
<circle cx="1517.4" cy="2102.9" r="4.3" fill="#22dd22"/>
<circle cx="1522.8" cy="2104.2" r="4.3" fill="#22dd22"/>
<line x1="1517.4" y1="2102.9" x2="1517.4" y2="2104.9" stroke="#22dd22" stroke-width="2.3"/>
<line x1="1512.1" y1="2102.9" x2="1522.7" y2="2102.9" stroke="#22dd22" stroke-width="2.3"/>
<line x1="1512.1" y1="2104.9" x2="1522.7" y2="2104.9" stroke="#22dd22" stroke-width="2.3"/>
<circle cx="1542.6" cy="2084.1" r="4.3" fill="#e02020"/>
<circle cx="1548" cy="2077.8" r="4.3" fill="#e02020"/>
<circle cx="1553.4" cy="2083.1" r="4.3" fill="#e02020"/>
<line x1="1548" y1="2077.6" x2="1548" y2="2085.7" stroke="#e02020" stroke-width="2.3"/>
<line x1="1542.7" y1="2077.6" x2="1553.3" y2="2077.6" stroke="#e02020" stroke-width="2.3"/>
<line x1="1542.7" y1="2085.7" x2="1553.3" y2="2085.7" stroke="#e02020" stroke-width="2.3"/>
<circle cx="1612.9" cy="2104.5" r="4.3" fill="#000"/>
<circle cx="1618.3" cy="2102.9" r="4.3" fill="#000"/>
<circle cx="1623.7" cy="2104.2" r="4.3" fill="#000"/>
<line x1="1618.3" y1="2102.9" x2="1618.3" y2="2104.9" stroke="#000" stroke-width="2.3"/>
<line x1="1613" y1="2102.9" x2="1623.6" y2="2102.9" stroke="#000" stroke-width="2.3"/>
<line x1="1613" y1="2104.9" x2="1623.6" y2="2104.9" stroke="#000" stroke-width="2.3"/>
<circle cx="1643.6" cy="1926.1" r="4.3" fill="#1a1acc"/>
<circle cx="1649" cy="1910.5" r="4.3" fill="#1a1acc"/>
<circle cx="1654.4" cy="1923.6" r="4.3" fill="#1a1acc"/>
<line x1="1649" y1="1910" x2="1649" y2="1930.2" stroke="#1a1acc" stroke-width="2.3"/>
<line x1="1643.7" y1="1910" x2="1654.3" y2="1910" stroke="#1a1acc" stroke-width="2.3"/>
<line x1="1643.7" y1="1930.2" x2="1654.3" y2="1930.2" stroke="#1a1acc" stroke-width="2.3"/>
<circle cx="1673.8" cy="2104.5" r="4.3" fill="#22dd22"/>
<circle cx="1679.2" cy="2102.9" r="4.3" fill="#22dd22"/>
<circle cx="1684.6" cy="2104.2" r="4.3" fill="#22dd22"/>
<line x1="1679.2" y1="2102.9" x2="1679.2" y2="2104.9" stroke="#22dd22" stroke-width="2.3"/>
<line x1="1673.9" y1="2102.9" x2="1684.5" y2="2102.9" stroke="#22dd22" stroke-width="2.3"/>
<line x1="1673.9" y1="2104.9" x2="1684.5" y2="2104.9" stroke="#22dd22" stroke-width="2.3"/>
<circle cx="1703.6" cy="1927.3" r="4.3" fill="#e02020"/>
<circle cx="1709" cy="1908.5" r="4.3" fill="#e02020"/>
<circle cx="1714.4" cy="1924.3" r="4.3" fill="#e02020"/>
<line x1="1709" y1="1907.9" x2="1709" y2="1932.2" stroke="#e02020" stroke-width="2.3"/>
<line x1="1703.7" y1="1907.9" x2="1714.3" y2="1907.9" stroke="#e02020" stroke-width="2.3"/>
<line x1="1703.7" y1="1932.2" x2="1714.3" y2="1932.2" stroke="#e02020" stroke-width="2.3"/>
<circle cx="1774.3" cy="2105.4" r="4.3" fill="#000"/>
<circle cx="1779.7" cy="2104.1" r="4.3" fill="#000"/>
<circle cx="1785.1" cy="2105.2" r="4.3" fill="#000"/>
<line x1="1779.7" y1="2104.1" x2="1779.7" y2="2105.7" stroke="#000" stroke-width="2.3"/>
<line x1="1774.4" y1="2104.1" x2="1785" y2="2104.1" stroke="#000" stroke-width="2.3"/>
<line x1="1774.4" y1="2105.7" x2="1785" y2="2105.7" stroke="#000" stroke-width="2.3"/>
<circle cx="1804.6" cy="1981.9" r="4.3" fill="#1a1acc"/>
<circle cx="1810" cy="1947.4" r="4.3" fill="#1a1acc"/>
<circle cx="1815.4" cy="1976.3" r="4.3" fill="#1a1acc"/>
<line x1="1810" y1="1946.3" x2="1810" y2="1990.8" stroke="#1a1acc" stroke-width="2.3"/>
<line x1="1804.7" y1="1946.3" x2="1815.3" y2="1946.3" stroke="#1a1acc" stroke-width="2.3"/>
<line x1="1804.7" y1="1990.8" x2="1815.3" y2="1990.8" stroke="#1a1acc" stroke-width="2.3"/>
<circle cx="1834.4" cy="2105.4" r="4.3" fill="#22dd22"/>
<circle cx="1839.8" cy="2104.1" r="4.3" fill="#22dd22"/>
<circle cx="1845.2" cy="2105.2" r="4.3" fill="#22dd22"/>
<line x1="1839.8" y1="2104.1" x2="1839.8" y2="2105.7" stroke="#22dd22" stroke-width="2.3"/>
<line x1="1834.5" y1="2104.1" x2="1845.1" y2="2104.1" stroke="#22dd22" stroke-width="2.3"/>
<line x1="1834.5" y1="2105.7" x2="1845.1" y2="2105.7" stroke="#22dd22" stroke-width="2.3"/>
<circle cx="1865" cy="2004.5" r="4.3" fill="#e02020"/>
<circle cx="1870.4" cy="1963.8" r="4.3" fill="#e02020"/>
<circle cx="1875.8" cy="1997.9" r="4.3" fill="#e02020"/>
<line x1="1870.4" y1="1962.5" x2="1870.4" y2="2015" stroke="#e02020" stroke-width="2.3"/>
<line x1="1865.1" y1="1962.5" x2="1875.7" y2="1962.5" stroke="#e02020" stroke-width="2.3"/>
<line x1="1865.1" y1="2015" x2="1875.7" y2="2015" stroke="#e02020" stroke-width="2.3"/>
<line x1="1436.4" y1="1801.5" x2="1436.4" y2="2107.4" stroke="#000" stroke-width="3"/>
<line x1="1423.9" y1="2105.9" x2="1436.4" y2="2105.9" stroke="#000" stroke-width="3"/>
<text x="1419.9" y="2112.7" font-size="27" text-anchor="end" letter-spacing="0.1">0</text>
<line x1="1423.9" y1="2004.9" x2="1436.4" y2="2004.9" stroke="#000" stroke-width="3"/>
<text x="1419.9" y="2011.7" font-size="27" text-anchor="end" letter-spacing="0.1">50</text>
<line x1="1423.9" y1="1903.9" x2="1436.4" y2="1903.9" stroke="#000" stroke-width="3"/>
<text x="1419.9" y="1910.7" font-size="27" text-anchor="end" letter-spacing="0.1">100</text>
<line x1="1423.9" y1="1802.9" x2="1436.4" y2="1802.9" stroke="#000" stroke-width="3"/>
<text x="1419.9" y="1809.7" font-size="27" text-anchor="end" letter-spacing="0.1">150</text>
<line x1="1424" y1="2105.9" x2="1892" y2="2105.9" stroke="#000" stroke-width="3"/>
<line x1="1502.5" y1="2105.9" x2="1502.5" y2="2114.9" stroke="#000" stroke-width="3"/>
<line x1="1663.1" y1="2105.9" x2="1663.1" y2="2114.9" stroke="#000" stroke-width="3"/>
<line x1="1824.9" y1="2105.9" x2="1824.9" y2="2114.9" stroke="#000" stroke-width="3"/>
<text x="1500.5" y="2141.3" font-size="27" text-anchor="middle">WT</text>
<text x="1661" y="2141.3" font-size="27" text-anchor="middle">AHR KO 1</text>
<text x="1834.4" y="2141.3" font-size="27" text-anchor="middle">AHR KO 2</text>
<text x="1372" y="1949.8" font-size="27" text-anchor="middle" textLength="180" transform="rotate(-90 1372 1949.8)">Cell death (%)</text>
<rect x="1490.7" y="1731.7" width="13.1" height="13.1" stroke="#000" stroke-width="2.6" fill="none"/>
<text x="1515.1" y="1745.8" font-size="26">DMSO</text>
<rect x="1490.7" y="1763.3" width="13.1" height="13.1" stroke="#1a1acc" stroke-width="2.6" fill="none"/>
<text x="1515.1" y="1777.3" font-size="26">RSL3</text>
<rect x="1640.1" y="1731.7" width="13.1" height="13.1" stroke="#22dd22" stroke-width="2.6" fill="none"/>
<text x="1664.5" y="1745.8" font-size="26">IDA</text>
<rect x="1640.1" y="1763.3" width="13.1" height="13.1" stroke="#e02020" stroke-width="2.6" fill="none"/>
<text x="1664.5" y="1777.3" font-size="26">IDA+RSL3</text>
<line x1="1544.7" y1="1828.7" x2="1888.4" y2="1828.7" stroke="#000" stroke-width="2.5"/>
<text x="1668.7" y="1819" font-size="27">p=0036</text>
<line x1="1527.5" y1="1865.7" x2="1711.7" y2="1865.7" stroke="#000" stroke-width="2.5"/>
<text x="1538" y="1858" font-size="27">p=6.05x10<tspan font-size="15.1" dy="-10">-5</tspan></text>
<line x1="1472.6" y1="1898.5" x2="1530.5" y2="1898.5" stroke="#000" stroke-width="2.5"/>
<text x="1446.5" y="1897.5" font-size="27">p=0.0018</text>
<text x="22.2" y="2246.5" font-size="37" font-weight="bold" letter-spacing="0">q</text>
<rect x="101.4" y="2467.4" width="174.9" height="32.6" fill="#f7f7f7"/>
<rect x="104.4" y="2470.4" width="168.9" height="26.6" fill="#e9e9e9" filter="url(#b4)"/>
<rect x="187.3" y="2478.3" width="35.3" height="16.5" rx="8.2" fill="#000" fill-opacity="0.20" filter="url(#b8)"/>
<rect x="190.3" y="2483.3" width="29.3" height="6.5" rx="3.2" fill="#000" fill-opacity="1.00" filter="url(#b2)"/>
<rect x="226.1" y="2477" width="40.6" height="16.7" rx="8.3" fill="#000" fill-opacity="0.20" filter="url(#b8)"/>
<rect x="229.1" y="2482" width="34.6" height="6.7" rx="3.3" fill="#000" fill-opacity="1.00" filter="url(#b2)"/>
<rect x="102.4" y="2468.3" width="173" height="30.7" stroke="#000" stroke-width="1.9" fill="none"/>
<rect x="101.4" y="2507.8" width="174.9" height="27.7" fill="#f5f5f5"/>
<rect x="110.9" y="2508.7" width="36.5" height="22.6" rx="11.3" fill="#000" fill-opacity="0.20" filter="url(#b8)"/>
<rect x="113.9" y="2513.7" width="30.5" height="12.6" rx="6" fill="#000" fill-opacity="1.00" filter="url(#b3)"/>
<rect x="147.9" y="2511" width="36.5" height="20.3" rx="10.2" fill="#000" fill-opacity="0.20" filter="url(#b8)"/>
<rect x="150.9" y="2516" width="30.5" height="10.3" rx="5.2" fill="#000" fill-opacity="1.00" filter="url(#b3)"/>
<rect x="185" y="2511" width="33.4" height="20.3" rx="10.2" fill="#000" fill-opacity="0.20" filter="url(#b8)"/>
<rect x="188" y="2516" width="27.4" height="10.3" rx="5.2" fill="#000" fill-opacity="1.00" filter="url(#b3)"/>
<rect x="219.5" y="2511" width="25.2" height="18.5" rx="9.2" fill="#000" fill-opacity="0.15" filter="url(#b8)"/>
<rect x="222.5" y="2516" width="19.2" height="8.5" rx="4.2" fill="#000" fill-opacity="1.00" filter="url(#b3)"/>
<rect x="238" y="2515" width="18" height="7" rx="3.5" fill="#000" fill-opacity="0.25" filter="url(#b4)"/>
<rect x="102.4" y="2508.8" width="173" height="25.8" stroke="#000" stroke-width="1.9" fill="none"/>
<text x="96" y="2492.6" font-size="26" text-anchor="end">AHR</text>
<text x="97.5" y="2530" font-size="26" text-anchor="end">β-actin</text>
<line x1="277" y1="2494.5" x2="288" y2="2494.5" stroke="#000" stroke-width="2"/>
<line x1="277" y1="2527" x2="288" y2="2527" stroke="#000" stroke-width="2"/>
<text x="288.5" y="2502" font-size="18" font-weight="bold">100 kDa</text>
<text x="288.5" y="2533" font-size="18" font-weight="bold">40 kDa</text>
<text x="105.5" y="2572" font-size="27" text-anchor="end">AHR OE</text>
<text x="109.5" y="2607.5" font-size="27" text-anchor="end">IDA</text>
<line x1="120.3" y1="2561.8" x2="128.3" y2="2561.8" stroke="#000" stroke-width="3"/>
<line x1="158.2" y1="2561.8" x2="166.2" y2="2561.8" stroke="#000" stroke-width="3"/>
<text x="204.2" y="2571" font-size="27" text-anchor="middle">+</text>
<text x="242.8" y="2571" font-size="27" text-anchor="middle">+</text>
<line x1="120.3" y1="2595.7" x2="128.3" y2="2595.7" stroke="#000" stroke-width="3"/>
<text x="162.2" y="2604.9" font-size="27" text-anchor="middle">+</text>
<line x1="200.2" y1="2595.7" x2="208.2" y2="2595.7" stroke="#000" stroke-width="3"/>
<text x="242.8" y="2604.9" font-size="27" text-anchor="middle">+</text>
<line x1="112.5" y1="2621" x2="276" y2="2621" stroke="#000" stroke-width="2"/>
<text x="190" y="2656" font-size="27" text-anchor="middle">HT1080 AHR KO</text>
<text x="355.7" y="2246.5" font-size="37" font-weight="bold" letter-spacing="0">r</text>
<rect x="456.5" y="2640.7" width="21" height="2.9" stroke="#000" stroke-width="2" fill="none"/>
<rect x="489.7" y="2388.3" width="21" height="255.3" stroke="#1a1acc" stroke-width="2" fill="none"/>
<rect x="522.2" y="2637.9" width="21" height="5.7" stroke="#22dd22" stroke-width="2" fill="none"/>
<rect x="554.6" y="2623.6" width="21" height="20" stroke="#e02020" stroke-width="2" fill="none"/>
<rect x="620.2" y="2640.7" width="21" height="2.9" stroke="#000" stroke-width="2" fill="none"/>
<rect x="653" y="2388.3" width="21" height="255.3" stroke="#1a1acc" stroke-width="2" fill="none"/>
<rect x="685.5" y="2636.5" width="21" height="7.1" stroke="#22dd22" stroke-width="2" fill="none"/>
<rect x="718.7" y="2405.5" width="21" height="238.1" stroke="#e02020" stroke-width="2" fill="none"/>
<rect x="783.5" y="2636.5" width="21" height="7.1" stroke="#000" stroke-width="2" fill="none"/>
<rect x="816.7" y="2375.5" width="21" height="268.1" stroke="#1a1acc" stroke-width="2" fill="none"/>
<rect x="849.2" y="2639.3" width="21" height="4.3" stroke="#22dd22" stroke-width="2" fill="none"/>
<rect x="882" y="2630.8" width="21" height="12.8" stroke="#e02020" stroke-width="2" fill="none"/>
<circle cx="461.1" cy="2642.5" r="4.3" fill="#000"/>
<circle cx="467" cy="2638" r="4.3" fill="#000"/>
<circle cx="472.9" cy="2641.7" r="4.3" fill="#000"/>
<line x1="467" y1="2637.9" x2="467" y2="2643.6" stroke="#000" stroke-width="2.3"/>
<line x1="461.2" y1="2637.9" x2="472.8" y2="2637.9" stroke="#000" stroke-width="2.3"/>
<line x1="461.2" y1="2643.6" x2="472.8" y2="2643.6" stroke="#000" stroke-width="2.3"/>
<circle cx="494.3" cy="2398.6" r="4.3" fill="#1a1acc"/>
<circle cx="500.2" cy="2372.1" r="4.3" fill="#1a1acc"/>
<circle cx="506.1" cy="2394.3" r="4.3" fill="#1a1acc"/>
<line x1="500.2" y1="2371.2" x2="500.2" y2="2405.5" stroke="#1a1acc" stroke-width="2.3"/>
<line x1="494.4" y1="2371.2" x2="506" y2="2371.2" stroke="#1a1acc" stroke-width="2.3"/>
<line x1="494.4" y1="2405.5" x2="506" y2="2405.5" stroke="#1a1acc" stroke-width="2.3"/>
<circle cx="526.8" cy="2640.5" r="4.3" fill="#22dd22"/>
<circle cx="532.7" cy="2633.8" r="4.3" fill="#22dd22"/>
<circle cx="538.6" cy="2639.4" r="4.3" fill="#22dd22"/>
<line x1="532.7" y1="2633.6" x2="532.7" y2="2642.2" stroke="#22dd22" stroke-width="2.3"/>
<line x1="526.9" y1="2633.6" x2="538.5" y2="2633.6" stroke="#22dd22" stroke-width="2.3"/>
<line x1="526.9" y1="2642.2" x2="538.5" y2="2642.2" stroke="#22dd22" stroke-width="2.3"/>
<circle cx="559.2" cy="2628.8" r="4.3" fill="#e02020"/>
<circle cx="565.1" cy="2615.5" r="4.3" fill="#e02020"/>
<circle cx="571" cy="2626.6" r="4.3" fill="#e02020"/>
<line x1="565.1" y1="2615.1" x2="565.1" y2="2632.2" stroke="#e02020" stroke-width="2.3"/>
<line x1="559.3" y1="2615.1" x2="570.9" y2="2615.1" stroke="#e02020" stroke-width="2.3"/>
<line x1="559.3" y1="2632.2" x2="570.9" y2="2632.2" stroke="#e02020" stroke-width="2.3"/>
<circle cx="624.8" cy="2642.5" r="4.3" fill="#000"/>
<circle cx="630.7" cy="2638" r="4.3" fill="#000"/>
<circle cx="636.6" cy="2641.7" r="4.3" fill="#000"/>
<line x1="630.7" y1="2637.9" x2="630.7" y2="2643.6" stroke="#000" stroke-width="2.3"/>
<line x1="624.9" y1="2637.9" x2="636.5" y2="2637.9" stroke="#000" stroke-width="2.3"/>
<line x1="624.9" y1="2643.6" x2="636.5" y2="2643.6" stroke="#000" stroke-width="2.3"/>
<circle cx="657.6" cy="2398.6" r="4.3" fill="#1a1acc"/>
<circle cx="663.5" cy="2372.1" r="4.3" fill="#1a1acc"/>
<circle cx="669.4" cy="2394.3" r="4.3" fill="#1a1acc"/>
<line x1="663.5" y1="2371.2" x2="663.5" y2="2405.5" stroke="#1a1acc" stroke-width="2.3"/>
<line x1="657.7" y1="2371.2" x2="669.3" y2="2371.2" stroke="#1a1acc" stroke-width="2.3"/>
<line x1="657.7" y1="2405.5" x2="669.3" y2="2405.5" stroke="#1a1acc" stroke-width="2.3"/>
<circle cx="690.1" cy="2639" r="4.3" fill="#22dd22"/>
<circle cx="696" cy="2632.4" r="4.3" fill="#22dd22"/>
<circle cx="701.9" cy="2638" r="4.3" fill="#22dd22"/>
<line x1="696" y1="2632.2" x2="696" y2="2640.7" stroke="#22dd22" stroke-width="2.3"/>
<line x1="690.2" y1="2632.2" x2="701.8" y2="2632.2" stroke="#22dd22" stroke-width="2.3"/>
<line x1="690.2" y1="2640.7" x2="701.8" y2="2640.7" stroke="#22dd22" stroke-width="2.3"/>
<circle cx="723.3" cy="2412.3" r="4.3" fill="#e02020"/>
<circle cx="729.2" cy="2394.6" r="4.3" fill="#e02020"/>
<circle cx="735.1" cy="2409.5" r="4.3" fill="#e02020"/>
<line x1="729.2" y1="2394" x2="729.2" y2="2416.9" stroke="#e02020" stroke-width="2.3"/>
<line x1="723.4" y1="2394" x2="735" y2="2394" stroke="#e02020" stroke-width="2.3"/>
<line x1="723.4" y1="2416.9" x2="735" y2="2416.9" stroke="#e02020" stroke-width="2.3"/>
<circle cx="788.1" cy="2639" r="4.3" fill="#000"/>
<circle cx="794" cy="2632.4" r="4.3" fill="#000"/>
<circle cx="799.9" cy="2638" r="4.3" fill="#000"/>
<line x1="794" y1="2632.2" x2="794" y2="2640.7" stroke="#000" stroke-width="2.3"/>
<line x1="788.2" y1="2632.2" x2="799.8" y2="2632.2" stroke="#000" stroke-width="2.3"/>
<line x1="788.2" y1="2640.7" x2="799.8" y2="2640.7" stroke="#000" stroke-width="2.3"/>
<circle cx="821.3" cy="2378.1" r="4.3" fill="#1a1acc"/>
<circle cx="827.2" cy="2371.4" r="4.3" fill="#1a1acc"/>
<circle cx="833.1" cy="2377" r="4.3" fill="#1a1acc"/>
<line x1="827.2" y1="2371.2" x2="827.2" y2="2379.8" stroke="#1a1acc" stroke-width="2.3"/>
<line x1="821.4" y1="2371.2" x2="833" y2="2371.2" stroke="#1a1acc" stroke-width="2.3"/>
<line x1="821.4" y1="2379.8" x2="833" y2="2379.8" stroke="#1a1acc" stroke-width="2.3"/>
<circle cx="853.8" cy="2641" r="4.3" fill="#22dd22"/>
<circle cx="859.7" cy="2636.6" r="4.3" fill="#22dd22"/>
<circle cx="865.6" cy="2640.3" r="4.3" fill="#22dd22"/>
<line x1="859.7" y1="2636.5" x2="859.7" y2="2642.2" stroke="#22dd22" stroke-width="2.3"/>
<line x1="853.9" y1="2636.5" x2="865.5" y2="2636.5" stroke="#22dd22" stroke-width="2.3"/>
<line x1="853.9" y1="2642.2" x2="865.5" y2="2642.2" stroke="#22dd22" stroke-width="2.3"/>
<circle cx="886.6" cy="2638.5" r="4.3" fill="#e02020"/>
<circle cx="892.5" cy="2618.6" r="4.3" fill="#e02020"/>
<circle cx="898.4" cy="2635.3" r="4.3" fill="#e02020"/>
<line x1="892.5" y1="2617.9" x2="892.5" y2="2643.6" stroke="#e02020" stroke-width="2.3"/>
<line x1="886.7" y1="2617.9" x2="898.3" y2="2617.9" stroke="#e02020" stroke-width="2.3"/>
<line x1="886.7" y1="2643.6" x2="898.3" y2="2643.6" stroke="#e02020" stroke-width="2.3"/>
<line x1="445.4" y1="2357.6" x2="445.4" y2="2645.1" stroke="#000" stroke-width="3"/>
<line x1="433.4" y1="2643.6" x2="445.4" y2="2643.6" stroke="#000" stroke-width="3"/>
<text x="429" y="2655.2" font-size="27" text-anchor="end" letter-spacing="0.1">0</text>
<line x1="433.4" y1="2572.3" x2="445.4" y2="2572.3" stroke="#000" stroke-width="3"/>
<text x="429" y="2583.9" font-size="27" text-anchor="end" letter-spacing="0.1">25</text>
<line x1="433.4" y1="2501" x2="445.4" y2="2501" stroke="#000" stroke-width="3"/>
<text x="429" y="2512.6" font-size="27" text-anchor="end" letter-spacing="0.1">50</text>
<line x1="433.4" y1="2429.7" x2="445.4" y2="2429.7" stroke="#000" stroke-width="3"/>
<text x="429" y="2441.3" font-size="27" text-anchor="end" letter-spacing="0.1">75</text>
<line x1="433.4" y1="2358.4" x2="445.4" y2="2358.4" stroke="#000" stroke-width="3"/>
<text x="429" y="2370" font-size="27" text-anchor="end" letter-spacing="0.1">100</text>
<line x1="433.5" y1="2643.6" x2="914.2" y2="2643.6" stroke="#000" stroke-width="3"/>
<text x="499.3" y="2683.6" font-size="27" text-anchor="middle">WT</text>
<text x="664.7" y="2683.6" font-size="27" text-anchor="middle">AHR KO</text>
<text x="844" y="2683.6" font-size="27" text-anchor="middle">AHR KO+AHR OE</text>
<text x="386" y="2491.9" font-size="27" text-anchor="middle" textLength="275" transform="rotate(-90 386 2491.9)">Sytox Green cells (%)</text>
<rect x="489.3" y="2234.7" width="13.4" height="13.4" stroke="#000" stroke-width="2.6" fill="none"/>
<text x="514" y="2248.9" font-size="26">DMSO</text>
<rect x="489.3" y="2262.6" width="13.4" height="13.4" stroke="#1a1acc" stroke-width="2.6" fill="none"/>
<text x="514" y="2276.8" font-size="26">RSL3</text>
<rect x="622.9" y="2234.7" width="13.4" height="13.4" stroke="#22dd22" stroke-width="2.6" fill="none"/>
<text x="647.6" y="2248.9" font-size="26">IDA</text>
<rect x="622.9" y="2263.3" width="13.4" height="13.4" stroke="#e02020" stroke-width="2.6" fill="none"/>
<text x="647.6" y="2277.5" font-size="26">IDA+RSL3</text>
<line x1="736.8" y1="2321.2" x2="908.5" y2="2321.2" stroke="#000" stroke-width="2.5"/>
<text x="749" y="2312" font-size="27">p=1.72x10<tspan font-size="15.1" dy="-10">-5</tspan></text>
<line x1="570.8" y1="2356.6" x2="736.8" y2="2356.6" stroke="#000" stroke-width="2.5"/>
<text x="584.2" y="2348" font-size="27">p=1.14x10<tspan font-size="15.1" dy="-10">-5</tspan></text>
<text x="967.8" y="2246" font-size="37" font-weight="bold" letter-spacing="0">s</text>
<rect x="1052.4" y="2602" width="21.4" height="40.2" stroke="#000" stroke-width="2" fill="none"/>
<rect x="1086.3" y="2619.2" width="21.4" height="23" stroke="#000" stroke-width="2" fill="none"/>
<rect x="1120.3" y="2461.2" width="21.4" height="181" stroke="#000" stroke-width="2" fill="none"/>
<rect x="1153.4" y="2627.8" width="21.4" height="14.4" stroke="#000" stroke-width="2" fill="none"/>
<rect x="1208.8" y="2627.8" width="21.4" height="14.4" stroke="#1a1acc" stroke-width="2" fill="none"/>
<rect x="1242.7" y="2623.8" width="21.4" height="18.4" stroke="#1a1acc" stroke-width="2" fill="none"/>
<rect x="1276.3" y="2452.6" width="21.4" height="189.6" stroke="#1a1acc" stroke-width="2" fill="none"/>
<rect x="1309.4" y="2432.5" width="21.4" height="209.7" stroke="#1a1acc" stroke-width="2" fill="none"/>
<rect x="1365.5" y="2627.8" width="21.4" height="14.4" stroke="#e0307a" stroke-width="2" fill="none"/>
<rect x="1399.3" y="2616.3" width="21.4" height="25.9" stroke="#e0307a" stroke-width="2" fill="none"/>
<rect x="1433.3" y="2449.7" width="21.4" height="192.5" stroke="#e0307a" stroke-width="2" fill="none"/>
<rect x="1466.5" y="2633.6" width="21.4" height="8.6" stroke="#e0307a" stroke-width="2" fill="none"/>
<circle cx="1057.1" cy="2605.4" r="4" fill="#000"/>
<circle cx="1063.1" cy="2596.5" r="4" fill="#000"/>
<circle cx="1069.1" cy="2604" r="4" fill="#000"/>
<line x1="1063.1" y1="2596.2" x2="1063.1" y2="2607.7" stroke="#000" stroke-width="2.3"/>
<line x1="1057.2" y1="2596.2" x2="1069" y2="2596.2" stroke="#000" stroke-width="2.3"/>
<line x1="1057.2" y1="2607.7" x2="1069" y2="2607.7" stroke="#000" stroke-width="2.3"/>
<circle cx="1091" cy="2631.3" r="4" fill="#000"/>
<circle cx="1097" cy="2600.1" r="4" fill="#000"/>
<circle cx="1103" cy="2626.3" r="4" fill="#000"/>
<line x1="1097" y1="2599.1" x2="1097" y2="2639.3" stroke="#000" stroke-width="2.3"/>
<line x1="1091.1" y1="2599.1" x2="1102.9" y2="2599.1" stroke="#000" stroke-width="2.3"/>
<line x1="1091.1" y1="2639.3" x2="1102.9" y2="2639.3" stroke="#000" stroke-width="2.3"/>
<circle cx="1125" cy="2480.2" r="4" fill="#000"/>
<circle cx="1131" cy="2431.2" r="4" fill="#000"/>
<circle cx="1137" cy="2472.3" r="4" fill="#000"/>
<line x1="1131" y1="2429.6" x2="1131" y2="2492.8" stroke="#000" stroke-width="2.3"/>
<line x1="1125.1" y1="2429.6" x2="1136.9" y2="2429.6" stroke="#000" stroke-width="2.3"/>
<line x1="1125.1" y1="2492.8" x2="1136.9" y2="2492.8" stroke="#000" stroke-width="2.3"/>
<circle cx="1158.1" cy="2636.5" r="4" fill="#000"/>
<circle cx="1164.1" cy="2614.2" r="4" fill="#000"/>
<circle cx="1170.1" cy="2632.9" r="4" fill="#000"/>
<line x1="1164.1" y1="2613.5" x2="1164.1" y2="2642.2" stroke="#000" stroke-width="2.3"/>
<line x1="1158.2" y1="2613.5" x2="1170" y2="2613.5" stroke="#000" stroke-width="2.3"/>
<line x1="1158.2" y1="2642.2" x2="1170" y2="2642.2" stroke="#000" stroke-width="2.3"/>
<circle cx="1213.5" cy="2630.2" r="4" fill="#1a1acc"/>
<circle cx="1219.5" cy="2624" r="4" fill="#1a1acc"/>
<circle cx="1225.5" cy="2629.2" r="4" fill="#1a1acc"/>
<line x1="1219.5" y1="2623.8" x2="1219.5" y2="2631.9" stroke="#1a1acc" stroke-width="2.3"/>
<line x1="1213.6" y1="2623.8" x2="1225.4" y2="2623.8" stroke="#1a1acc" stroke-width="2.3"/>
<line x1="1213.6" y1="2631.9" x2="1225.4" y2="2631.9" stroke="#1a1acc" stroke-width="2.3"/>
<circle cx="1247.4" cy="2625.2" r="4" fill="#1a1acc"/>
<circle cx="1253.4" cy="2621.6" r="4" fill="#1a1acc"/>
<circle cx="1259.4" cy="2624.6" r="4" fill="#1a1acc"/>
<line x1="1253.4" y1="2621.5" x2="1253.4" y2="2626.1" stroke="#1a1acc" stroke-width="2.3"/>
<line x1="1247.5" y1="2621.5" x2="1259.3" y2="2621.5" stroke="#1a1acc" stroke-width="2.3"/>
<line x1="1247.5" y1="2626.1" x2="1259.3" y2="2626.1" stroke="#1a1acc" stroke-width="2.3"/>
<circle cx="1281" cy="2468.1" r="4" fill="#1a1acc"/>
<circle cx="1287" cy="2428" r="4" fill="#1a1acc"/>
<circle cx="1293" cy="2461.6" r="4" fill="#1a1acc"/>
<line x1="1287" y1="2426.7" x2="1287" y2="2478.4" stroke="#1a1acc" stroke-width="2.3"/>
<line x1="1281.1" y1="2426.7" x2="1292.9" y2="2426.7" stroke="#1a1acc" stroke-width="2.3"/>
<line x1="1281.1" y1="2478.4" x2="1292.9" y2="2478.4" stroke="#1a1acc" stroke-width="2.3"/>
<circle cx="1314.1" cy="2448" r="4" fill="#1a1acc"/>
<circle cx="1320.1" cy="2407.9" r="4" fill="#1a1acc"/>
<circle cx="1326.1" cy="2441.5" r="4" fill="#1a1acc"/>
<line x1="1320.1" y1="2406.6" x2="1320.1" y2="2458.3" stroke="#1a1acc" stroke-width="2.3"/>
<line x1="1314.2" y1="2406.6" x2="1326" y2="2406.6" stroke="#1a1acc" stroke-width="2.3"/>
<line x1="1314.2" y1="2458.3" x2="1326" y2="2458.3" stroke="#1a1acc" stroke-width="2.3"/>
<circle cx="1370.2" cy="2629.2" r="4" fill="#e0307a"/>
<circle cx="1376.2" cy="2625.7" r="4" fill="#e0307a"/>
<circle cx="1382.2" cy="2628.6" r="4" fill="#e0307a"/>
<line x1="1376.2" y1="2625.5" x2="1376.2" y2="2630.1" stroke="#e0307a" stroke-width="2.3"/>
<line x1="1370.3" y1="2625.5" x2="1382.1" y2="2625.5" stroke="#e0307a" stroke-width="2.3"/>
<line x1="1370.3" y1="2630.1" x2="1382.1" y2="2630.1" stroke="#e0307a" stroke-width="2.3"/>
<circle cx="1404" cy="2625" r="4" fill="#e0307a"/>
<circle cx="1410" cy="2602.7" r="4" fill="#e0307a"/>
<circle cx="1416" cy="2621.4" r="4" fill="#e0307a"/>
<line x1="1410" y1="2602" x2="1410" y2="2630.7" stroke="#e0307a" stroke-width="2.3"/>
<line x1="1404.1" y1="2602" x2="1415.9" y2="2602" stroke="#e0307a" stroke-width="2.3"/>
<line x1="1404.1" y1="2630.7" x2="1415.9" y2="2630.7" stroke="#e0307a" stroke-width="2.3"/>
<circle cx="1438" cy="2464.2" r="4" fill="#e0307a"/>
<circle cx="1444" cy="2426.8" r="4" fill="#e0307a"/>
<circle cx="1450" cy="2458.2" r="4" fill="#e0307a"/>
<line x1="1444" y1="2425.6" x2="1444" y2="2473.8" stroke="#e0307a" stroke-width="2.3"/>
<line x1="1438.1" y1="2425.6" x2="1449.9" y2="2425.6" stroke="#e0307a" stroke-width="2.3"/>
<line x1="1438.1" y1="2473.8" x2="1449.9" y2="2473.8" stroke="#e0307a" stroke-width="2.3"/>
<circle cx="1471.2" cy="2638.8" r="4" fill="#e0307a"/>
<circle cx="1477.2" cy="2625.4" r="4" fill="#e0307a"/>
<circle cx="1483.2" cy="2636.6" r="4" fill="#e0307a"/>
<line x1="1477.2" y1="2625" x2="1477.2" y2="2642.2" stroke="#e0307a" stroke-width="2.3"/>
<line x1="1471.3" y1="2625" x2="1483.1" y2="2625" stroke="#e0307a" stroke-width="2.3"/>
<line x1="1471.3" y1="2642.2" x2="1483.1" y2="2642.2" stroke="#e0307a" stroke-width="2.3"/>
<line x1="1041.7" y1="2353.9" x2="1041.7" y2="2643.7" stroke="#000" stroke-width="3"/>
<line x1="1029.5" y1="2642.2" x2="1041.7" y2="2642.2" stroke="#000" stroke-width="3"/>
<text x="1025.9" y="2651.1" font-size="27" text-anchor="end" letter-spacing="0.1">0</text>
<line x1="1029.5" y1="2584.7" x2="1041.7" y2="2584.7" stroke="#000" stroke-width="3"/>
<text x="1025.9" y="2593.6" font-size="27" text-anchor="end" letter-spacing="0.1">10</text>
<line x1="1029.5" y1="2527.3" x2="1041.7" y2="2527.3" stroke="#000" stroke-width="3"/>
<text x="1025.9" y="2536.2" font-size="27" text-anchor="end" letter-spacing="0.1">20</text>
<line x1="1029.5" y1="2469.8" x2="1041.7" y2="2469.8" stroke="#000" stroke-width="3"/>
<text x="1025.9" y="2478.7" font-size="27" text-anchor="end" letter-spacing="0.1">30</text>
<line x1="1029.5" y1="2412.4" x2="1041.7" y2="2412.4" stroke="#000" stroke-width="3"/>
<text x="1025.9" y="2421.3" font-size="27" text-anchor="end" letter-spacing="0.1">40</text>
<line x1="1029.5" y1="2354.9" x2="1041.7" y2="2354.9" stroke="#000" stroke-width="3"/>
<text x="1025.9" y="2363.8" font-size="27" text-anchor="end" letter-spacing="0.1">50</text>
<line x1="1028.5" y1="2642.2" x2="1500.4" y2="2642.2" stroke="#000" stroke-width="3"/>
<text x="982" y="2495" font-size="27" text-anchor="middle" textLength="276" transform="rotate(-90 982 2495)">Lipid peroxidation (%)</text>
<rect x="1064.3" y="2259.1" width="13.9" height="13.9" stroke="#000" stroke-width="2.6" fill="none"/>
<text x="1091.5" y="2273.6" font-size="26.5">WT</text>
<rect x="1064.3" y="2290.3" width="13.9" height="13.9" stroke="#1a1acc" stroke-width="2.6" fill="none"/>
<text x="1091.5" y="2304.8" font-size="26.5">AHR KO</text>
<rect x="1064.3" y="2323.3" width="13.9" height="13.9" stroke="#e0307a" stroke-width="2.6" fill="none"/>
<text x="1091.5" y="2337.8" font-size="26.5">AHR KO+AHR</text>
<line x1="1174.9" y1="2393" x2="1319" y2="2393" stroke="#000" stroke-width="2.5"/>
<text x="1191.6" y="2385" font-size="27">p=0.0003</text>
<line x1="1323.7" y1="2394.2" x2="1479" y2="2394.2" stroke="#000" stroke-width="2.5"/>
<text x="1353.3" y="2385" font-size="27">p=0.0002</text>
<text x="1037" y="2676.9" font-size="27" text-anchor="end">RSL3</text>
<text x="1037" y="2714.4" font-size="27" text-anchor="end">IDA</text>
<line x1="1059.1" y1="2667.2" x2="1067.1" y2="2667.2" stroke="#000" stroke-width="3"/>
<line x1="1093" y1="2667.2" x2="1101" y2="2667.2" stroke="#000" stroke-width="3"/>
<text x="1131" y="2676.4" font-size="27" text-anchor="middle">+</text>
<text x="1164.1" y="2676.4" font-size="27" text-anchor="middle">+</text>
<line x1="1215.5" y1="2667.2" x2="1223.5" y2="2667.2" stroke="#000" stroke-width="3"/>
<line x1="1249.4" y1="2667.2" x2="1257.4" y2="2667.2" stroke="#000" stroke-width="3"/>
<text x="1287" y="2676.4" font-size="27" text-anchor="middle">+</text>
<text x="1320.1" y="2676.4" font-size="27" text-anchor="middle">+</text>
<line x1="1372.2" y1="2667.2" x2="1380.2" y2="2667.2" stroke="#000" stroke-width="3"/>
<line x1="1406" y1="2667.2" x2="1414" y2="2667.2" stroke="#000" stroke-width="3"/>
<text x="1444" y="2676.4" font-size="27" text-anchor="middle">+</text>
<text x="1477.2" y="2676.4" font-size="27" text-anchor="middle">+</text>
<line x1="1059.1" y1="2704.7" x2="1067.1" y2="2704.7" stroke="#000" stroke-width="3"/>
<text x="1097" y="2713.9" font-size="27" text-anchor="middle">+</text>
<line x1="1127" y1="2704.7" x2="1135" y2="2704.7" stroke="#000" stroke-width="3"/>
<text x="1164.1" y="2713.9" font-size="27" text-anchor="middle">+</text>
<line x1="1215.5" y1="2704.7" x2="1223.5" y2="2704.7" stroke="#000" stroke-width="3"/>
<text x="1253.4" y="2713.9" font-size="27" text-anchor="middle">+</text>
<line x1="1283" y1="2704.7" x2="1291" y2="2704.7" stroke="#000" stroke-width="3"/>
<text x="1320.1" y="2713.9" font-size="27" text-anchor="middle">+</text>
<line x1="1372.2" y1="2704.7" x2="1380.2" y2="2704.7" stroke="#000" stroke-width="3"/>
<text x="1410" y="2713.9" font-size="27" text-anchor="middle">+</text>
<line x1="1440" y1="2704.7" x2="1448" y2="2704.7" stroke="#000" stroke-width="3"/>
<text x="1477.2" y="2713.9" font-size="27" text-anchor="middle">+</text>
<text x="1499.2" y="2252.5" font-size="37" font-weight="bold" letter-spacing="0">t</text>
<path d="M1575.9,2586.7L1579.4,2579.4L1582.9,2572.3L1586.4,2565.5L1589.8,2559L1593.3,2552.8L1596.8,2546.8L1600.3,2541L1603.8,2535.5L1607.3,2530.2L1610.8,2525.1L1614.3,2520.2L1617.7,2515.5L1621.2,2511L1624.7,2506.7L1628.2,2502.6L1631.7,2498.6L1635.2,2494.7L1638.7,2491.1L1642.1,2487.5L1645.6,2484.2L1649.1,2480.9L1652.6,2477.8L1656.1,2474.8L1659.6,2471.9L1663.1,2469.2L1666.6,2466.5L1670,2464L1673.5,2461.5L1677,2459.2L1680.5,2456.9L1684,2454.8L1687.5,2452.7L1691,2450.7L1694.5,2448.8L1697.9,2447L1701.4,2445.2L1704.9,2443.5L1708.4,2441.9L1711.9,2440.3L1715.4,2438.8L1718.9,2437.4L1722.3,2436L1725.8,2434.7L1729.3,2433.4L1732.8,2432.2L1736.3,2431L1739.8,2429.9L1743.3,2428.8L1746.8,2427.8L1750.2,2426.8L1753.7,2425.8L1757.2,2424.9L1760.7,2424.1L1764.2,2423.2L1767.7,2422.4L1771.2,2421.6L1774.6,2420.9L1778.1,2420.2L1781.6,2419.5L1785.1,2418.8L1788.6,2418.2L1792.1,2417.6L1795.6,2417L1799.1,2416.4L1802.5,2415.9L1806,2415.4L1809.5,2414.9L1813,2414.4L1816.5,2413.9L1820,2413.5L1823.5,2413.1L1826.9,2412.7L1830.4,2412.3L1833.9,2411.9L1837.4,2411.5L1840.9,2411.2L1844.4,2410.9L1847.9,2410.5L1851.4,2410.2L1854.8,2410" stroke="#000" stroke-width="2.6" fill="none"/>
<path d="M1575.9,2614.4L1579.4,2608.2L1582.9,2602.1L1586.4,2596.2L1589.8,2590.4L1593.3,2584.9L1596.8,2579.5L1600.3,2574.2L1603.8,2569.1L1607.3,2564.2L1610.8,2559.4L1614.3,2554.7L1617.7,2550.2L1621.2,2545.8L1624.7,2541.5L1628.2,2537.4L1631.7,2533.3L1635.2,2529.4L1638.7,2525.6L1642.1,2521.9L1645.6,2518.3L1649.1,2514.9L1652.6,2511.5L1656.1,2508.2L1659.6,2505L1663.1,2501.9L1666.6,2498.9L1670,2496L1673.5,2493.2L1677,2490.4L1680.5,2487.7L1684,2485.1L1687.5,2482.6L1691,2480.2L1694.5,2477.8L1697.9,2475.5L1701.4,2473.2L1704.9,2471.1L1708.4,2468.9L1711.9,2466.9L1715.4,2464.9L1718.9,2463L1722.3,2461.1L1725.8,2459.3L1729.3,2457.5L1732.8,2455.8L1736.3,2454.1L1739.8,2452.5L1743.3,2450.9L1746.8,2449.4L1750.2,2447.9L1753.7,2446.4L1757.2,2445L1760.7,2443.7L1764.2,2442.3L1767.7,2441.1L1771.2,2439.8L1774.6,2438.6L1778.1,2437.4L1781.6,2436.3L1785.1,2435.2L1788.6,2434.1L1792.1,2433L1795.6,2432L1799.1,2431L1802.5,2430.1L1806,2429.2L1809.5,2428.3L1813,2427.4L1816.5,2426.5L1820,2425.7L1823.5,2424.9L1826.9,2424.1L1830.4,2423.4L1833.9,2422.6L1837.4,2421.9L1840.9,2421.2L1844.4,2420.5L1847.9,2419.9L1851.4,2419.3L1854.8,2418.6" stroke="#a020f0" stroke-width="2.6" fill="none"/>
<path d="M1575.9,2624.5 L1697.2,2624.5 L1702,2632 L1854.8,2632" stroke="#e02020" stroke-width="2.6" fill="none"/>
<line x1="1575.9" y1="2614.4" x2="1575.9" y2="2629.5" stroke="#e02020" stroke-width="2.4"/>
<line x1="1570.9" y1="2614.4" x2="1580.9" y2="2614.4" stroke="#e02020" stroke-width="2.4"/>
<line x1="1570.9" y1="2629.5" x2="1580.9" y2="2629.5" stroke="#e02020" stroke-width="2.4"/>
<circle cx="1575.9" cy="2622" r="4.8" stroke="#e02020" stroke-width="2.3" fill="none"/>
<line x1="1660.8" y1="2622" x2="1660.8" y2="2632" stroke="#e02020" stroke-width="2.4"/>
<line x1="1655.8" y1="2622" x2="1665.8" y2="2622" stroke="#e02020" stroke-width="2.4"/>
<line x1="1655.8" y1="2632" x2="1665.8" y2="2632" stroke="#e02020" stroke-width="2.4"/>
<circle cx="1660.8" cy="2627" r="4.8" stroke="#e02020" stroke-width="2.3" fill="none"/>
<line x1="1697.2" y1="2619.4" x2="1697.2" y2="2629.5" stroke="#e02020" stroke-width="2.4"/>
<line x1="1692.2" y1="2619.4" x2="1702.2" y2="2619.4" stroke="#e02020" stroke-width="2.4"/>
<line x1="1692.2" y1="2629.5" x2="1702.2" y2="2629.5" stroke="#e02020" stroke-width="2.4"/>
<circle cx="1697.2" cy="2624.5" r="4.8" stroke="#e02020" stroke-width="2.3" fill="none"/>
<circle cx="1733.6" cy="2637.1" r="4.8" stroke="#e02020" stroke-width="2.3" fill="none"/>
<line x1="1782.1" y1="2622" x2="1782.1" y2="2642.1" stroke="#e02020" stroke-width="2.4"/>
<line x1="1777.1" y1="2622" x2="1787.1" y2="2622" stroke="#e02020" stroke-width="2.4"/>
<line x1="1777.1" y1="2642.1" x2="1787.1" y2="2642.1" stroke="#e02020" stroke-width="2.4"/>
<circle cx="1782.1" cy="2632" r="4.8" stroke="#e02020" stroke-width="2.3" fill="none"/>
<line x1="1818.5" y1="2622" x2="1818.5" y2="2642.1" stroke="#e02020" stroke-width="2.4"/>
<line x1="1813.5" y1="2622" x2="1823.5" y2="2622" stroke="#e02020" stroke-width="2.4"/>
<line x1="1813.5" y1="2642.1" x2="1823.5" y2="2642.1" stroke="#e02020" stroke-width="2.4"/>
<circle cx="1818.5" cy="2632" r="4.8" stroke="#e02020" stroke-width="2.3" fill="none"/>
<line x1="1854.8" y1="2618.2" x2="1854.8" y2="2643.4" stroke="#e02020" stroke-width="2.4"/>
<line x1="1849.8" y1="2618.2" x2="1859.8" y2="2618.2" stroke="#e02020" stroke-width="2.4"/>
<line x1="1849.8" y1="2643.4" x2="1859.8" y2="2643.4" stroke="#e02020" stroke-width="2.4"/>
<circle cx="1854.8" cy="2630.8" r="4.8" stroke="#e02020" stroke-width="2.3" fill="none"/>
<circle cx="1575.9" cy="2614.4" r="4.8" stroke="#a020f0" stroke-width="2.3" fill="none"/>
<line x1="1660.8" y1="2486" x2="1660.8" y2="2511.2" stroke="#a020f0" stroke-width="2.4"/>
<line x1="1655.8" y1="2486" x2="1665.8" y2="2486" stroke="#a020f0" stroke-width="2.4"/>
<line x1="1655.8" y1="2511.2" x2="1665.8" y2="2511.2" stroke="#a020f0" stroke-width="2.4"/>
<circle cx="1660.8" cy="2498.6" r="4.8" stroke="#a020f0" stroke-width="2.3" fill="none"/>
<line x1="1697.2" y1="2493.6" x2="1697.2" y2="2508.7" stroke="#a020f0" stroke-width="2.4"/>
<line x1="1692.2" y1="2493.6" x2="1702.2" y2="2493.6" stroke="#a020f0" stroke-width="2.4"/>
<line x1="1692.2" y1="2508.7" x2="1702.2" y2="2508.7" stroke="#a020f0" stroke-width="2.4"/>
<circle cx="1697.2" cy="2501.1" r="4.8" stroke="#a020f0" stroke-width="2.3" fill="none"/>
<line x1="1733.6" y1="2438.2" x2="1733.6" y2="2458.3" stroke="#a020f0" stroke-width="2.4"/>
<line x1="1728.6" y1="2438.2" x2="1738.6" y2="2438.2" stroke="#a020f0" stroke-width="2.4"/>
<line x1="1728.6" y1="2458.3" x2="1738.6" y2="2458.3" stroke="#a020f0" stroke-width="2.4"/>
<circle cx="1733.6" cy="2448.3" r="4.8" stroke="#a020f0" stroke-width="2.3" fill="none"/>
<line x1="1782.1" y1="2433.1" x2="1782.1" y2="2448.3" stroke="#a020f0" stroke-width="2.4"/>
<line x1="1777.1" y1="2433.1" x2="1787.1" y2="2433.1" stroke="#a020f0" stroke-width="2.4"/>
<line x1="1777.1" y1="2448.3" x2="1787.1" y2="2448.3" stroke="#a020f0" stroke-width="2.4"/>
<circle cx="1782.1" cy="2440.7" r="4.8" stroke="#a020f0" stroke-width="2.3" fill="none"/>
<line x1="1818.5" y1="2425.6" x2="1818.5" y2="2440.7" stroke="#a020f0" stroke-width="2.4"/>
<line x1="1813.5" y1="2425.6" x2="1823.5" y2="2425.6" stroke="#a020f0" stroke-width="2.4"/>
<line x1="1813.5" y1="2440.7" x2="1823.5" y2="2440.7" stroke="#a020f0" stroke-width="2.4"/>
<circle cx="1818.5" cy="2433.1" r="4.8" stroke="#a020f0" stroke-width="2.3" fill="none"/>
<circle cx="1854.8" cy="2418" r="4.8" stroke="#a020f0" stroke-width="2.3" fill="none"/>
<line x1="1575.9" y1="2576.6" x2="1575.9" y2="2596.8" stroke="#000" stroke-width="2.4"/>
<line x1="1570.9" y1="2576.6" x2="1580.9" y2="2576.6" stroke="#000" stroke-width="2.4"/>
<line x1="1570.9" y1="2596.8" x2="1580.9" y2="2596.8" stroke="#000" stroke-width="2.4"/>
<circle cx="1575.9" cy="2586.7" r="4.8" stroke="#000" stroke-width="2.3" fill="none"/>
<line x1="1660.8" y1="2458.3" x2="1660.8" y2="2483.5" stroke="#000" stroke-width="2.4"/>
<line x1="1655.8" y1="2458.3" x2="1665.8" y2="2458.3" stroke="#000" stroke-width="2.4"/>
<line x1="1655.8" y1="2483.5" x2="1665.8" y2="2483.5" stroke="#000" stroke-width="2.4"/>
<circle cx="1660.8" cy="2470.9" r="4.8" stroke="#000" stroke-width="2.3" fill="none"/>
<line x1="1697.2" y1="2445.7" x2="1697.2" y2="2465.9" stroke="#000" stroke-width="2.4"/>
<line x1="1692.2" y1="2445.7" x2="1702.2" y2="2445.7" stroke="#000" stroke-width="2.4"/>
<line x1="1692.2" y1="2465.9" x2="1702.2" y2="2465.9" stroke="#000" stroke-width="2.4"/>
<circle cx="1697.2" cy="2455.8" r="4.8" stroke="#000" stroke-width="2.3" fill="none"/>
<line x1="1733.6" y1="2428.1" x2="1733.6" y2="2448.3" stroke="#000" stroke-width="2.4"/>
<line x1="1728.6" y1="2428.1" x2="1738.6" y2="2428.1" stroke="#000" stroke-width="2.4"/>
<line x1="1728.6" y1="2448.3" x2="1738.6" y2="2448.3" stroke="#000" stroke-width="2.4"/>
<circle cx="1733.6" cy="2438.2" r="4.8" stroke="#000" stroke-width="2.3" fill="none"/>
<line x1="1782.1" y1="2420.6" x2="1782.1" y2="2440.7" stroke="#000" stroke-width="2.4"/>
<line x1="1777.1" y1="2420.6" x2="1787.1" y2="2420.6" stroke="#000" stroke-width="2.4"/>
<line x1="1777.1" y1="2440.7" x2="1787.1" y2="2440.7" stroke="#000" stroke-width="2.4"/>
<circle cx="1782.1" cy="2430.6" r="4.8" stroke="#000" stroke-width="2.3" fill="none"/>
<line x1="1818.5" y1="2410.5" x2="1818.5" y2="2425.6" stroke="#000" stroke-width="2.4"/>
<line x1="1813.5" y1="2410.5" x2="1823.5" y2="2410.5" stroke="#000" stroke-width="2.4"/>
<line x1="1813.5" y1="2425.6" x2="1823.5" y2="2425.6" stroke="#000" stroke-width="2.4"/>
<circle cx="1818.5" cy="2418" r="4.8" stroke="#000" stroke-width="2.3" fill="none"/>
<circle cx="1854.8" cy="2410.5" r="4.8" stroke="#000" stroke-width="2.3" fill="none"/>
<line x1="1575.9" y1="2338.5" x2="1575.9" y2="2643.6" stroke="#000" stroke-width="3"/>
<line x1="1567.9" y1="2642.1" x2="1575.9" y2="2642.1" stroke="#000" stroke-width="3"/>
<text x="1563.9" y="2651.1" font-size="27" text-anchor="end" letter-spacing="0.1">0</text>
<line x1="1567.9" y1="2541.4" x2="1575.9" y2="2541.4" stroke="#000" stroke-width="3"/>
<text x="1563.9" y="2550.4" font-size="27" text-anchor="end" letter-spacing="0.1">40</text>
<line x1="1567.9" y1="2440.7" x2="1575.9" y2="2440.7" stroke="#000" stroke-width="3"/>
<text x="1563.9" y="2449.7" font-size="27" text-anchor="end" letter-spacing="0.1">80</text>
<line x1="1567.9" y1="2340" x2="1575.9" y2="2340" stroke="#000" stroke-width="3"/>
<text x="1563.9" y="2349" font-size="27" text-anchor="end" letter-spacing="0.1">120</text>
<line x1="1567" y1="2642.1" x2="1878" y2="2642.1" stroke="#000" stroke-width="2.6"/>
<line x1="1575.9" y1="2642.1" x2="1575.9" y2="2651.1" stroke="#000" stroke-width="3"/>
<text x="1582.9" y="2674" font-size="27" text-anchor="middle" letter-spacing="0.6">0.0</text>
<line x1="1636.5" y1="2642.1" x2="1636.5" y2="2651.1" stroke="#000" stroke-width="3"/>
<text x="1643.5" y="2674" font-size="27" text-anchor="middle" letter-spacing="0.6">0.5</text>
<line x1="1697.2" y1="2642.1" x2="1697.2" y2="2651.1" stroke="#000" stroke-width="3"/>
<text x="1704.2" y="2674" font-size="27" text-anchor="middle" letter-spacing="0.6">1.0</text>
<line x1="1757.8" y1="2642.1" x2="1757.8" y2="2651.1" stroke="#000" stroke-width="3"/>
<text x="1764.8" y="2674" font-size="27" text-anchor="middle" letter-spacing="0.6">1.5</text>
<line x1="1818.5" y1="2642.1" x2="1818.5" y2="2651.1" stroke="#000" stroke-width="3"/>
<text x="1825.5" y="2674" font-size="27" text-anchor="middle" letter-spacing="0.6">2.0</text>
<line x1="1879.1" y1="2642.1" x2="1879.1" y2="2651.1" stroke="#000" stroke-width="3"/>
<text x="1886.1" y="2674" font-size="27" text-anchor="middle" letter-spacing="0.6">2.5</text>
<text x="1733" y="2700.5" font-size="27" text-anchor="middle" textLength="378">IDA Log10(μM) +200nM RSL3</text>
<text x="1526" y="2487.5" font-size="27" text-anchor="middle" textLength="207" transform="rotate(-90 1526 2487.5)">Cell Viability (%)</text>
<circle cx="1609.9" cy="2263.9" r="5.8" stroke="#000" stroke-width="2.3" fill="none"/>
<text x="1630" y="2273.6" font-size="27" letter-spacing="0">Ctrl</text>
<circle cx="1610.8" cy="2292" r="5.8" stroke="#e02020" stroke-width="2.3" fill="none"/>
<text x="1629.4" y="2301.7" font-size="27" letter-spacing="0">AHR KO</text>
<circle cx="1614.5" cy="2320.2" r="5.8" stroke="#a020f0" stroke-width="2.3" fill="none"/>
<text x="1632.3" y="2329.9" font-size="27" letter-spacing="0">NRF2 KO</text></svg></body></html>
